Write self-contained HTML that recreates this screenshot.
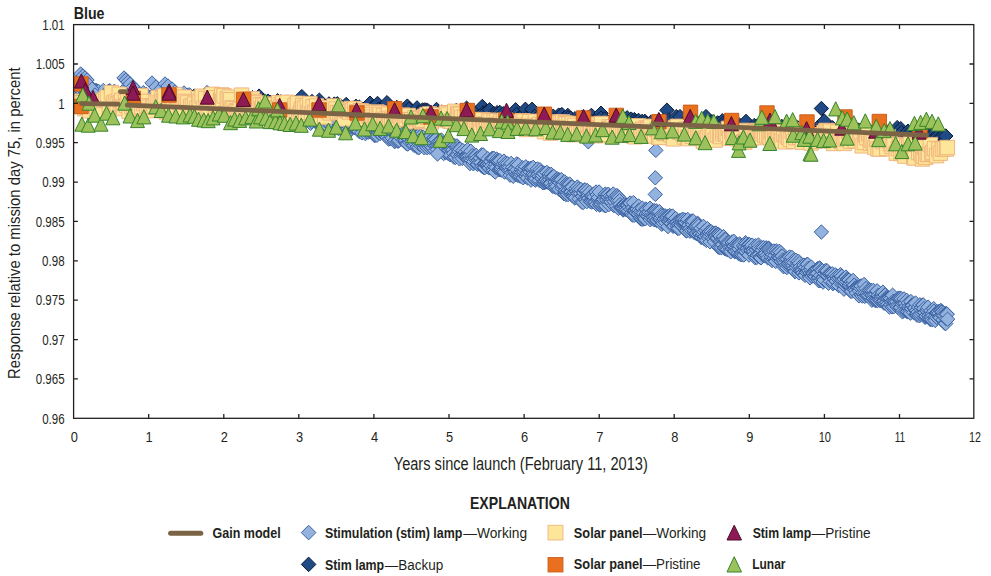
<!DOCTYPE html><html><head><meta charset="utf-8"><style>html,body{margin:0;padding:0;background:#fff;}svg{display:block;}</style></head><body><svg width="991" height="576" viewBox="0 0 991 576"><rect width="991" height="576" fill="#fff"/><defs><clipPath id="pc"><rect x="73.6" y="24.5" width="900.5" height="393.8"/></clipPath></defs><g clip-path="url(#pc)"><g fill="#93b2dd" stroke="#3b62a2" stroke-width="1"><path d="M76 86.3l7.2 7.2-7.2 7.2-7.2-7.2z"/><path d="M76.4 90.9l7.2 7.2-7.2 7.2-7.2-7.2z"/><path d="M76.7 89.3l7.2 7.2-7.2 7.2-7.2-7.2z"/><path d="M77.2 82.7l7.2 7.2-7.2 7.2-7.2-7.2z"/><path d="M77.7 82.4l7.2 7.2-7.2 7.2-7.2-7.2z"/><path d="M78.2 82.9l7.2 7.2-7.2 7.2-7.2-7.2z"/><path d="M78.5 87.9l7.2 7.2-7.2 7.2-7.2-7.2z"/><path d="M79.2 83.7l7.2 7.2-7.2 7.2-7.2-7.2z"/><path d="M79.6 90.8l7.2 7.2-7.2 7.2-7.2-7.2z"/><path d="M80.3 90.1l7.2 7.2-7.2 7.2-7.2-7.2z"/><path d="M80.8 95.7l7.2 7.2-7.2 7.2-7.2-7.2z"/><path d="M81.1 94.1l7.2 7.2-7.2 7.2-7.2-7.2z"/><path d="M81.6 84.1l7.2 7.2-7.2 7.2-7.2-7.2z"/><path d="M81.9 86.4l7.2 7.2-7.2 7.2-7.2-7.2z"/><path d="M82.6 84.7l7.2 7.2-7.2 7.2-7.2-7.2z"/><path d="M83.1 91.1l7.2 7.2-7.2 7.2-7.2-7.2z"/><path d="M83.6 89.9l7.2 7.2-7.2 7.2-7.2-7.2z"/><path d="M83.9 83.1l7.2 7.2-7.2 7.2-7.2-7.2z"/><path d="M84.3 91.8l7.2 7.2-7.2 7.2-7.2-7.2z"/><path d="M84.8 86.7l7.2 7.2-7.2 7.2-7.2-7.2z"/><path d="M85.4 88.7l7.2 7.2-7.2 7.2-7.2-7.2z"/><path d="M85.8 93.5l7.2 7.2-7.2 7.2-7.2-7.2z"/><path d="M86.4 85.8l7.2 7.2-7.2 7.2-7.2-7.2z"/><path d="M87 89.7l7.2 7.2-7.2 7.2-7.2-7.2z"/><path d="M87.7 92.6l7.2 7.2-7.2 7.2-7.2-7.2z"/><path d="M88.1 96.2l7.2 7.2-7.2 7.2-7.2-7.2z"/><path d="M88.5 88.3l7.2 7.2-7.2 7.2-7.2-7.2z"/><path d="M89.1 84.6l7.2 7.2-7.2 7.2-7.2-7.2z"/><path d="M89.6 83.1l7.2 7.2-7.2 7.2-7.2-7.2z"/><path d="M90.2 93.3l7.2 7.2-7.2 7.2-7.2-7.2z"/><path d="M90.8 94.9l7.2 7.2-7.2 7.2-7.2-7.2z"/><path d="M91.2 92.4l7.2 7.2-7.2 7.2-7.2-7.2z"/><path d="M91.8 90.8l7.2 7.2-7.2 7.2-7.2-7.2z"/><path d="M92.3 94.4l7.2 7.2-7.2 7.2-7.2-7.2z"/><path d="M93 89.4l7.2 7.2-7.2 7.2-7.2-7.2z"/><path d="M93.6 83.6l7.2 7.2-7.2 7.2-7.2-7.2z"/><path d="M94.2 91.8l7.2 7.2-7.2 7.2-7.2-7.2z"/><path d="M95 94.3l7.2 7.2-7.2 7.2-7.2-7.2z"/><path d="M95.4 88.3l7.2 7.2-7.2 7.2-7.2-7.2z"/><path d="M96 83.2l7.2 7.2-7.2 7.2-7.2-7.2z"/><path d="M96.5 85.3l7.2 7.2-7.2 7.2-7.2-7.2z"/><path d="M96.9 83.8l7.2 7.2-7.2 7.2-7.2-7.2z"/><path d="M97.5 84.8l7.2 7.2-7.2 7.2-7.2-7.2z"/><path d="M97.9 88.5l7.2 7.2-7.2 7.2-7.2-7.2z"/><path d="M98.6 84.2l7.2 7.2-7.2 7.2-7.2-7.2z"/><path d="M99.1 90.7l7.2 7.2-7.2 7.2-7.2-7.2z"/><path d="M99.8 94.6l7.2 7.2-7.2 7.2-7.2-7.2z"/><path d="M100.5 87l7.2 7.2-7.2 7.2-7.2-7.2z"/><path d="M101 88.2l7.2 7.2-7.2 7.2-7.2-7.2z"/><path d="M101.7 96.6l7.2 7.2-7.2 7.2-7.2-7.2z"/><path d="M102.1 85.7l7.2 7.2-7.2 7.2-7.2-7.2z"/><path d="M102.5 86.5l7.2 7.2-7.2 7.2-7.2-7.2z"/><path d="M103 91.5l7.2 7.2-7.2 7.2-7.2-7.2z"/><path d="M103.4 83.3l7.2 7.2-7.2 7.2-7.2-7.2z"/><path d="M103.9 88.5l7.2 7.2-7.2 7.2-7.2-7.2z"/><path d="M104.5 96.7l7.2 7.2-7.2 7.2-7.2-7.2z"/><path d="M105.1 90.6l7.2 7.2-7.2 7.2-7.2-7.2z"/><path d="M105.6 92.9l7.2 7.2-7.2 7.2-7.2-7.2z"/><path d="M106 96l7.2 7.2-7.2 7.2-7.2-7.2z"/><path d="M106.6 95.7l7.2 7.2-7.2 7.2-7.2-7.2z"/><path d="M107.3 89l7.2 7.2-7.2 7.2-7.2-7.2z"/><path d="M107.8 85l7.2 7.2-7.2 7.2-7.2-7.2z"/><path d="M108.3 84.4l7.2 7.2-7.2 7.2-7.2-7.2z"/><path d="M108.7 86.5l7.2 7.2-7.2 7.2-7.2-7.2z"/><path d="M109 88.3l7.2 7.2-7.2 7.2-7.2-7.2z"/><path d="M109.4 83.6l7.2 7.2-7.2 7.2-7.2-7.2z"/><path d="M109.7 85l7.2 7.2-7.2 7.2-7.2-7.2z"/><path d="M110.2 84l7.2 7.2-7.2 7.2-7.2-7.2z"/><path d="M110.9 92.3l7.2 7.2-7.2 7.2-7.2-7.2z"/><path d="M111.3 87.2l7.2 7.2-7.2 7.2-7.2-7.2z"/><path d="M111.7 88.8l7.2 7.2-7.2 7.2-7.2-7.2z"/><path d="M112.1 95.6l7.2 7.2-7.2 7.2-7.2-7.2z"/><path d="M112.8 90.3l7.2 7.2-7.2 7.2-7.2-7.2z"/><path d="M113.3 85l7.2 7.2-7.2 7.2-7.2-7.2z"/><path d="M113.7 88.6l7.2 7.2-7.2 7.2-7.2-7.2z"/><path d="M114.1 95.5l7.2 7.2-7.2 7.2-7.2-7.2z"/><path d="M114.5 84.2l7.2 7.2-7.2 7.2-7.2-7.2z"/><path d="M115.2 91.3l7.2 7.2-7.2 7.2-7.2-7.2z"/><path d="M115.6 91.5l7.2 7.2-7.2 7.2-7.2-7.2z"/><path d="M115.9 91.3l7.2 7.2-7.2 7.2-7.2-7.2z"/><path d="M116.6 96.1l7.2 7.2-7.2 7.2-7.2-7.2z"/><path d="M117.2 87.7l7.2 7.2-7.2 7.2-7.2-7.2z"/><path d="M117.7 86.4l7.2 7.2-7.2 7.2-7.2-7.2z"/><path d="M118.3 91.5l7.2 7.2-7.2 7.2-7.2-7.2z"/><path d="M119 88.7l7.2 7.2-7.2 7.2-7.2-7.2z"/><path d="M119.4 95.5l7.2 7.2-7.2 7.2-7.2-7.2z"/><path d="M120.1 96.1l7.2 7.2-7.2 7.2-7.2-7.2z"/><path d="M120.8 95.7l7.2 7.2-7.2 7.2-7.2-7.2z"/><path d="M121.4 87.4l7.2 7.2-7.2 7.2-7.2-7.2z"/><path d="M122 89.3l7.2 7.2-7.2 7.2-7.2-7.2z"/><path d="M122.3 84.7l7.2 7.2-7.2 7.2-7.2-7.2z"/><path d="M122.7 88l7.2 7.2-7.2 7.2-7.2-7.2z"/><path d="M123.3 97.7l7.2 7.2-7.2 7.2-7.2-7.2z"/><path d="M123.8 97.5l7.2 7.2-7.2 7.2-7.2-7.2z"/><path d="M124.6 97.8l7.2 7.2-7.2 7.2-7.2-7.2z"/><path d="M125 87.5l7.2 7.2-7.2 7.2-7.2-7.2z"/><path d="M125.4 87.2l7.2 7.2-7.2 7.2-7.2-7.2z"/><path d="M125.8 93.2l7.2 7.2-7.2 7.2-7.2-7.2z"/><path d="M126.5 96.3l7.2 7.2-7.2 7.2-7.2-7.2z"/><path d="M127 93.7l7.2 7.2-7.2 7.2-7.2-7.2z"/><path d="M127.7 85.8l7.2 7.2-7.2 7.2-7.2-7.2z"/><path d="M128.3 97.4l7.2 7.2-7.2 7.2-7.2-7.2z"/><path d="M129 95.2l7.2 7.2-7.2 7.2-7.2-7.2z"/><path d="M129.5 87.2l7.2 7.2-7.2 7.2-7.2-7.2z"/><path d="M130.1 89.4l7.2 7.2-7.2 7.2-7.2-7.2z"/><path d="M130.8 98.4l7.2 7.2-7.2 7.2-7.2-7.2z"/><path d="M131.3 90.4l7.2 7.2-7.2 7.2-7.2-7.2z"/><path d="M132 95l7.2 7.2-7.2 7.2-7.2-7.2z"/><path d="M132.4 86.6l7.2 7.2-7.2 7.2-7.2-7.2z"/><path d="M132.7 97.5l7.2 7.2-7.2 7.2-7.2-7.2z"/><path d="M133.4 86.9l7.2 7.2-7.2 7.2-7.2-7.2z"/><path d="M134.1 98.7l7.2 7.2-7.2 7.2-7.2-7.2z"/><path d="M134.7 89.9l7.2 7.2-7.2 7.2-7.2-7.2z"/><path d="M135.2 86.8l7.2 7.2-7.2 7.2-7.2-7.2z"/><path d="M135.5 98.6l7.2 7.2-7.2 7.2-7.2-7.2z"/><path d="M136.1 92.4l7.2 7.2-7.2 7.2-7.2-7.2z"/><path d="M136.8 91.2l7.2 7.2-7.2 7.2-7.2-7.2z"/><path d="M137.5 96.7l7.2 7.2-7.2 7.2-7.2-7.2z"/><path d="M137.9 88.7l7.2 7.2-7.2 7.2-7.2-7.2z"/><path d="M138.3 88.5l7.2 7.2-7.2 7.2-7.2-7.2z"/><path d="M138.9 88.8l7.2 7.2-7.2 7.2-7.2-7.2z"/><path d="M139.4 87.1l7.2 7.2-7.2 7.2-7.2-7.2z"/><path d="M140.1 90.2l7.2 7.2-7.2 7.2-7.2-7.2z"/><path d="M140.6 93.5l7.2 7.2-7.2 7.2-7.2-7.2z"/><path d="M141.3 91.2l7.2 7.2-7.2 7.2-7.2-7.2z"/><path d="M142 92.4l7.2 7.2-7.2 7.2-7.2-7.2z"/><path d="M142.6 92.7l7.2 7.2-7.2 7.2-7.2-7.2z"/><path d="M142.9 91.6l7.2 7.2-7.2 7.2-7.2-7.2z"/><path d="M143.3 85.5l7.2 7.2-7.2 7.2-7.2-7.2z"/><path d="M143.9 87.9l7.2 7.2-7.2 7.2-7.2-7.2z"/><path d="M144.4 95.7l7.2 7.2-7.2 7.2-7.2-7.2z"/><path d="M145 90.1l7.2 7.2-7.2 7.2-7.2-7.2z"/><path d="M145.5 93.3l7.2 7.2-7.2 7.2-7.2-7.2z"/><path d="M146.2 87.1l7.2 7.2-7.2 7.2-7.2-7.2z"/><path d="M146.7 89.1l7.2 7.2-7.2 7.2-7.2-7.2z"/><path d="M147.2 96.5l7.2 7.2-7.2 7.2-7.2-7.2z"/><path d="M147.7 93.5l7.2 7.2-7.2 7.2-7.2-7.2z"/><path d="M148.3 98.5l7.2 7.2-7.2 7.2-7.2-7.2z"/><path d="M148.8 94.3l7.2 7.2-7.2 7.2-7.2-7.2z"/><path d="M149.3 92.9l7.2 7.2-7.2 7.2-7.2-7.2z"/><path d="M150 92.1l7.2 7.2-7.2 7.2-7.2-7.2z"/><path d="M150.5 92.5l7.2 7.2-7.2 7.2-7.2-7.2z"/><path d="M151.2 95.7l7.2 7.2-7.2 7.2-7.2-7.2z"/><path d="M151.9 99.1l7.2 7.2-7.2 7.2-7.2-7.2z"/><path d="M152.3 93.8l7.2 7.2-7.2 7.2-7.2-7.2z"/><path d="M153.1 97.7l7.2 7.2-7.2 7.2-7.2-7.2z"/><path d="M153.4 87.7l7.2 7.2-7.2 7.2-7.2-7.2z"/><path d="M153.9 87l7.2 7.2-7.2 7.2-7.2-7.2z"/><path d="M154.3 87.1l7.2 7.2-7.2 7.2-7.2-7.2z"/><path d="M154.9 97l7.2 7.2-7.2 7.2-7.2-7.2z"/><path d="M155.6 88.3l7.2 7.2-7.2 7.2-7.2-7.2z"/><path d="M156.3 95.4l7.2 7.2-7.2 7.2-7.2-7.2z"/><path d="M156.6 98.5l7.2 7.2-7.2 7.2-7.2-7.2z"/><path d="M157.4 89.3l7.2 7.2-7.2 7.2-7.2-7.2z"/><path d="M158.1 91.8l7.2 7.2-7.2 7.2-7.2-7.2z"/><path d="M158.6 100.1l7.2 7.2-7.2 7.2-7.2-7.2z"/><path d="M159.3 88.6l7.2 7.2-7.2 7.2-7.2-7.2z"/><path d="M159.8 93.5l7.2 7.2-7.2 7.2-7.2-7.2z"/><path d="M160.2 89.1l7.2 7.2-7.2 7.2-7.2-7.2z"/><path d="M160.7 96.5l7.2 7.2-7.2 7.2-7.2-7.2z"/><path d="M161 94.1l7.2 7.2-7.2 7.2-7.2-7.2z"/><path d="M161.5 86.7l7.2 7.2-7.2 7.2-7.2-7.2z"/><path d="M161.9 95.2l7.2 7.2-7.2 7.2-7.2-7.2z"/><path d="M162.5 87.4l7.2 7.2-7.2 7.2-7.2-7.2z"/><path d="M163.2 97.5l7.2 7.2-7.2 7.2-7.2-7.2z"/><path d="M163.9 88l7.2 7.2-7.2 7.2-7.2-7.2z"/><path d="M164.4 87.1l7.2 7.2-7.2 7.2-7.2-7.2z"/><path d="M165 90.4l7.2 7.2-7.2 7.2-7.2-7.2z"/><path d="M165.4 92.5l7.2 7.2-7.2 7.2-7.2-7.2z"/><path d="M166.1 98.1l7.2 7.2-7.2 7.2-7.2-7.2z"/><path d="M166.5 88.8l7.2 7.2-7.2 7.2-7.2-7.2z"/><path d="M167.2 94.7l7.2 7.2-7.2 7.2-7.2-7.2z"/><path d="M167.8 88l7.2 7.2-7.2 7.2-7.2-7.2z"/><path d="M168.1 96.4l7.2 7.2-7.2 7.2-7.2-7.2z"/><path d="M168.6 87.8l7.2 7.2-7.2 7.2-7.2-7.2z"/><path d="M169.4 95.7l7.2 7.2-7.2 7.2-7.2-7.2z"/><path d="M170 88l7.2 7.2-7.2 7.2-7.2-7.2z"/><path d="M170.7 87.8l7.2 7.2-7.2 7.2-7.2-7.2z"/><path d="M171.4 93.3l7.2 7.2-7.2 7.2-7.2-7.2z"/><path d="M171.8 94.7l7.2 7.2-7.2 7.2-7.2-7.2z"/><path d="M172.6 90.8l7.2 7.2-7.2 7.2-7.2-7.2z"/><path d="M172.9 94.4l7.2 7.2-7.2 7.2-7.2-7.2z"/><path d="M173.3 88.6l7.2 7.2-7.2 7.2-7.2-7.2z"/><path d="M173.7 87.8l7.2 7.2-7.2 7.2-7.2-7.2z"/><path d="M174.1 91.5l7.2 7.2-7.2 7.2-7.2-7.2z"/><path d="M174.5 97.7l7.2 7.2-7.2 7.2-7.2-7.2z"/><path d="M175 94.1l7.2 7.2-7.2 7.2-7.2-7.2z"/><path d="M175.3 92l7.2 7.2-7.2 7.2-7.2-7.2z"/><path d="M175.6 90.7l7.2 7.2-7.2 7.2-7.2-7.2z"/><path d="M176 97.4l7.2 7.2-7.2 7.2-7.2-7.2z"/><path d="M176.5 89.9l7.2 7.2-7.2 7.2-7.2-7.2z"/><path d="M177 100.3l7.2 7.2-7.2 7.2-7.2-7.2z"/><path d="M177.4 98.7l7.2 7.2-7.2 7.2-7.2-7.2z"/><path d="M177.9 94.2l7.2 7.2-7.2 7.2-7.2-7.2z"/><path d="M178.5 92.8l7.2 7.2-7.2 7.2-7.2-7.2z"/><path d="M179.1 97l7.2 7.2-7.2 7.2-7.2-7.2z"/><path d="M179.8 92.2l7.2 7.2-7.2 7.2-7.2-7.2z"/><path d="M180.5 97.3l7.2 7.2-7.2 7.2-7.2-7.2z"/><path d="M181.1 93.1l7.2 7.2-7.2 7.2-7.2-7.2z"/><path d="M181.5 88.2l7.2 7.2-7.2 7.2-7.2-7.2z"/><path d="M181.9 88.5l7.2 7.2-7.2 7.2-7.2-7.2z"/><path d="M182.5 91.1l7.2 7.2-7.2 7.2-7.2-7.2z"/><path d="M182.9 88.7l7.2 7.2-7.2 7.2-7.2-7.2z"/><path d="M183.6 99.8l7.2 7.2-7.2 7.2-7.2-7.2z"/><path d="M184.2 91.6l7.2 7.2-7.2 7.2-7.2-7.2z"/><path d="M184.6 91.7l7.2 7.2-7.2 7.2-7.2-7.2z"/><path d="M185.1 89.9l7.2 7.2-7.2 7.2-7.2-7.2z"/><path d="M185.6 91.4l7.2 7.2-7.2 7.2-7.2-7.2z"/><path d="M186.3 101.4l7.2 7.2-7.2 7.2-7.2-7.2z"/><path d="M186.9 91.2l7.2 7.2-7.2 7.2-7.2-7.2z"/><path d="M187.6 92.1l7.2 7.2-7.2 7.2-7.2-7.2z"/><path d="M188.1 87.8l7.2 7.2-7.2 7.2-7.2-7.2z"/><path d="M188.5 94.5l7.2 7.2-7.2 7.2-7.2-7.2z"/><path d="M189.1 90.7l7.2 7.2-7.2 7.2-7.2-7.2z"/><path d="M189.6 88l7.2 7.2-7.2 7.2-7.2-7.2z"/><path d="M190 89.2l7.2 7.2-7.2 7.2-7.2-7.2z"/><path d="M190.5 88.5l7.2 7.2-7.2 7.2-7.2-7.2z"/><path d="M190.8 92.2l7.2 7.2-7.2 7.2-7.2-7.2z"/><path d="M191.2 96.2l7.2 7.2-7.2 7.2-7.2-7.2z"/><path d="M191.7 98.5l7.2 7.2-7.2 7.2-7.2-7.2z"/><path d="M192.3 98.1l7.2 7.2-7.2 7.2-7.2-7.2z"/><path d="M193 93.5l7.2 7.2-7.2 7.2-7.2-7.2z"/><path d="M193.5 101.9l7.2 7.2-7.2 7.2-7.2-7.2z"/><path d="M193.8 98.3l7.2 7.2-7.2 7.2-7.2-7.2z"/><path d="M194.4 88.8l7.2 7.2-7.2 7.2-7.2-7.2z"/><path d="M195.1 100.7l7.2 7.2-7.2 7.2-7.2-7.2z"/><path d="M195.7 98.5l7.2 7.2-7.2 7.2-7.2-7.2z"/><path d="M196.4 90.2l7.2 7.2-7.2 7.2-7.2-7.2z"/><path d="M196.9 95.4l7.2 7.2-7.2 7.2-7.2-7.2z"/><path d="M197.6 99.6l7.2 7.2-7.2 7.2-7.2-7.2z"/><path d="M198.2 96.5l7.2 7.2-7.2 7.2-7.2-7.2z"/><path d="M198.9 98l7.2 7.2-7.2 7.2-7.2-7.2z"/><path d="M199.6 91.7l7.2 7.2-7.2 7.2-7.2-7.2z"/><path d="M199.9 90.3l7.2 7.2-7.2 7.2-7.2-7.2z"/><path d="M200.3 90l7.2 7.2-7.2 7.2-7.2-7.2z"/><path d="M201 96.3l7.2 7.2-7.2 7.2-7.2-7.2z"/><path d="M201.6 97.3l7.2 7.2-7.2 7.2-7.2-7.2z"/><path d="M202.2 95.4l7.2 7.2-7.2 7.2-7.2-7.2z"/><path d="M202.5 99.8l7.2 7.2-7.2 7.2-7.2-7.2z"/><path d="M203.1 95.7l7.2 7.2-7.2 7.2-7.2-7.2z"/><path d="M203.7 97.9l7.2 7.2-7.2 7.2-7.2-7.2z"/><path d="M204 99l7.2 7.2-7.2 7.2-7.2-7.2z"/><path d="M204.4 89.7l7.2 7.2-7.2 7.2-7.2-7.2z"/><path d="M204.8 98.9l7.2 7.2-7.2 7.2-7.2-7.2z"/><path d="M205.2 99.1l7.2 7.2-7.2 7.2-7.2-7.2z"/><path d="M206 95.7l7.2 7.2-7.2 7.2-7.2-7.2z"/><path d="M206.4 95.5l7.2 7.2-7.2 7.2-7.2-7.2z"/><path d="M207 99.6l7.2 7.2-7.2 7.2-7.2-7.2z"/><path d="M207.6 97.9l7.2 7.2-7.2 7.2-7.2-7.2z"/><path d="M208 91l7.2 7.2-7.2 7.2-7.2-7.2z"/><path d="M208.4 99.3l7.2 7.2-7.2 7.2-7.2-7.2z"/><path d="M208.8 96.9l7.2 7.2-7.2 7.2-7.2-7.2z"/><path d="M209.1 89.8l7.2 7.2-7.2 7.2-7.2-7.2z"/><path d="M209.5 98.4l7.2 7.2-7.2 7.2-7.2-7.2z"/><path d="M210.1 98.5l7.2 7.2-7.2 7.2-7.2-7.2z"/><path d="M210.6 96.3l7.2 7.2-7.2 7.2-7.2-7.2z"/><path d="M211.1 95.6l7.2 7.2-7.2 7.2-7.2-7.2z"/><path d="M211.4 101.6l7.2 7.2-7.2 7.2-7.2-7.2z"/><path d="M211.8 102.8l7.2 7.2-7.2 7.2-7.2-7.2z"/><path d="M212.6 89.4l7.2 7.2-7.2 7.2-7.2-7.2z"/><path d="M213.1 100.6l7.2 7.2-7.2 7.2-7.2-7.2z"/><path d="M213.8 95.5l7.2 7.2-7.2 7.2-7.2-7.2z"/><path d="M214.2 92.2l7.2 7.2-7.2 7.2-7.2-7.2z"/><path d="M214.9 92.2l7.2 7.2-7.2 7.2-7.2-7.2z"/><path d="M215.5 91.3l7.2 7.2-7.2 7.2-7.2-7.2z"/><path d="M216 102.7l7.2 7.2-7.2 7.2-7.2-7.2z"/><path d="M216.4 100.8l7.2 7.2-7.2 7.2-7.2-7.2z"/><path d="M216.9 101.8l7.2 7.2-7.2 7.2-7.2-7.2z"/><path d="M217.5 92.6l7.2 7.2-7.2 7.2-7.2-7.2z"/><path d="M218.2 96.2l7.2 7.2-7.2 7.2-7.2-7.2z"/><path d="M218.6 89.5l7.2 7.2-7.2 7.2-7.2-7.2z"/><path d="M219.1 95.8l7.2 7.2-7.2 7.2-7.2-7.2z"/><path d="M219.5 91.5l7.2 7.2-7.2 7.2-7.2-7.2z"/><path d="M220 94l7.2 7.2-7.2 7.2-7.2-7.2z"/><path d="M220.6 89.6l7.2 7.2-7.2 7.2-7.2-7.2z"/><path d="M221.3 101.3l7.2 7.2-7.2 7.2-7.2-7.2z"/><path d="M221.6 102.6l7.2 7.2-7.2 7.2-7.2-7.2z"/><path d="M222.3 102.3l7.2 7.2-7.2 7.2-7.2-7.2z"/><path d="M222.7 94.9l7.2 7.2-7.2 7.2-7.2-7.2z"/><path d="M223.2 103.7l7.2 7.2-7.2 7.2-7.2-7.2z"/><path d="M223.7 94.8l7.2 7.2-7.2 7.2-7.2-7.2z"/><path d="M224.2 93.6l7.2 7.2-7.2 7.2-7.2-7.2z"/><path d="M224.5 91.2l7.2 7.2-7.2 7.2-7.2-7.2z"/><path d="M225.2 93.8l7.2 7.2-7.2 7.2-7.2-7.2z"/><path d="M225.9 93.5l7.2 7.2-7.2 7.2-7.2-7.2z"/><path d="M226.4 97.2l7.2 7.2-7.2 7.2-7.2-7.2z"/><path d="M226.7 95.3l7.2 7.2-7.2 7.2-7.2-7.2z"/><path d="M227.5 102.6l7.2 7.2-7.2 7.2-7.2-7.2z"/><path d="M228.1 99.2l7.2 7.2-7.2 7.2-7.2-7.2z"/><path d="M228.9 103.6l7.2 7.2-7.2 7.2-7.2-7.2z"/><path d="M229.4 100.6l7.2 7.2-7.2 7.2-7.2-7.2z"/><path d="M229.7 100.9l7.2 7.2-7.2 7.2-7.2-7.2z"/><path d="M230.2 101.3l7.2 7.2-7.2 7.2-7.2-7.2z"/><path d="M230.8 94.8l7.2 7.2-7.2 7.2-7.2-7.2z"/><path d="M231.1 103.8l7.2 7.2-7.2 7.2-7.2-7.2z"/><path d="M231.5 97.5l7.2 7.2-7.2 7.2-7.2-7.2z"/><path d="M232 95.2l7.2 7.2-7.2 7.2-7.2-7.2z"/><path d="M232.6 104.8l7.2 7.2-7.2 7.2-7.2-7.2z"/><path d="M233 100.4l7.2 7.2-7.2 7.2-7.2-7.2z"/><path d="M233.4 99.1l7.2 7.2-7.2 7.2-7.2-7.2z"/><path d="M233.9 93.7l7.2 7.2-7.2 7.2-7.2-7.2z"/><path d="M234.3 94.3l7.2 7.2-7.2 7.2-7.2-7.2z"/><path d="M235 98.5l7.2 7.2-7.2 7.2-7.2-7.2z"/><path d="M235.4 104.3l7.2 7.2-7.2 7.2-7.2-7.2z"/><path d="M236.1 98l7.2 7.2-7.2 7.2-7.2-7.2z"/><path d="M236.5 94.5l7.2 7.2-7.2 7.2-7.2-7.2z"/><path d="M236.8 96.7l7.2 7.2-7.2 7.2-7.2-7.2z"/><path d="M237.2 95.3l7.2 7.2-7.2 7.2-7.2-7.2z"/><path d="M237.6 100l7.2 7.2-7.2 7.2-7.2-7.2z"/><path d="M238.3 102.6l7.2 7.2-7.2 7.2-7.2-7.2z"/><path d="M238.8 98l7.2 7.2-7.2 7.2-7.2-7.2z"/><path d="M239.3 97.6l7.2 7.2-7.2 7.2-7.2-7.2z"/><path d="M239.8 93.3l7.2 7.2-7.2 7.2-7.2-7.2z"/><path d="M240.2 106l7.2 7.2-7.2 7.2-7.2-7.2z"/><path d="M240.6 99.6l7.2 7.2-7.2 7.2-7.2-7.2z"/><path d="M241.1 104.7l7.2 7.2-7.2 7.2-7.2-7.2z"/><path d="M241.5 96.5l7.2 7.2-7.2 7.2-7.2-7.2z"/><path d="M241.9 98.4l7.2 7.2-7.2 7.2-7.2-7.2z"/><path d="M242.4 106.2l7.2 7.2-7.2 7.2-7.2-7.2z"/><path d="M243.1 105.2l7.2 7.2-7.2 7.2-7.2-7.2z"/><path d="M243.4 93.5l7.2 7.2-7.2 7.2-7.2-7.2z"/><path d="M244.1 105.7l7.2 7.2-7.2 7.2-7.2-7.2z"/><path d="M244.6 101.4l7.2 7.2-7.2 7.2-7.2-7.2z"/><path d="M244.9 98.8l7.2 7.2-7.2 7.2-7.2-7.2z"/><path d="M245.6 105l7.2 7.2-7.2 7.2-7.2-7.2z"/><path d="M246.3 107.1l7.2 7.2-7.2 7.2-7.2-7.2z"/><path d="M246.7 95.1l7.2 7.2-7.2 7.2-7.2-7.2z"/><path d="M247.1 101l7.2 7.2-7.2 7.2-7.2-7.2z"/><path d="M247.7 106.9l7.2 7.2-7.2 7.2-7.2-7.2z"/><path d="M248.3 102.9l7.2 7.2-7.2 7.2-7.2-7.2z"/><path d="M248.9 100.4l7.2 7.2-7.2 7.2-7.2-7.2z"/><path d="M249.5 94.6l7.2 7.2-7.2 7.2-7.2-7.2z"/><path d="M250.1 97.5l7.2 7.2-7.2 7.2-7.2-7.2z"/><path d="M250.8 103.4l7.2 7.2-7.2 7.2-7.2-7.2z"/><path d="M251.3 96.2l7.2 7.2-7.2 7.2-7.2-7.2z"/><path d="M251.7 103.4l7.2 7.2-7.2 7.2-7.2-7.2z"/><path d="M252.3 96.1l7.2 7.2-7.2 7.2-7.2-7.2z"/><path d="M252.6 102l7.2 7.2-7.2 7.2-7.2-7.2z"/><path d="M253.2 100.2l7.2 7.2-7.2 7.2-7.2-7.2z"/><path d="M253.6 103.2l7.2 7.2-7.2 7.2-7.2-7.2z"/><path d="M253.9 99.1l7.2 7.2-7.2 7.2-7.2-7.2z"/><path d="M254.4 108.4l7.2 7.2-7.2 7.2-7.2-7.2z"/><path d="M255 107.4l7.2 7.2-7.2 7.2-7.2-7.2z"/><path d="M255.5 98.4l7.2 7.2-7.2 7.2-7.2-7.2z"/><path d="M255.9 108.7l7.2 7.2-7.2 7.2-7.2-7.2z"/><path d="M256.6 99.6l7.2 7.2-7.2 7.2-7.2-7.2z"/><path d="M256.9 102.4l7.2 7.2-7.2 7.2-7.2-7.2z"/><path d="M257.5 101.4l7.2 7.2-7.2 7.2-7.2-7.2z"/><path d="M257.9 104.9l7.2 7.2-7.2 7.2-7.2-7.2z"/><path d="M258.6 98.9l7.2 7.2-7.2 7.2-7.2-7.2z"/><path d="M258.9 100.5l7.2 7.2-7.2 7.2-7.2-7.2z"/><path d="M259.4 105.4l7.2 7.2-7.2 7.2-7.2-7.2z"/><path d="M259.8 107l7.2 7.2-7.2 7.2-7.2-7.2z"/><path d="M260.4 103.1l7.2 7.2-7.2 7.2-7.2-7.2z"/><path d="M260.8 109.6l7.2 7.2-7.2 7.2-7.2-7.2z"/><path d="M261.3 107.6l7.2 7.2-7.2 7.2-7.2-7.2z"/><path d="M261.7 99.3l7.2 7.2-7.2 7.2-7.2-7.2z"/><path d="M262.3 100.5l7.2 7.2-7.2 7.2-7.2-7.2z"/><path d="M263 103.4l7.2 7.2-7.2 7.2-7.2-7.2z"/><path d="M263.4 99.6l7.2 7.2-7.2 7.2-7.2-7.2z"/><path d="M263.9 105.9l7.2 7.2-7.2 7.2-7.2-7.2z"/><path d="M264.6 98.8l7.2 7.2-7.2 7.2-7.2-7.2z"/><path d="M265.1 99.8l7.2 7.2-7.2 7.2-7.2-7.2z"/><path d="M265.8 98.9l7.2 7.2-7.2 7.2-7.2-7.2z"/><path d="M266.2 97.8l7.2 7.2-7.2 7.2-7.2-7.2z"/><path d="M266.6 109.6l7.2 7.2-7.2 7.2-7.2-7.2z"/><path d="M267.3 107.4l7.2 7.2-7.2 7.2-7.2-7.2z"/><path d="M268.1 110.3l7.2 7.2-7.2 7.2-7.2-7.2z"/><path d="M268.5 100l7.2 7.2-7.2 7.2-7.2-7.2z"/><path d="M269.3 107.9l7.2 7.2-7.2 7.2-7.2-7.2z"/><path d="M269.6 106.8l7.2 7.2-7.2 7.2-7.2-7.2z"/><path d="M270 102.8l7.2 7.2-7.2 7.2-7.2-7.2z"/><path d="M270.5 100l7.2 7.2-7.2 7.2-7.2-7.2z"/><path d="M270.8 101.6l7.2 7.2-7.2 7.2-7.2-7.2z"/><path d="M271.3 111.2l7.2 7.2-7.2 7.2-7.2-7.2z"/><path d="M271.6 111.3l7.2 7.2-7.2 7.2-7.2-7.2z"/><path d="M272 102.9l7.2 7.2-7.2 7.2-7.2-7.2z"/><path d="M272.7 109.5l7.2 7.2-7.2 7.2-7.2-7.2z"/><path d="M273.2 98.8l7.2 7.2-7.2 7.2-7.2-7.2z"/><path d="M273.7 103.4l7.2 7.2-7.2 7.2-7.2-7.2z"/><path d="M274.4 101l7.2 7.2-7.2 7.2-7.2-7.2z"/><path d="M274.9 110.9l7.2 7.2-7.2 7.2-7.2-7.2z"/><path d="M275.2 104.1l7.2 7.2-7.2 7.2-7.2-7.2z"/><path d="M275.8 109.2l7.2 7.2-7.2 7.2-7.2-7.2z"/><path d="M276.2 99l7.2 7.2-7.2 7.2-7.2-7.2z"/><path d="M276.5 111.5l7.2 7.2-7.2 7.2-7.2-7.2z"/><path d="M276.9 109.1l7.2 7.2-7.2 7.2-7.2-7.2z"/><path d="M277.6 103.5l7.2 7.2-7.2 7.2-7.2-7.2z"/><path d="M278 112.3l7.2 7.2-7.2 7.2-7.2-7.2z"/><path d="M278.6 102.6l7.2 7.2-7.2 7.2-7.2-7.2z"/><path d="M279.2 103.5l7.2 7.2-7.2 7.2-7.2-7.2z"/><path d="M279.6 99.2l7.2 7.2-7.2 7.2-7.2-7.2z"/><path d="M280.3 112l7.2 7.2-7.2 7.2-7.2-7.2z"/><path d="M280.9 112.5l7.2 7.2-7.2 7.2-7.2-7.2z"/><path d="M281.2 102.6l7.2 7.2-7.2 7.2-7.2-7.2z"/><path d="M281.7 112.8l7.2 7.2-7.2 7.2-7.2-7.2z"/><path d="M282.4 105l7.2 7.2-7.2 7.2-7.2-7.2z"/><path d="M282.8 105.6l7.2 7.2-7.2 7.2-7.2-7.2z"/><path d="M283.4 112.7l7.2 7.2-7.2 7.2-7.2-7.2z"/><path d="M283.7 111l7.2 7.2-7.2 7.2-7.2-7.2z"/><path d="M284.4 111.4l7.2 7.2-7.2 7.2-7.2-7.2z"/><path d="M285 108.4l7.2 7.2-7.2 7.2-7.2-7.2z"/><path d="M285.5 104.5l7.2 7.2-7.2 7.2-7.2-7.2z"/><path d="M285.9 111l7.2 7.2-7.2 7.2-7.2-7.2z"/><path d="M286.3 102.9l7.2 7.2-7.2 7.2-7.2-7.2z"/><path d="M286.9 103.7l7.2 7.2-7.2 7.2-7.2-7.2z"/><path d="M287.2 100.8l7.2 7.2-7.2 7.2-7.2-7.2z"/><path d="M287.8 104.9l7.2 7.2-7.2 7.2-7.2-7.2z"/><path d="M288.5 112.9l7.2 7.2-7.2 7.2-7.2-7.2z"/><path d="M289.3 104.3l7.2 7.2-7.2 7.2-7.2-7.2z"/><path d="M289.6 102l7.2 7.2-7.2 7.2-7.2-7.2z"/><path d="M290.1 110.7l7.2 7.2-7.2 7.2-7.2-7.2z"/><path d="M290.6 104.1l7.2 7.2-7.2 7.2-7.2-7.2z"/><path d="M291.1 109.6l7.2 7.2-7.2 7.2-7.2-7.2z"/><path d="M291.7 111.5l7.2 7.2-7.2 7.2-7.2-7.2z"/><path d="M292.4 110.4l7.2 7.2-7.2 7.2-7.2-7.2z"/><path d="M292.8 112.9l7.2 7.2-7.2 7.2-7.2-7.2z"/><path d="M293.2 109.2l7.2 7.2-7.2 7.2-7.2-7.2z"/><path d="M293.7 111.6l7.2 7.2-7.2 7.2-7.2-7.2z"/><path d="M294.1 104.8l7.2 7.2-7.2 7.2-7.2-7.2z"/><path d="M294.5 103.6l7.2 7.2-7.2 7.2-7.2-7.2z"/><path d="M295.2 109.6l7.2 7.2-7.2 7.2-7.2-7.2z"/><path d="M295.6 107.2l7.2 7.2-7.2 7.2-7.2-7.2z"/><path d="M296.4 108.8l7.2 7.2-7.2 7.2-7.2-7.2z"/><path d="M296.8 113.1l7.2 7.2-7.2 7.2-7.2-7.2z"/><path d="M297.4 115.8l7.2 7.2-7.2 7.2-7.2-7.2z"/><path d="M297.7 108.6l7.2 7.2-7.2 7.2-7.2-7.2z"/><path d="M298.4 113.8l7.2 7.2-7.2 7.2-7.2-7.2z"/><path d="M299.1 102.7l7.2 7.2-7.2 7.2-7.2-7.2z"/><path d="M299.5 103.9l7.2 7.2-7.2 7.2-7.2-7.2z"/><path d="M299.9 115.9l7.2 7.2-7.2 7.2-7.2-7.2z"/><path d="M300.5 115.4l7.2 7.2-7.2 7.2-7.2-7.2z"/><path d="M300.9 114.6l7.2 7.2-7.2 7.2-7.2-7.2z"/><path d="M301.4 106.2l7.2 7.2-7.2 7.2-7.2-7.2z"/><path d="M302.1 115.9l7.2 7.2-7.2 7.2-7.2-7.2z"/><path d="M302.4 111l7.2 7.2-7.2 7.2-7.2-7.2z"/><path d="M303 105.8l7.2 7.2-7.2 7.2-7.2-7.2z"/><path d="M303.5 104.8l7.2 7.2-7.2 7.2-7.2-7.2z"/><path d="M303.9 106.5l7.2 7.2-7.2 7.2-7.2-7.2z"/><path d="M304.4 112.1l7.2 7.2-7.2 7.2-7.2-7.2z"/><path d="M304.8 103.2l7.2 7.2-7.2 7.2-7.2-7.2z"/><path d="M305.3 112.6l7.2 7.2-7.2 7.2-7.2-7.2z"/><path d="M305.7 107.6l7.2 7.2-7.2 7.2-7.2-7.2z"/><path d="M306 114.4l7.2 7.2-7.2 7.2-7.2-7.2z"/><path d="M306.6 104.2l7.2 7.2-7.2 7.2-7.2-7.2z"/><path d="M306.9 108.9l7.2 7.2-7.2 7.2-7.2-7.2z"/><path d="M307.5 112.4l7.2 7.2-7.2 7.2-7.2-7.2z"/><path d="M307.8 105.8l7.2 7.2-7.2 7.2-7.2-7.2z"/><path d="M308.4 109.4l7.2 7.2-7.2 7.2-7.2-7.2z"/><path d="M308.9 108l7.2 7.2-7.2 7.2-7.2-7.2z"/><path d="M309.6 108.2l7.2 7.2-7.2 7.2-7.2-7.2z"/><path d="M310.2 108.9l7.2 7.2-7.2 7.2-7.2-7.2z"/><path d="M310.6 116.1l7.2 7.2-7.2 7.2-7.2-7.2z"/><path d="M311.4 109.2l7.2 7.2-7.2 7.2-7.2-7.2z"/><path d="M311.8 114.3l7.2 7.2-7.2 7.2-7.2-7.2z"/><path d="M312.2 104.3l7.2 7.2-7.2 7.2-7.2-7.2z"/><path d="M312.9 110.3l7.2 7.2-7.2 7.2-7.2-7.2z"/><path d="M313.5 110.1l7.2 7.2-7.2 7.2-7.2-7.2z"/><path d="M314.2 111l7.2 7.2-7.2 7.2-7.2-7.2z"/><path d="M314.6 104.8l7.2 7.2-7.2 7.2-7.2-7.2z"/><path d="M315.2 113.7l7.2 7.2-7.2 7.2-7.2-7.2z"/><path d="M315.9 106l7.2 7.2-7.2 7.2-7.2-7.2z"/><path d="M316.5 110.1l7.2 7.2-7.2 7.2-7.2-7.2z"/><path d="M317 107l7.2 7.2-7.2 7.2-7.2-7.2z"/><path d="M317.4 112.3l7.2 7.2-7.2 7.2-7.2-7.2z"/><path d="M318.1 106.7l7.2 7.2-7.2 7.2-7.2-7.2z"/><path d="M318.6 116.5l7.2 7.2-7.2 7.2-7.2-7.2z"/><path d="M319.4 108.1l7.2 7.2-7.2 7.2-7.2-7.2z"/><path d="M319.7 118.6l7.2 7.2-7.2 7.2-7.2-7.2z"/><path d="M320.5 112.3l7.2 7.2-7.2 7.2-7.2-7.2z"/><path d="M320.8 118.5l7.2 7.2-7.2 7.2-7.2-7.2z"/><path d="M321.3 118.3l7.2 7.2-7.2 7.2-7.2-7.2z"/><path d="M321.9 117.3l7.2 7.2-7.2 7.2-7.2-7.2z"/><path d="M322.2 116.8l7.2 7.2-7.2 7.2-7.2-7.2z"/><path d="M322.6 111.5l7.2 7.2-7.2 7.2-7.2-7.2z"/><path d="M323.3 117.6l7.2 7.2-7.2 7.2-7.2-7.2z"/><path d="M323.7 109.1l7.2 7.2-7.2 7.2-7.2-7.2z"/><path d="M324.2 113.3l7.2 7.2-7.2 7.2-7.2-7.2z"/><path d="M324.6 107.9l7.2 7.2-7.2 7.2-7.2-7.2z"/><path d="M325.1 116.4l7.2 7.2-7.2 7.2-7.2-7.2z"/><path d="M325.8 106.9l7.2 7.2-7.2 7.2-7.2-7.2z"/><path d="M326.3 117l7.2 7.2-7.2 7.2-7.2-7.2z"/><path d="M326.6 118.2l7.2 7.2-7.2 7.2-7.2-7.2z"/><path d="M327 114.9l7.2 7.2-7.2 7.2-7.2-7.2z"/><path d="M327.5 115.4l7.2 7.2-7.2 7.2-7.2-7.2z"/><path d="M328 112.6l7.2 7.2-7.2 7.2-7.2-7.2z"/><path d="M328.5 112.7l7.2 7.2-7.2 7.2-7.2-7.2z"/><path d="M329.1 113.1l7.2 7.2-7.2 7.2-7.2-7.2z"/><path d="M329.6 107.3l7.2 7.2-7.2 7.2-7.2-7.2z"/><path d="M330.2 113.9l7.2 7.2-7.2 7.2-7.2-7.2z"/><path d="M330.6 117.8l7.2 7.2-7.2 7.2-7.2-7.2z"/><path d="M331.3 113.6l7.2 7.2-7.2 7.2-7.2-7.2z"/><path d="M331.6 113.9l7.2 7.2-7.2 7.2-7.2-7.2z"/><path d="M332 109.1l7.2 7.2-7.2 7.2-7.2-7.2z"/><path d="M332.5 108.7l7.2 7.2-7.2 7.2-7.2-7.2z"/><path d="M333 114.6l7.2 7.2-7.2 7.2-7.2-7.2z"/><path d="M333.3 116.4l7.2 7.2-7.2 7.2-7.2-7.2z"/><path d="M333.6 117.9l7.2 7.2-7.2 7.2-7.2-7.2z"/><path d="M334.3 114.8l7.2 7.2-7.2 7.2-7.2-7.2z"/><path d="M334.6 114.8l7.2 7.2-7.2 7.2-7.2-7.2z"/><path d="M335.1 121.1l7.2 7.2-7.2 7.2-7.2-7.2z"/><path d="M335.4 119.9l7.2 7.2-7.2 7.2-7.2-7.2z"/><path d="M336.2 118.3l7.2 7.2-7.2 7.2-7.2-7.2z"/><path d="M336.9 110.8l7.2 7.2-7.2 7.2-7.2-7.2z"/><path d="M337.6 115.2l7.2 7.2-7.2 7.2-7.2-7.2z"/><path d="M338.3 121.2l7.2 7.2-7.2 7.2-7.2-7.2z"/><path d="M338.7 119.5l7.2 7.2-7.2 7.2-7.2-7.2z"/><path d="M339.4 109.5l7.2 7.2-7.2 7.2-7.2-7.2z"/><path d="M339.9 119.3l7.2 7.2-7.2 7.2-7.2-7.2z"/><path d="M340.2 121.3l7.2 7.2-7.2 7.2-7.2-7.2z"/><path d="M340.7 120.2l7.2 7.2-7.2 7.2-7.2-7.2z"/><path d="M341 115.9l7.2 7.2-7.2 7.2-7.2-7.2z"/><path d="M341.7 111.9l7.2 7.2-7.2 7.2-7.2-7.2z"/><path d="M342.2 116.2l7.2 7.2-7.2 7.2-7.2-7.2z"/><path d="M342.6 109.7l7.2 7.2-7.2 7.2-7.2-7.2z"/><path d="M343 111.5l7.2 7.2-7.2 7.2-7.2-7.2z"/><path d="M343.7 118.9l7.2 7.2-7.2 7.2-7.2-7.2z"/><path d="M344.4 111.9l7.2 7.2-7.2 7.2-7.2-7.2z"/><path d="M345.1 111.2l7.2 7.2-7.2 7.2-7.2-7.2z"/><path d="M345.6 118.6l7.2 7.2-7.2 7.2-7.2-7.2z"/><path d="M346.1 122l7.2 7.2-7.2 7.2-7.2-7.2z"/><path d="M346.6 118l7.2 7.2-7.2 7.2-7.2-7.2z"/><path d="M347.3 111.5l7.2 7.2-7.2 7.2-7.2-7.2z"/><path d="M348.1 119l7.2 7.2-7.2 7.2-7.2-7.2z"/><path d="M348.5 121.4l7.2 7.2-7.2 7.2-7.2-7.2z"/><path d="M349 124.2l7.2 7.2-7.2 7.2-7.2-7.2z"/><path d="M349.5 115.4l7.2 7.2-7.2 7.2-7.2-7.2z"/><path d="M350.2 116.7l7.2 7.2-7.2 7.2-7.2-7.2z"/><path d="M350.5 121l7.2 7.2-7.2 7.2-7.2-7.2z"/><path d="M350.9 122.1l7.2 7.2-7.2 7.2-7.2-7.2z"/><path d="M351.3 119.7l7.2 7.2-7.2 7.2-7.2-7.2z"/><path d="M352 119.1l7.2 7.2-7.2 7.2-7.2-7.2z"/><path d="M352.6 115.3l7.2 7.2-7.2 7.2-7.2-7.2z"/><path d="M352.9 111.5l7.2 7.2-7.2 7.2-7.2-7.2z"/><path d="M353.3 119.7l7.2 7.2-7.2 7.2-7.2-7.2z"/><path d="M353.8 118.3l7.2 7.2-7.2 7.2-7.2-7.2z"/><path d="M354.5 113.1l7.2 7.2-7.2 7.2-7.2-7.2z"/><path d="M354.9 120.5l7.2 7.2-7.2 7.2-7.2-7.2z"/><path d="M355.2 111.5l7.2 7.2-7.2 7.2-7.2-7.2z"/><path d="M355.7 113l7.2 7.2-7.2 7.2-7.2-7.2z"/><path d="M356.1 114.7l7.2 7.2-7.2 7.2-7.2-7.2z"/><path d="M356.7 119.9l7.2 7.2-7.2 7.2-7.2-7.2z"/><path d="M357.1 120.5l7.2 7.2-7.2 7.2-7.2-7.2z"/><path d="M357.6 113.7l7.2 7.2-7.2 7.2-7.2-7.2z"/><path d="M358.3 115.4l7.2 7.2-7.2 7.2-7.2-7.2z"/><path d="M358.7 113.4l7.2 7.2-7.2 7.2-7.2-7.2z"/><path d="M359.3 124.4l7.2 7.2-7.2 7.2-7.2-7.2z"/><path d="M359.9 117.9l7.2 7.2-7.2 7.2-7.2-7.2z"/><path d="M360.3 112.5l7.2 7.2-7.2 7.2-7.2-7.2z"/><path d="M360.9 120.3l7.2 7.2-7.2 7.2-7.2-7.2z"/><path d="M361.4 121.6l7.2 7.2-7.2 7.2-7.2-7.2z"/><path d="M361.9 125.7l7.2 7.2-7.2 7.2-7.2-7.2z"/><path d="M362.5 116.2l7.2 7.2-7.2 7.2-7.2-7.2z"/><path d="M363.2 113.5l7.2 7.2-7.2 7.2-7.2-7.2z"/><path d="M363.8 118.6l7.2 7.2-7.2 7.2-7.2-7.2z"/><path d="M364.2 113.9l7.2 7.2-7.2 7.2-7.2-7.2z"/><path d="M364.8 113.3l7.2 7.2-7.2 7.2-7.2-7.2z"/><path d="M365.4 126.4l7.2 7.2-7.2 7.2-7.2-7.2z"/><path d="M365.7 116.1l7.2 7.2-7.2 7.2-7.2-7.2z"/><path d="M366.3 120.5l7.2 7.2-7.2 7.2-7.2-7.2z"/><path d="M366.9 124.9l7.2 7.2-7.2 7.2-7.2-7.2z"/><path d="M367.3 117.9l7.2 7.2-7.2 7.2-7.2-7.2z"/><path d="M367.7 114.3l7.2 7.2-7.2 7.2-7.2-7.2z"/><path d="M368.4 124.8l7.2 7.2-7.2 7.2-7.2-7.2z"/><path d="M369 114l7.2 7.2-7.2 7.2-7.2-7.2z"/><path d="M369.7 124.5l7.2 7.2-7.2 7.2-7.2-7.2z"/><path d="M370.2 124.5l7.2 7.2-7.2 7.2-7.2-7.2z"/><path d="M370.7 117.4l7.2 7.2-7.2 7.2-7.2-7.2z"/><path d="M371.1 117.5l7.2 7.2-7.2 7.2-7.2-7.2z"/><path d="M371.4 119l7.2 7.2-7.2 7.2-7.2-7.2z"/><path d="M372 124.2l7.2 7.2-7.2 7.2-7.2-7.2z"/><path d="M372.7 124.5l7.2 7.2-7.2 7.2-7.2-7.2z"/><path d="M373.1 122.4l7.2 7.2-7.2 7.2-7.2-7.2z"/><path d="M373.6 125.8l7.2 7.2-7.2 7.2-7.2-7.2z"/><path d="M374.2 118.6l7.2 7.2-7.2 7.2-7.2-7.2z"/><path d="M374.7 128.5l7.2 7.2-7.2 7.2-7.2-7.2z"/><path d="M375.1 127.5l7.2 7.2-7.2 7.2-7.2-7.2z"/><path d="M375.4 118.9l7.2 7.2-7.2 7.2-7.2-7.2z"/><path d="M375.9 125.8l7.2 7.2-7.2 7.2-7.2-7.2z"/><path d="M376.6 126l7.2 7.2-7.2 7.2-7.2-7.2z"/><path d="M377 128.1l7.2 7.2-7.2 7.2-7.2-7.2z"/><path d="M377.5 119.2l7.2 7.2-7.2 7.2-7.2-7.2z"/><path d="M378.2 124.9l7.2 7.2-7.2 7.2-7.2-7.2z"/><path d="M378.8 125.6l7.2 7.2-7.2 7.2-7.2-7.2z"/><path d="M379.5 123.1l7.2 7.2-7.2 7.2-7.2-7.2z"/><path d="M380.2 126.4l7.2 7.2-7.2 7.2-7.2-7.2z"/><path d="M380.9 123.1l7.2 7.2-7.2 7.2-7.2-7.2z"/><path d="M381.5 125.1l7.2 7.2-7.2 7.2-7.2-7.2z"/><path d="M382 120.3l7.2 7.2-7.2 7.2-7.2-7.2z"/><path d="M382.5 118.7l7.2 7.2-7.2 7.2-7.2-7.2z"/><path d="M383.3 119.8l7.2 7.2-7.2 7.2-7.2-7.2z"/><path d="M383.6 119.4l7.2 7.2-7.2 7.2-7.2-7.2z"/><path d="M384.3 122.9l7.2 7.2-7.2 7.2-7.2-7.2z"/><path d="M384.6 118.7l7.2 7.2-7.2 7.2-7.2-7.2z"/><path d="M385 127.8l7.2 7.2-7.2 7.2-7.2-7.2z"/><path d="M385.6 128l7.2 7.2-7.2 7.2-7.2-7.2z"/><path d="M386.2 119.6l7.2 7.2-7.2 7.2-7.2-7.2z"/><path d="M386.7 123.9l7.2 7.2-7.2 7.2-7.2-7.2z"/><path d="M387.4 130.3l7.2 7.2-7.2 7.2-7.2-7.2z"/><path d="M388.1 120.2l7.2 7.2-7.2 7.2-7.2-7.2z"/><path d="M388.8 132l7.2 7.2-7.2 7.2-7.2-7.2z"/><path d="M389.5 121.2l7.2 7.2-7.2 7.2-7.2-7.2z"/><path d="M389.9 121.4l7.2 7.2-7.2 7.2-7.2-7.2z"/><path d="M390.2 131.5l7.2 7.2-7.2 7.2-7.2-7.2z"/><path d="M390.9 128.8l7.2 7.2-7.2 7.2-7.2-7.2z"/><path d="M391.6 129l7.2 7.2-7.2 7.2-7.2-7.2z"/><path d="M392 121.9l7.2 7.2-7.2 7.2-7.2-7.2z"/><path d="M392.3 130.9l7.2 7.2-7.2 7.2-7.2-7.2z"/><path d="M392.7 125.1l7.2 7.2-7.2 7.2-7.2-7.2z"/><path d="M393.2 121.2l7.2 7.2-7.2 7.2-7.2-7.2z"/><path d="M393.6 124.9l7.2 7.2-7.2 7.2-7.2-7.2z"/><path d="M394.3 126.2l7.2 7.2-7.2 7.2-7.2-7.2z"/><path d="M394.7 134.5l7.2 7.2-7.2 7.2-7.2-7.2z"/><path d="M395.2 133.1l7.2 7.2-7.2 7.2-7.2-7.2z"/><path d="M395.8 122.1l7.2 7.2-7.2 7.2-7.2-7.2z"/><path d="M396.3 127.8l7.2 7.2-7.2 7.2-7.2-7.2z"/><path d="M397 126.8l7.2 7.2-7.2 7.2-7.2-7.2z"/><path d="M397.6 129.6l7.2 7.2-7.2 7.2-7.2-7.2z"/><path d="M398 134.1l7.2 7.2-7.2 7.2-7.2-7.2z"/><path d="M398.3 133.6l7.2 7.2-7.2 7.2-7.2-7.2z"/><path d="M398.7 122.6l7.2 7.2-7.2 7.2-7.2-7.2z"/><path d="M399.1 133.1l7.2 7.2-7.2 7.2-7.2-7.2z"/><path d="M399.8 123l7.2 7.2-7.2 7.2-7.2-7.2z"/><path d="M400.3 129.8l7.2 7.2-7.2 7.2-7.2-7.2z"/><path d="M401 125.7l7.2 7.2-7.2 7.2-7.2-7.2z"/><path d="M401.5 128.1l7.2 7.2-7.2 7.2-7.2-7.2z"/><path d="M402.2 127l7.2 7.2-7.2 7.2-7.2-7.2z"/><path d="M402.9 127.5l7.2 7.2-7.2 7.2-7.2-7.2z"/><path d="M403.3 133.2l7.2 7.2-7.2 7.2-7.2-7.2z"/><path d="M403.8 125.3l7.2 7.2-7.2 7.2-7.2-7.2z"/><path d="M404.4 125.1l7.2 7.2-7.2 7.2-7.2-7.2z"/><path d="M405.1 133.6l7.2 7.2-7.2 7.2-7.2-7.2z"/><path d="M405.7 132.8l7.2 7.2-7.2 7.2-7.2-7.2z"/><path d="M406.2 129.8l7.2 7.2-7.2 7.2-7.2-7.2z"/><path d="M406.7 136.6l7.2 7.2-7.2 7.2-7.2-7.2z"/><path d="M407 136.6l7.2 7.2-7.2 7.2-7.2-7.2z"/><path d="M407.3 127.4l7.2 7.2-7.2 7.2-7.2-7.2z"/><path d="M407.7 136.9l7.2 7.2-7.2 7.2-7.2-7.2z"/><path d="M408.3 129.9l7.2 7.2-7.2 7.2-7.2-7.2z"/><path d="M409 128.1l7.2 7.2-7.2 7.2-7.2-7.2z"/><path d="M409.5 132.3l7.2 7.2-7.2 7.2-7.2-7.2z"/><path d="M410.1 135.4l7.2 7.2-7.2 7.2-7.2-7.2z"/><path d="M410.7 130.1l7.2 7.2-7.2 7.2-7.2-7.2z"/><path d="M411.1 127.5l7.2 7.2-7.2 7.2-7.2-7.2z"/><path d="M411.8 134.6l7.2 7.2-7.2 7.2-7.2-7.2z"/><path d="M412.5 128l7.2 7.2-7.2 7.2-7.2-7.2z"/><path d="M413 136.3l7.2 7.2-7.2 7.2-7.2-7.2z"/><path d="M413.5 127.6l7.2 7.2-7.2 7.2-7.2-7.2z"/><path d="M414 138.1l7.2 7.2-7.2 7.2-7.2-7.2z"/><path d="M414.4 128.7l7.2 7.2-7.2 7.2-7.2-7.2z"/><path d="M414.9 135.8l7.2 7.2-7.2 7.2-7.2-7.2z"/><path d="M415.5 128.5l7.2 7.2-7.2 7.2-7.2-7.2z"/><path d="M415.9 129.8l7.2 7.2-7.2 7.2-7.2-7.2z"/><path d="M416.4 133.6l7.2 7.2-7.2 7.2-7.2-7.2z"/><path d="M416.7 131.1l7.2 7.2-7.2 7.2-7.2-7.2z"/><path d="M417.1 140l7.2 7.2-7.2 7.2-7.2-7.2z"/><path d="M417.8 128.2l7.2 7.2-7.2 7.2-7.2-7.2z"/><path d="M418.5 128.4l7.2 7.2-7.2 7.2-7.2-7.2z"/><path d="M419 140.5l7.2 7.2-7.2 7.2-7.2-7.2z"/><path d="M419.6 137.2l7.2 7.2-7.2 7.2-7.2-7.2z"/><path d="M420.1 130l7.2 7.2-7.2 7.2-7.2-7.2z"/><path d="M420.7 128.9l7.2 7.2-7.2 7.2-7.2-7.2z"/><path d="M421.1 132.8l7.2 7.2-7.2 7.2-7.2-7.2z"/><path d="M421.4 133.1l7.2 7.2-7.2 7.2-7.2-7.2z"/><path d="M422.1 137.2l7.2 7.2-7.2 7.2-7.2-7.2z"/><path d="M422.6 136.5l7.2 7.2-7.2 7.2-7.2-7.2z"/><path d="M423.1 129.9l7.2 7.2-7.2 7.2-7.2-7.2z"/><path d="M423.7 133.6l7.2 7.2-7.2 7.2-7.2-7.2z"/><path d="M424.3 140.6l7.2 7.2-7.2 7.2-7.2-7.2z"/><path d="M424.8 136.2l7.2 7.2-7.2 7.2-7.2-7.2z"/><path d="M425.4 134.2l7.2 7.2-7.2 7.2-7.2-7.2z"/><path d="M425.8 138.4l7.2 7.2-7.2 7.2-7.2-7.2z"/><path d="M426.5 139.3l7.2 7.2-7.2 7.2-7.2-7.2z"/><path d="M427.1 140.5l7.2 7.2-7.2 7.2-7.2-7.2z"/><path d="M427.8 137.7l7.2 7.2-7.2 7.2-7.2-7.2z"/><path d="M428.3 133.4l7.2 7.2-7.2 7.2-7.2-7.2z"/><path d="M428.8 130.6l7.2 7.2-7.2 7.2-7.2-7.2z"/><path d="M429.3 140l7.2 7.2-7.2 7.2-7.2-7.2z"/><path d="M429.9 138l7.2 7.2-7.2 7.2-7.2-7.2z"/><path d="M430.4 135.3l7.2 7.2-7.2 7.2-7.2-7.2z"/><path d="M430.9 138.1l7.2 7.2-7.2 7.2-7.2-7.2z"/><path d="M431.4 139l7.2 7.2-7.2 7.2-7.2-7.2z"/><path d="M432.1 132.4l7.2 7.2-7.2 7.2-7.2-7.2z"/><path d="M432.7 140.6l7.2 7.2-7.2 7.2-7.2-7.2z"/><path d="M433.1 136.8l7.2 7.2-7.2 7.2-7.2-7.2z"/><path d="M433.9 130.8l7.2 7.2-7.2 7.2-7.2-7.2z"/><path d="M434.4 132.6l7.2 7.2-7.2 7.2-7.2-7.2z"/><path d="M435.1 143.4l7.2 7.2-7.2 7.2-7.2-7.2z"/><path d="M435.6 132.1l7.2 7.2-7.2 7.2-7.2-7.2z"/><path d="M436.2 138.2l7.2 7.2-7.2 7.2-7.2-7.2z"/><path d="M436.8 137.9l7.2 7.2-7.2 7.2-7.2-7.2z"/><path d="M437.4 142.4l7.2 7.2-7.2 7.2-7.2-7.2z"/><path d="M437.9 136.9l7.2 7.2-7.2 7.2-7.2-7.2z"/><path d="M438.6 134.5l7.2 7.2-7.2 7.2-7.2-7.2z"/><path d="M439.2 137.2l7.2 7.2-7.2 7.2-7.2-7.2z"/><path d="M439.9 133.7l7.2 7.2-7.2 7.2-7.2-7.2z"/><path d="M440.6 137.2l7.2 7.2-7.2 7.2-7.2-7.2z"/><path d="M441 136.2l7.2 7.2-7.2 7.2-7.2-7.2z"/><path d="M441.4 132.8l7.2 7.2-7.2 7.2-7.2-7.2z"/><path d="M441.9 138.6l7.2 7.2-7.2 7.2-7.2-7.2z"/><path d="M442.5 137.9l7.2 7.2-7.2 7.2-7.2-7.2z"/><path d="M443 136.3l7.2 7.2-7.2 7.2-7.2-7.2z"/><path d="M443.6 146.3l7.2 7.2-7.2 7.2-7.2-7.2z"/><path d="M444.1 136.7l7.2 7.2-7.2 7.2-7.2-7.2z"/><path d="M444.8 139.3l7.2 7.2-7.2 7.2-7.2-7.2z"/><path d="M445.2 135.8l7.2 7.2-7.2 7.2-7.2-7.2z"/><path d="M445.8 145.3l7.2 7.2-7.2 7.2-7.2-7.2z"/><path d="M446.4 140.9l7.2 7.2-7.2 7.2-7.2-7.2z"/><path d="M447 137.8l7.2 7.2-7.2 7.2-7.2-7.2z"/><path d="M447.7 139.8l7.2 7.2-7.2 7.2-7.2-7.2z"/><path d="M448.3 146.4l7.2 7.2-7.2 7.2-7.2-7.2z"/><path d="M449 141.9l7.2 7.2-7.2 7.2-7.2-7.2z"/><path d="M449.4 143.1l7.2 7.2-7.2 7.2-7.2-7.2z"/><path d="M449.8 147.1l7.2 7.2-7.2 7.2-7.2-7.2z"/><path d="M450.2 147.5l7.2 7.2-7.2 7.2-7.2-7.2z"/><path d="M450.6 141.2l7.2 7.2-7.2 7.2-7.2-7.2z"/><path d="M451 142.1l7.2 7.2-7.2 7.2-7.2-7.2z"/><path d="M451.4 136.4l7.2 7.2-7.2 7.2-7.2-7.2z"/><path d="M452.1 140.5l7.2 7.2-7.2 7.2-7.2-7.2z"/><path d="M452.5 140.9l7.2 7.2-7.2 7.2-7.2-7.2z"/><path d="M453 142.8l7.2 7.2-7.2 7.2-7.2-7.2z"/><path d="M453.6 146.2l7.2 7.2-7.2 7.2-7.2-7.2z"/><path d="M454 150l7.2 7.2-7.2 7.2-7.2-7.2z"/><path d="M454.7 138.4l7.2 7.2-7.2 7.2-7.2-7.2z"/><path d="M455.4 150.2l7.2 7.2-7.2 7.2-7.2-7.2z"/><path d="M456 140l7.2 7.2-7.2 7.2-7.2-7.2z"/><path d="M456.7 147l7.2 7.2-7.2 7.2-7.2-7.2z"/><path d="M457 138.7l7.2 7.2-7.2 7.2-7.2-7.2z"/><path d="M457.7 147.7l7.2 7.2-7.2 7.2-7.2-7.2z"/><path d="M458.2 140.3l7.2 7.2-7.2 7.2-7.2-7.2z"/><path d="M458.5 142.2l7.2 7.2-7.2 7.2-7.2-7.2z"/><path d="M459.2 144l7.2 7.2-7.2 7.2-7.2-7.2z"/><path d="M459.5 151.7l7.2 7.2-7.2 7.2-7.2-7.2z"/><path d="M460.2 142l7.2 7.2-7.2 7.2-7.2-7.2z"/><path d="M460.9 148.2l7.2 7.2-7.2 7.2-7.2-7.2z"/><path d="M461.6 149.3l7.2 7.2-7.2 7.2-7.2-7.2z"/><path d="M462.3 151.2l7.2 7.2-7.2 7.2-7.2-7.2z"/><path d="M462.9 143.4l7.2 7.2-7.2 7.2-7.2-7.2z"/><path d="M463.5 148.2l7.2 7.2-7.2 7.2-7.2-7.2z"/><path d="M464.2 147.2l7.2 7.2-7.2 7.2-7.2-7.2z"/><path d="M464.9 149l7.2 7.2-7.2 7.2-7.2-7.2z"/><path d="M465.3 144.8l7.2 7.2-7.2 7.2-7.2-7.2z"/><path d="M465.7 148.5l7.2 7.2-7.2 7.2-7.2-7.2z"/><path d="M466 148.2l7.2 7.2-7.2 7.2-7.2-7.2z"/><path d="M466.3 148.7l7.2 7.2-7.2 7.2-7.2-7.2z"/><path d="M466.9 149.5l7.2 7.2-7.2 7.2-7.2-7.2z"/><path d="M467.6 142.5l7.2 7.2-7.2 7.2-7.2-7.2z"/><path d="M468.2 149.1l7.2 7.2-7.2 7.2-7.2-7.2z"/><path d="M468.8 152l7.2 7.2-7.2 7.2-7.2-7.2z"/><path d="M469.5 148.3l7.2 7.2-7.2 7.2-7.2-7.2z"/><path d="M470 156.4l7.2 7.2-7.2 7.2-7.2-7.2z"/><path d="M470.3 152.1l7.2 7.2-7.2 7.2-7.2-7.2z"/><path d="M470.9 144l7.2 7.2-7.2 7.2-7.2-7.2z"/><path d="M471.5 153.1l7.2 7.2-7.2 7.2-7.2-7.2z"/><path d="M472.2 148.5l7.2 7.2-7.2 7.2-7.2-7.2z"/><path d="M472.9 151.2l7.2 7.2-7.2 7.2-7.2-7.2z"/><path d="M473.4 156.6l7.2 7.2-7.2 7.2-7.2-7.2z"/><path d="M473.7 154.3l7.2 7.2-7.2 7.2-7.2-7.2z"/><path d="M474.3 149.3l7.2 7.2-7.2 7.2-7.2-7.2z"/><path d="M475 149.9l7.2 7.2-7.2 7.2-7.2-7.2z"/><path d="M475.5 152.2l7.2 7.2-7.2 7.2-7.2-7.2z"/><path d="M476.2 148.2l7.2 7.2-7.2 7.2-7.2-7.2z"/><path d="M476.7 151.2l7.2 7.2-7.2 7.2-7.2-7.2z"/><path d="M477.2 156.9l7.2 7.2-7.2 7.2-7.2-7.2z"/><path d="M477.7 157l7.2 7.2-7.2 7.2-7.2-7.2z"/><path d="M478.1 152.8l7.2 7.2-7.2 7.2-7.2-7.2z"/><path d="M478.6 153l7.2 7.2-7.2 7.2-7.2-7.2z"/><path d="M479.3 155.2l7.2 7.2-7.2 7.2-7.2-7.2z"/><path d="M480 151l7.2 7.2-7.2 7.2-7.2-7.2z"/><path d="M480.4 150.7l7.2 7.2-7.2 7.2-7.2-7.2z"/><path d="M481 155.5l7.2 7.2-7.2 7.2-7.2-7.2z"/><path d="M481.6 147.6l7.2 7.2-7.2 7.2-7.2-7.2z"/><path d="M482.2 159.3l7.2 7.2-7.2 7.2-7.2-7.2z"/><path d="M482.8 148.1l7.2 7.2-7.2 7.2-7.2-7.2z"/><path d="M483.2 147.7l7.2 7.2-7.2 7.2-7.2-7.2z"/><path d="M483.6 160.2l7.2 7.2-7.2 7.2-7.2-7.2z"/><path d="M484.2 156.8l7.2 7.2-7.2 7.2-7.2-7.2z"/><path d="M484.8 160.5l7.2 7.2-7.2 7.2-7.2-7.2z"/><path d="M485.4 156.7l7.2 7.2-7.2 7.2-7.2-7.2z"/><path d="M486 157.9l7.2 7.2-7.2 7.2-7.2-7.2z"/><path d="M486.6 157.9l7.2 7.2-7.2 7.2-7.2-7.2z"/><path d="M487 157.8l7.2 7.2-7.2 7.2-7.2-7.2z"/><path d="M487.5 159.3l7.2 7.2-7.2 7.2-7.2-7.2z"/><path d="M487.8 151.5l7.2 7.2-7.2 7.2-7.2-7.2z"/><path d="M488.1 159.7l7.2 7.2-7.2 7.2-7.2-7.2z"/><path d="M488.8 158.3l7.2 7.2-7.2 7.2-7.2-7.2z"/><path d="M489.3 160.7l7.2 7.2-7.2 7.2-7.2-7.2z"/><path d="M490 157.4l7.2 7.2-7.2 7.2-7.2-7.2z"/><path d="M490.4 154l7.2 7.2-7.2 7.2-7.2-7.2z"/><path d="M490.9 154.4l7.2 7.2-7.2 7.2-7.2-7.2z"/><path d="M491.4 158.9l7.2 7.2-7.2 7.2-7.2-7.2z"/><path d="M492.1 151.2l7.2 7.2-7.2 7.2-7.2-7.2z"/><path d="M492.6 151.1l7.2 7.2-7.2 7.2-7.2-7.2z"/><path d="M493 161.7l7.2 7.2-7.2 7.2-7.2-7.2z"/><path d="M493.5 163.4l7.2 7.2-7.2 7.2-7.2-7.2z"/><path d="M494 151.2l7.2 7.2-7.2 7.2-7.2-7.2z"/><path d="M494.5 159.3l7.2 7.2-7.2 7.2-7.2-7.2z"/><path d="M495.2 164.8l7.2 7.2-7.2 7.2-7.2-7.2z"/><path d="M495.8 157.2l7.2 7.2-7.2 7.2-7.2-7.2z"/><path d="M496.1 160.5l7.2 7.2-7.2 7.2-7.2-7.2z"/><path d="M496.5 153.9l7.2 7.2-7.2 7.2-7.2-7.2z"/><path d="M496.8 152l7.2 7.2-7.2 7.2-7.2-7.2z"/><path d="M497.4 153.8l7.2 7.2-7.2 7.2-7.2-7.2z"/><path d="M498.1 153.5l7.2 7.2-7.2 7.2-7.2-7.2z"/><path d="M498.8 154.2l7.2 7.2-7.2 7.2-7.2-7.2z"/><path d="M499.1 162.3l7.2 7.2-7.2 7.2-7.2-7.2z"/><path d="M499.6 162.6l7.2 7.2-7.2 7.2-7.2-7.2z"/><path d="M499.9 153.4l7.2 7.2-7.2 7.2-7.2-7.2z"/><path d="M500.6 162.6l7.2 7.2-7.2 7.2-7.2-7.2z"/><path d="M501.3 162.9l7.2 7.2-7.2 7.2-7.2-7.2z"/><path d="M501.6 161.6l7.2 7.2-7.2 7.2-7.2-7.2z"/><path d="M502.2 159.5l7.2 7.2-7.2 7.2-7.2-7.2z"/><path d="M502.9 156.9l7.2 7.2-7.2 7.2-7.2-7.2z"/><path d="M503.7 163.3l7.2 7.2-7.2 7.2-7.2-7.2z"/><path d="M504 153.9l7.2 7.2-7.2 7.2-7.2-7.2z"/><path d="M504.6 164.9l7.2 7.2-7.2 7.2-7.2-7.2z"/><path d="M504.9 158.1l7.2 7.2-7.2 7.2-7.2-7.2z"/><path d="M505.5 156.3l7.2 7.2-7.2 7.2-7.2-7.2z"/><path d="M506.2 160.8l7.2 7.2-7.2 7.2-7.2-7.2z"/><path d="M506.6 159.3l7.2 7.2-7.2 7.2-7.2-7.2z"/><path d="M507.1 160.4l7.2 7.2-7.2 7.2-7.2-7.2z"/><path d="M507.7 156.5l7.2 7.2-7.2 7.2-7.2-7.2z"/><path d="M508.4 159.6l7.2 7.2-7.2 7.2-7.2-7.2z"/><path d="M509 163.4l7.2 7.2-7.2 7.2-7.2-7.2z"/><path d="M509.5 160.2l7.2 7.2-7.2 7.2-7.2-7.2z"/><path d="M510.1 168l7.2 7.2-7.2 7.2-7.2-7.2z"/><path d="M510.8 163l7.2 7.2-7.2 7.2-7.2-7.2z"/><path d="M511.2 156.2l7.2 7.2-7.2 7.2-7.2-7.2z"/><path d="M511.9 165.1l7.2 7.2-7.2 7.2-7.2-7.2z"/><path d="M512.6 160.2l7.2 7.2-7.2 7.2-7.2-7.2z"/><path d="M513.2 169.1l7.2 7.2-7.2 7.2-7.2-7.2z"/><path d="M513.9 164.2l7.2 7.2-7.2 7.2-7.2-7.2z"/><path d="M514.3 161.9l7.2 7.2-7.2 7.2-7.2-7.2z"/><path d="M515 161.4l7.2 7.2-7.2 7.2-7.2-7.2z"/><path d="M515.6 164.6l7.2 7.2-7.2 7.2-7.2-7.2z"/><path d="M516.3 167.6l7.2 7.2-7.2 7.2-7.2-7.2z"/><path d="M516.7 156.7l7.2 7.2-7.2 7.2-7.2-7.2z"/><path d="M517.1 162.5l7.2 7.2-7.2 7.2-7.2-7.2z"/><path d="M517.7 168l7.2 7.2-7.2 7.2-7.2-7.2z"/><path d="M518.4 157.6l7.2 7.2-7.2 7.2-7.2-7.2z"/><path d="M519.1 168.2l7.2 7.2-7.2 7.2-7.2-7.2z"/><path d="M519.8 165.1l7.2 7.2-7.2 7.2-7.2-7.2z"/><path d="M520.2 169l7.2 7.2-7.2 7.2-7.2-7.2z"/><path d="M520.9 166.8l7.2 7.2-7.2 7.2-7.2-7.2z"/><path d="M521.6 162.4l7.2 7.2-7.2 7.2-7.2-7.2z"/><path d="M521.9 165.2l7.2 7.2-7.2 7.2-7.2-7.2z"/><path d="M522.6 160.6l7.2 7.2-7.2 7.2-7.2-7.2z"/><path d="M523.2 170.6l7.2 7.2-7.2 7.2-7.2-7.2z"/><path d="M523.6 166.3l7.2 7.2-7.2 7.2-7.2-7.2z"/><path d="M524.2 164.5l7.2 7.2-7.2 7.2-7.2-7.2z"/><path d="M524.6 161.7l7.2 7.2-7.2 7.2-7.2-7.2z"/><path d="M525.2 169.1l7.2 7.2-7.2 7.2-7.2-7.2z"/><path d="M525.8 159.6l7.2 7.2-7.2 7.2-7.2-7.2z"/><path d="M526.4 169l7.2 7.2-7.2 7.2-7.2-7.2z"/><path d="M526.8 166.5l7.2 7.2-7.2 7.2-7.2-7.2z"/><path d="M527.5 170.8l7.2 7.2-7.2 7.2-7.2-7.2z"/><path d="M528.1 165.3l7.2 7.2-7.2 7.2-7.2-7.2z"/><path d="M528.6 161.5l7.2 7.2-7.2 7.2-7.2-7.2z"/><path d="M529 161.5l7.2 7.2-7.2 7.2-7.2-7.2z"/><path d="M529.6 164l7.2 7.2-7.2 7.2-7.2-7.2z"/><path d="M530.2 164.7l7.2 7.2-7.2 7.2-7.2-7.2z"/><path d="M530.7 161.3l7.2 7.2-7.2 7.2-7.2-7.2z"/><path d="M531 172.9l7.2 7.2-7.2 7.2-7.2-7.2z"/><path d="M531.5 160.9l7.2 7.2-7.2 7.2-7.2-7.2z"/><path d="M532.1 170.3l7.2 7.2-7.2 7.2-7.2-7.2z"/><path d="M532.5 167.8l7.2 7.2-7.2 7.2-7.2-7.2z"/><path d="M532.9 166.8l7.2 7.2-7.2 7.2-7.2-7.2z"/><path d="M533.2 160.2l7.2 7.2-7.2 7.2-7.2-7.2z"/><path d="M534 171.7l7.2 7.2-7.2 7.2-7.2-7.2z"/><path d="M534.5 167.7l7.2 7.2-7.2 7.2-7.2-7.2z"/><path d="M534.9 170.7l7.2 7.2-7.2 7.2-7.2-7.2z"/><path d="M535.4 173l7.2 7.2-7.2 7.2-7.2-7.2z"/><path d="M536 171.4l7.2 7.2-7.2 7.2-7.2-7.2z"/><path d="M536.8 163.9l7.2 7.2-7.2 7.2-7.2-7.2z"/><path d="M537.1 163.2l7.2 7.2-7.2 7.2-7.2-7.2z"/><path d="M537.5 161.7l7.2 7.2-7.2 7.2-7.2-7.2z"/><path d="M537.8 168.2l7.2 7.2-7.2 7.2-7.2-7.2z"/><path d="M538.5 167l7.2 7.2-7.2 7.2-7.2-7.2z"/><path d="M539.2 173.2l7.2 7.2-7.2 7.2-7.2-7.2z"/><path d="M539.5 169.1l7.2 7.2-7.2 7.2-7.2-7.2z"/><path d="M540 162.6l7.2 7.2-7.2 7.2-7.2-7.2z"/><path d="M540.8 164.9l7.2 7.2-7.2 7.2-7.2-7.2z"/><path d="M541.3 170.4l7.2 7.2-7.2 7.2-7.2-7.2z"/><path d="M542 171.1l7.2 7.2-7.2 7.2-7.2-7.2z"/><path d="M542.5 168.4l7.2 7.2-7.2 7.2-7.2-7.2z"/><path d="M542.9 175.6l7.2 7.2-7.2 7.2-7.2-7.2z"/><path d="M543.6 165.8l7.2 7.2-7.2 7.2-7.2-7.2z"/><path d="M544 166.5l7.2 7.2-7.2 7.2-7.2-7.2z"/><path d="M544.4 175.5l7.2 7.2-7.2 7.2-7.2-7.2z"/><path d="M545.1 174.9l7.2 7.2-7.2 7.2-7.2-7.2z"/><path d="M545.4 174.4l7.2 7.2-7.2 7.2-7.2-7.2z"/><path d="M546.1 172.8l7.2 7.2-7.2 7.2-7.2-7.2z"/><path d="M546.8 165.2l7.2 7.2-7.2 7.2-7.2-7.2z"/><path d="M547.2 174.9l7.2 7.2-7.2 7.2-7.2-7.2z"/><path d="M547.9 174.2l7.2 7.2-7.2 7.2-7.2-7.2z"/><path d="M548.3 173.2l7.2 7.2-7.2 7.2-7.2-7.2z"/><path d="M549 166.9l7.2 7.2-7.2 7.2-7.2-7.2z"/><path d="M549.4 169.2l7.2 7.2-7.2 7.2-7.2-7.2z"/><path d="M549.8 172.4l7.2 7.2-7.2 7.2-7.2-7.2z"/><path d="M550.1 169.3l7.2 7.2-7.2 7.2-7.2-7.2z"/><path d="M550.5 175.5l7.2 7.2-7.2 7.2-7.2-7.2z"/><path d="M550.8 176.2l7.2 7.2-7.2 7.2-7.2-7.2z"/><path d="M551.2 167.1l7.2 7.2-7.2 7.2-7.2-7.2z"/><path d="M551.9 170l7.2 7.2-7.2 7.2-7.2-7.2z"/><path d="M552.6 179.1l7.2 7.2-7.2 7.2-7.2-7.2z"/><path d="M553.3 169.6l7.2 7.2-7.2 7.2-7.2-7.2z"/><path d="M553.8 169.2l7.2 7.2-7.2 7.2-7.2-7.2z"/><path d="M554.6 179.7l7.2 7.2-7.2 7.2-7.2-7.2z"/><path d="M555.1 174.7l7.2 7.2-7.2 7.2-7.2-7.2z"/><path d="M555.6 180l7.2 7.2-7.2 7.2-7.2-7.2z"/><path d="M556.1 177.6l7.2 7.2-7.2 7.2-7.2-7.2z"/><path d="M556.5 172.3l7.2 7.2-7.2 7.2-7.2-7.2z"/><path d="M556.8 179.1l7.2 7.2-7.2 7.2-7.2-7.2z"/><path d="M557.3 171.6l7.2 7.2-7.2 7.2-7.2-7.2z"/><path d="M558 173.6l7.2 7.2-7.2 7.2-7.2-7.2z"/><path d="M558.5 172.4l7.2 7.2-7.2 7.2-7.2-7.2z"/><path d="M558.9 181.9l7.2 7.2-7.2 7.2-7.2-7.2z"/><path d="M559.4 173l7.2 7.2-7.2 7.2-7.2-7.2z"/><path d="M559.9 175.3l7.2 7.2-7.2 7.2-7.2-7.2z"/><path d="M560.6 172.9l7.2 7.2-7.2 7.2-7.2-7.2z"/><path d="M561.4 172.5l7.2 7.2-7.2 7.2-7.2-7.2z"/><path d="M562.1 181.1l7.2 7.2-7.2 7.2-7.2-7.2z"/><path d="M562.5 178.7l7.2 7.2-7.2 7.2-7.2-7.2z"/><path d="M562.9 176l7.2 7.2-7.2 7.2-7.2-7.2z"/><path d="M563.3 177.6l7.2 7.2-7.2 7.2-7.2-7.2z"/><path d="M564 186.6l7.2 7.2-7.2 7.2-7.2-7.2z"/><path d="M564.7 174.7l7.2 7.2-7.2 7.2-7.2-7.2z"/><path d="M565.2 185.8l7.2 7.2-7.2 7.2-7.2-7.2z"/><path d="M565.5 183.6l7.2 7.2-7.2 7.2-7.2-7.2z"/><path d="M565.9 187.3l7.2 7.2-7.2 7.2-7.2-7.2z"/><path d="M566.2 185.1l7.2 7.2-7.2 7.2-7.2-7.2z"/><path d="M566.7 176.3l7.2 7.2-7.2 7.2-7.2-7.2z"/><path d="M567 185.8l7.2 7.2-7.2 7.2-7.2-7.2z"/><path d="M567.5 177.3l7.2 7.2-7.2 7.2-7.2-7.2z"/><path d="M568 187.4l7.2 7.2-7.2 7.2-7.2-7.2z"/><path d="M568.4 183l7.2 7.2-7.2 7.2-7.2-7.2z"/><path d="M568.8 177.8l7.2 7.2-7.2 7.2-7.2-7.2z"/><path d="M569.4 185.4l7.2 7.2-7.2 7.2-7.2-7.2z"/><path d="M569.8 177l7.2 7.2-7.2 7.2-7.2-7.2z"/><path d="M570.2 184.4l7.2 7.2-7.2 7.2-7.2-7.2z"/><path d="M570.7 180.1l7.2 7.2-7.2 7.2-7.2-7.2z"/><path d="M571.1 184.9l7.2 7.2-7.2 7.2-7.2-7.2z"/><path d="M571.7 187.9l7.2 7.2-7.2 7.2-7.2-7.2z"/><path d="M572.3 179.9l7.2 7.2-7.2 7.2-7.2-7.2z"/><path d="M572.6 187.3l7.2 7.2-7.2 7.2-7.2-7.2z"/><path d="M573.1 187.4l7.2 7.2-7.2 7.2-7.2-7.2z"/><path d="M573.4 188.7l7.2 7.2-7.2 7.2-7.2-7.2z"/><path d="M573.8 189.4l7.2 7.2-7.2 7.2-7.2-7.2z"/><path d="M574.5 185l7.2 7.2-7.2 7.2-7.2-7.2z"/><path d="M574.8 190.8l7.2 7.2-7.2 7.2-7.2-7.2z"/><path d="M575.4 190.5l7.2 7.2-7.2 7.2-7.2-7.2z"/><path d="M575.8 181.4l7.2 7.2-7.2 7.2-7.2-7.2z"/><path d="M576.5 184.2l7.2 7.2-7.2 7.2-7.2-7.2z"/><path d="M576.8 184.5l7.2 7.2-7.2 7.2-7.2-7.2z"/><path d="M577.4 179.8l7.2 7.2-7.2 7.2-7.2-7.2z"/><path d="M577.9 186l7.2 7.2-7.2 7.2-7.2-7.2z"/><path d="M578.5 181.9l7.2 7.2-7.2 7.2-7.2-7.2z"/><path d="M579.1 191.6l7.2 7.2-7.2 7.2-7.2-7.2z"/><path d="M579.8 185.3l7.2 7.2-7.2 7.2-7.2-7.2z"/><path d="M580.4 186.4l7.2 7.2-7.2 7.2-7.2-7.2z"/><path d="M581 182.3l7.2 7.2-7.2 7.2-7.2-7.2z"/><path d="M581.7 194.8l7.2 7.2-7.2 7.2-7.2-7.2z"/><path d="M582.2 189l7.2 7.2-7.2 7.2-7.2-7.2z"/><path d="M582.8 189.4l7.2 7.2-7.2 7.2-7.2-7.2z"/><path d="M583.1 195.3l7.2 7.2-7.2 7.2-7.2-7.2z"/><path d="M583.5 184.7l7.2 7.2-7.2 7.2-7.2-7.2z"/><path d="M583.8 185.7l7.2 7.2-7.2 7.2-7.2-7.2z"/><path d="M584.5 182.8l7.2 7.2-7.2 7.2-7.2-7.2z"/><path d="M584.8 191.9l7.2 7.2-7.2 7.2-7.2-7.2z"/><path d="M585.2 182.7l7.2 7.2-7.2 7.2-7.2-7.2z"/><path d="M585.8 190.4l7.2 7.2-7.2 7.2-7.2-7.2z"/><path d="M586.3 192.2l7.2 7.2-7.2 7.2-7.2-7.2z"/><path d="M586.7 194.5l7.2 7.2-7.2 7.2-7.2-7.2z"/><path d="M587.3 183.4l7.2 7.2-7.2 7.2-7.2-7.2z"/><path d="M587.7 189.5l7.2 7.2-7.2 7.2-7.2-7.2z"/><path d="M588.2 186.7l7.2 7.2-7.2 7.2-7.2-7.2z"/><path d="M588.5 188.5l7.2 7.2-7.2 7.2-7.2-7.2z"/><path d="M588.9 191.1l7.2 7.2-7.2 7.2-7.2-7.2z"/><path d="M589.6 185.1l7.2 7.2-7.2 7.2-7.2-7.2z"/><path d="M590.2 193.4l7.2 7.2-7.2 7.2-7.2-7.2z"/><path d="M590.5 194.5l7.2 7.2-7.2 7.2-7.2-7.2z"/><path d="M591.2 188.6l7.2 7.2-7.2 7.2-7.2-7.2z"/><path d="M591.7 194.9l7.2 7.2-7.2 7.2-7.2-7.2z"/><path d="M592.3 188.9l7.2 7.2-7.2 7.2-7.2-7.2z"/><path d="M593 194.2l7.2 7.2-7.2 7.2-7.2-7.2z"/><path d="M593.5 187l7.2 7.2-7.2 7.2-7.2-7.2z"/><path d="M593.9 189.7l7.2 7.2-7.2 7.2-7.2-7.2z"/><path d="M594.6 194.8l7.2 7.2-7.2 7.2-7.2-7.2z"/><path d="M595.4 195l7.2 7.2-7.2 7.2-7.2-7.2z"/><path d="M596 184.8l7.2 7.2-7.2 7.2-7.2-7.2z"/><path d="M596.6 197.2l7.2 7.2-7.2 7.2-7.2-7.2z"/><path d="M597.3 187.6l7.2 7.2-7.2 7.2-7.2-7.2z"/><path d="M597.8 192.9l7.2 7.2-7.2 7.2-7.2-7.2z"/><path d="M598.2 191.6l7.2 7.2-7.2 7.2-7.2-7.2z"/><path d="M598.6 190.3l7.2 7.2-7.2 7.2-7.2-7.2z"/><path d="M599.1 184.8l7.2 7.2-7.2 7.2-7.2-7.2z"/><path d="M599.5 197.8l7.2 7.2-7.2 7.2-7.2-7.2z"/><path d="M600.1 197.4l7.2 7.2-7.2 7.2-7.2-7.2z"/><path d="M600.7 195.8l7.2 7.2-7.2 7.2-7.2-7.2z"/><path d="M601.4 196.9l7.2 7.2-7.2 7.2-7.2-7.2z"/><path d="M601.7 193.6l7.2 7.2-7.2 7.2-7.2-7.2z"/><path d="M602.1 194.2l7.2 7.2-7.2 7.2-7.2-7.2z"/><path d="M602.6 192.4l7.2 7.2-7.2 7.2-7.2-7.2z"/><path d="M603.3 193.6l7.2 7.2-7.2 7.2-7.2-7.2z"/><path d="M603.7 192.3l7.2 7.2-7.2 7.2-7.2-7.2z"/><path d="M604.2 198.2l7.2 7.2-7.2 7.2-7.2-7.2z"/><path d="M604.6 189.5l7.2 7.2-7.2 7.2-7.2-7.2z"/><path d="M605.2 187l7.2 7.2-7.2 7.2-7.2-7.2z"/><path d="M605.8 198.5l7.2 7.2-7.2 7.2-7.2-7.2z"/><path d="M606.3 189.2l7.2 7.2-7.2 7.2-7.2-7.2z"/><path d="M606.8 192.9l7.2 7.2-7.2 7.2-7.2-7.2z"/><path d="M607.2 187.4l7.2 7.2-7.2 7.2-7.2-7.2z"/><path d="M607.5 189.7l7.2 7.2-7.2 7.2-7.2-7.2z"/><path d="M608 189.7l7.2 7.2-7.2 7.2-7.2-7.2z"/><path d="M608.4 187.1l7.2 7.2-7.2 7.2-7.2-7.2z"/><path d="M609 197.4l7.2 7.2-7.2 7.2-7.2-7.2z"/><path d="M609.5 193.8l7.2 7.2-7.2 7.2-7.2-7.2z"/><path d="M610.1 188.9l7.2 7.2-7.2 7.2-7.2-7.2z"/><path d="M610.8 192.5l7.2 7.2-7.2 7.2-7.2-7.2z"/><path d="M611.3 194.6l7.2 7.2-7.2 7.2-7.2-7.2z"/><path d="M611.8 190.6l7.2 7.2-7.2 7.2-7.2-7.2z"/><path d="M612.2 189.5l7.2 7.2-7.2 7.2-7.2-7.2z"/><path d="M612.8 191.7l7.2 7.2-7.2 7.2-7.2-7.2z"/><path d="M613.3 186.8l7.2 7.2-7.2 7.2-7.2-7.2z"/><path d="M613.8 198.4l7.2 7.2-7.2 7.2-7.2-7.2z"/><path d="M614.2 194.3l7.2 7.2-7.2 7.2-7.2-7.2z"/><path d="M614.7 190.7l7.2 7.2-7.2 7.2-7.2-7.2z"/><path d="M615.5 190.9l7.2 7.2-7.2 7.2-7.2-7.2z"/><path d="M616.1 189.2l7.2 7.2-7.2 7.2-7.2-7.2z"/><path d="M616.4 199.1l7.2 7.2-7.2 7.2-7.2-7.2z"/><path d="M616.9 188.3l7.2 7.2-7.2 7.2-7.2-7.2z"/><path d="M617.4 193.6l7.2 7.2-7.2 7.2-7.2-7.2z"/><path d="M618 189.5l7.2 7.2-7.2 7.2-7.2-7.2z"/><path d="M618.4 201.2l7.2 7.2-7.2 7.2-7.2-7.2z"/><path d="M619.1 190.6l7.2 7.2-7.2 7.2-7.2-7.2z"/><path d="M619.5 193.5l7.2 7.2-7.2 7.2-7.2-7.2z"/><path d="M620.1 197.3l7.2 7.2-7.2 7.2-7.2-7.2z"/><path d="M620.8 200.5l7.2 7.2-7.2 7.2-7.2-7.2z"/><path d="M621.3 199.6l7.2 7.2-7.2 7.2-7.2-7.2z"/><path d="M622 200.2l7.2 7.2-7.2 7.2-7.2-7.2z"/><path d="M622.5 200.8l7.2 7.2-7.2 7.2-7.2-7.2z"/><path d="M623.1 202.8l7.2 7.2-7.2 7.2-7.2-7.2z"/><path d="M623.5 202.4l7.2 7.2-7.2 7.2-7.2-7.2z"/><path d="M623.8 201.1l7.2 7.2-7.2 7.2-7.2-7.2z"/><path d="M624.3 197.7l7.2 7.2-7.2 7.2-7.2-7.2z"/><path d="M625.1 199.1l7.2 7.2-7.2 7.2-7.2-7.2z"/><path d="M625.5 202.2l7.2 7.2-7.2 7.2-7.2-7.2z"/><path d="M626.2 200.1l7.2 7.2-7.2 7.2-7.2-7.2z"/><path d="M626.7 198.3l7.2 7.2-7.2 7.2-7.2-7.2z"/><path d="M627.2 202.2l7.2 7.2-7.2 7.2-7.2-7.2z"/><path d="M627.6 197.9l7.2 7.2-7.2 7.2-7.2-7.2z"/><path d="M628.2 198l7.2 7.2-7.2 7.2-7.2-7.2z"/><path d="M628.6 203.7l7.2 7.2-7.2 7.2-7.2-7.2z"/><path d="M629.3 200.1l7.2 7.2-7.2 7.2-7.2-7.2z"/><path d="M629.8 196.1l7.2 7.2-7.2 7.2-7.2-7.2z"/><path d="M630.3 195.8l7.2 7.2-7.2 7.2-7.2-7.2z"/><path d="M630.8 202l7.2 7.2-7.2 7.2-7.2-7.2z"/><path d="M631.2 206.7l7.2 7.2-7.2 7.2-7.2-7.2z"/><path d="M631.6 205.9l7.2 7.2-7.2 7.2-7.2-7.2z"/><path d="M632.3 207.8l7.2 7.2-7.2 7.2-7.2-7.2z"/><path d="M632.7 200.7l7.2 7.2-7.2 7.2-7.2-7.2z"/><path d="M633.4 195.4l7.2 7.2-7.2 7.2-7.2-7.2z"/><path d="M633.7 203.1l7.2 7.2-7.2 7.2-7.2-7.2z"/><path d="M634.2 208.2l7.2 7.2-7.2 7.2-7.2-7.2z"/><path d="M634.9 203.3l7.2 7.2-7.2 7.2-7.2-7.2z"/><path d="M635.6 203.4l7.2 7.2-7.2 7.2-7.2-7.2z"/><path d="M636.2 205.9l7.2 7.2-7.2 7.2-7.2-7.2z"/><path d="M636.6 201.7l7.2 7.2-7.2 7.2-7.2-7.2z"/><path d="M637.2 201.8l7.2 7.2-7.2 7.2-7.2-7.2z"/><path d="M637.9 206.5l7.2 7.2-7.2 7.2-7.2-7.2z"/><path d="M638.5 198.8l7.2 7.2-7.2 7.2-7.2-7.2z"/><path d="M638.9 203l7.2 7.2-7.2 7.2-7.2-7.2z"/><path d="M639.5 205.6l7.2 7.2-7.2 7.2-7.2-7.2z"/><path d="M640.2 211.1l7.2 7.2-7.2 7.2-7.2-7.2z"/><path d="M640.7 204.1l7.2 7.2-7.2 7.2-7.2-7.2z"/><path d="M641.3 211.9l7.2 7.2-7.2 7.2-7.2-7.2z"/><path d="M641.7 205.7l7.2 7.2-7.2 7.2-7.2-7.2z"/><path d="M642.4 201l7.2 7.2-7.2 7.2-7.2-7.2z"/><path d="M642.8 212.1l7.2 7.2-7.2 7.2-7.2-7.2z"/><path d="M643.5 206l7.2 7.2-7.2 7.2-7.2-7.2z"/><path d="M643.9 211.3l7.2 7.2-7.2 7.2-7.2-7.2z"/><path d="M644.5 210.5l7.2 7.2-7.2 7.2-7.2-7.2z"/><path d="M645.2 211.6l7.2 7.2-7.2 7.2-7.2-7.2z"/><path d="M645.7 201.8l7.2 7.2-7.2 7.2-7.2-7.2z"/><path d="M646.1 206.8l7.2 7.2-7.2 7.2-7.2-7.2z"/><path d="M646.7 202.5l7.2 7.2-7.2 7.2-7.2-7.2z"/><path d="M647.1 208.7l7.2 7.2-7.2 7.2-7.2-7.2z"/><path d="M647.6 205.1l7.2 7.2-7.2 7.2-7.2-7.2z"/><path d="M648.4 209.2l7.2 7.2-7.2 7.2-7.2-7.2z"/><path d="M648.7 206.2l7.2 7.2-7.2 7.2-7.2-7.2z"/><path d="M649.3 205l7.2 7.2-7.2 7.2-7.2-7.2z"/><path d="M650 201l7.2 7.2-7.2 7.2-7.2-7.2z"/><path d="M650.4 212.6l7.2 7.2-7.2 7.2-7.2-7.2z"/><path d="M651 210.4l7.2 7.2-7.2 7.2-7.2-7.2z"/><path d="M651.3 208.2l7.2 7.2-7.2 7.2-7.2-7.2z"/><path d="M651.9 205.2l7.2 7.2-7.2 7.2-7.2-7.2z"/><path d="M652.5 208.9l7.2 7.2-7.2 7.2-7.2-7.2z"/><path d="M653.2 209.7l7.2 7.2-7.2 7.2-7.2-7.2z"/><path d="M653.7 203.7l7.2 7.2-7.2 7.2-7.2-7.2z"/><path d="M654.1 212.5l7.2 7.2-7.2 7.2-7.2-7.2z"/><path d="M654.4 203.6l7.2 7.2-7.2 7.2-7.2-7.2z"/><path d="M654.8 209.5l7.2 7.2-7.2 7.2-7.2-7.2z"/><path d="M655.5 210.9l7.2 7.2-7.2 7.2-7.2-7.2z"/><path d="M656.2 203.6l7.2 7.2-7.2 7.2-7.2-7.2z"/><path d="M656.5 213.3l7.2 7.2-7.2 7.2-7.2-7.2z"/><path d="M656.9 212.7l7.2 7.2-7.2 7.2-7.2-7.2z"/><path d="M657.4 205.4l7.2 7.2-7.2 7.2-7.2-7.2z"/><path d="M657.8 204.6l7.2 7.2-7.2 7.2-7.2-7.2z"/><path d="M658.5 211.4l7.2 7.2-7.2 7.2-7.2-7.2z"/><path d="M658.9 209.7l7.2 7.2-7.2 7.2-7.2-7.2z"/><path d="M659.4 204.5l7.2 7.2-7.2 7.2-7.2-7.2z"/><path d="M660.1 211.8l7.2 7.2-7.2 7.2-7.2-7.2z"/><path d="M660.9 210.1l7.2 7.2-7.2 7.2-7.2-7.2z"/><path d="M661.4 207.7l7.2 7.2-7.2 7.2-7.2-7.2z"/><path d="M661.7 217.1l7.2 7.2-7.2 7.2-7.2-7.2z"/><path d="M662.4 208.9l7.2 7.2-7.2 7.2-7.2-7.2z"/><path d="M663.1 215.9l7.2 7.2-7.2 7.2-7.2-7.2z"/><path d="M663.6 213.1l7.2 7.2-7.2 7.2-7.2-7.2z"/><path d="M664.3 211.9l7.2 7.2-7.2 7.2-7.2-7.2z"/><path d="M665 208.6l7.2 7.2-7.2 7.2-7.2-7.2z"/><path d="M665.5 215.3l7.2 7.2-7.2 7.2-7.2-7.2z"/><path d="M665.9 209.8l7.2 7.2-7.2 7.2-7.2-7.2z"/><path d="M666.6 212.4l7.2 7.2-7.2 7.2-7.2-7.2z"/><path d="M667.3 209.3l7.2 7.2-7.2 7.2-7.2-7.2z"/><path d="M667.6 211l7.2 7.2-7.2 7.2-7.2-7.2z"/><path d="M668 219.4l7.2 7.2-7.2 7.2-7.2-7.2z"/><path d="M668.5 214l7.2 7.2-7.2 7.2-7.2-7.2z"/><path d="M668.8 213.7l7.2 7.2-7.2 7.2-7.2-7.2z"/><path d="M669.3 212.1l7.2 7.2-7.2 7.2-7.2-7.2z"/><path d="M669.6 208.3l7.2 7.2-7.2 7.2-7.2-7.2z"/><path d="M670.3 211.6l7.2 7.2-7.2 7.2-7.2-7.2z"/><path d="M670.7 209.6l7.2 7.2-7.2 7.2-7.2-7.2z"/><path d="M671.1 210.3l7.2 7.2-7.2 7.2-7.2-7.2z"/><path d="M671.4 216.2l7.2 7.2-7.2 7.2-7.2-7.2z"/><path d="M671.9 209.4l7.2 7.2-7.2 7.2-7.2-7.2z"/><path d="M672.5 208.8l7.2 7.2-7.2 7.2-7.2-7.2z"/><path d="M672.9 219l7.2 7.2-7.2 7.2-7.2-7.2z"/><path d="M673.3 213.8l7.2 7.2-7.2 7.2-7.2-7.2z"/><path d="M674 218.9l7.2 7.2-7.2 7.2-7.2-7.2z"/><path d="M674.3 212.8l7.2 7.2-7.2 7.2-7.2-7.2z"/><path d="M675 213.3l7.2 7.2-7.2 7.2-7.2-7.2z"/><path d="M675.7 211.3l7.2 7.2-7.2 7.2-7.2-7.2z"/><path d="M676.4 215.5l7.2 7.2-7.2 7.2-7.2-7.2z"/><path d="M676.8 214.9l7.2 7.2-7.2 7.2-7.2-7.2z"/><path d="M677.2 218.5l7.2 7.2-7.2 7.2-7.2-7.2z"/><path d="M677.6 221.2l7.2 7.2-7.2 7.2-7.2-7.2z"/><path d="M678.2 214.1l7.2 7.2-7.2 7.2-7.2-7.2z"/><path d="M678.6 217.5l7.2 7.2-7.2 7.2-7.2-7.2z"/><path d="M679 221.2l7.2 7.2-7.2 7.2-7.2-7.2z"/><path d="M679.3 216.4l7.2 7.2-7.2 7.2-7.2-7.2z"/><path d="M679.9 213.3l7.2 7.2-7.2 7.2-7.2-7.2z"/><path d="M680.5 215l7.2 7.2-7.2 7.2-7.2-7.2z"/><path d="M681.1 217.7l7.2 7.2-7.2 7.2-7.2-7.2z"/><path d="M681.5 215.4l7.2 7.2-7.2 7.2-7.2-7.2z"/><path d="M681.9 212.6l7.2 7.2-7.2 7.2-7.2-7.2z"/><path d="M682.6 214.8l7.2 7.2-7.2 7.2-7.2-7.2z"/><path d="M683.2 212.1l7.2 7.2-7.2 7.2-7.2-7.2z"/><path d="M683.7 215.7l7.2 7.2-7.2 7.2-7.2-7.2z"/><path d="M684.2 214.9l7.2 7.2-7.2 7.2-7.2-7.2z"/><path d="M684.6 215.2l7.2 7.2-7.2 7.2-7.2-7.2z"/><path d="M685 212.8l7.2 7.2-7.2 7.2-7.2-7.2z"/><path d="M685.6 215.1l7.2 7.2-7.2 7.2-7.2-7.2z"/><path d="M686.1 223.8l7.2 7.2-7.2 7.2-7.2-7.2z"/><path d="M686.7 223.6l7.2 7.2-7.2 7.2-7.2-7.2z"/><path d="M687.4 213.6l7.2 7.2-7.2 7.2-7.2-7.2z"/><path d="M687.8 212.3l7.2 7.2-7.2 7.2-7.2-7.2z"/><path d="M688.4 221.1l7.2 7.2-7.2 7.2-7.2-7.2z"/><path d="M688.9 217.9l7.2 7.2-7.2 7.2-7.2-7.2z"/><path d="M689.5 221.9l7.2 7.2-7.2 7.2-7.2-7.2z"/><path d="M689.9 224l7.2 7.2-7.2 7.2-7.2-7.2z"/><path d="M690.4 221.2l7.2 7.2-7.2 7.2-7.2-7.2z"/><path d="M690.8 214.3l7.2 7.2-7.2 7.2-7.2-7.2z"/><path d="M691.5 223l7.2 7.2-7.2 7.2-7.2-7.2z"/><path d="M692.1 213.7l7.2 7.2-7.2 7.2-7.2-7.2z"/><path d="M692.4 215.5l7.2 7.2-7.2 7.2-7.2-7.2z"/><path d="M692.8 217.5l7.2 7.2-7.2 7.2-7.2-7.2z"/><path d="M693.3 214l7.2 7.2-7.2 7.2-7.2-7.2z"/><path d="M693.7 222.3l7.2 7.2-7.2 7.2-7.2-7.2z"/><path d="M694.1 225.2l7.2 7.2-7.2 7.2-7.2-7.2z"/><path d="M694.6 223.6l7.2 7.2-7.2 7.2-7.2-7.2z"/><path d="M695.1 219.9l7.2 7.2-7.2 7.2-7.2-7.2z"/><path d="M695.7 219.1l7.2 7.2-7.2 7.2-7.2-7.2z"/><path d="M696 225.9l7.2 7.2-7.2 7.2-7.2-7.2z"/><path d="M696.6 218.7l7.2 7.2-7.2 7.2-7.2-7.2z"/><path d="M696.9 226.6l7.2 7.2-7.2 7.2-7.2-7.2z"/><path d="M697.5 216l7.2 7.2-7.2 7.2-7.2-7.2z"/><path d="M697.9 217.1l7.2 7.2-7.2 7.2-7.2-7.2z"/><path d="M698.6 218.7l7.2 7.2-7.2 7.2-7.2-7.2z"/><path d="M699.3 226.5l7.2 7.2-7.2 7.2-7.2-7.2z"/><path d="M699.6 225.9l7.2 7.2-7.2 7.2-7.2-7.2z"/><path d="M700.1 226.9l7.2 7.2-7.2 7.2-7.2-7.2z"/><path d="M700.8 220.9l7.2 7.2-7.2 7.2-7.2-7.2z"/><path d="M701.1 230.1l7.2 7.2-7.2 7.2-7.2-7.2z"/><path d="M701.6 230.1l7.2 7.2-7.2 7.2-7.2-7.2z"/><path d="M702.2 227.9l7.2 7.2-7.2 7.2-7.2-7.2z"/><path d="M702.9 226.7l7.2 7.2-7.2 7.2-7.2-7.2z"/><path d="M703.4 219.2l7.2 7.2-7.2 7.2-7.2-7.2z"/><path d="M704 224.6l7.2 7.2-7.2 7.2-7.2-7.2z"/><path d="M704.5 231.7l7.2 7.2-7.2 7.2-7.2-7.2z"/><path d="M704.9 229.6l7.2 7.2-7.2 7.2-7.2-7.2z"/><path d="M705.2 229l7.2 7.2-7.2 7.2-7.2-7.2z"/><path d="M705.9 223.3l7.2 7.2-7.2 7.2-7.2-7.2z"/><path d="M706.4 233.2l7.2 7.2-7.2 7.2-7.2-7.2z"/><path d="M707 227.8l7.2 7.2-7.2 7.2-7.2-7.2z"/><path d="M707.4 221.4l7.2 7.2-7.2 7.2-7.2-7.2z"/><path d="M707.9 226.4l7.2 7.2-7.2 7.2-7.2-7.2z"/><path d="M708.3 225.3l7.2 7.2-7.2 7.2-7.2-7.2z"/><path d="M708.6 230.8l7.2 7.2-7.2 7.2-7.2-7.2z"/><path d="M709.2 224.8l7.2 7.2-7.2 7.2-7.2-7.2z"/><path d="M709.6 228.8l7.2 7.2-7.2 7.2-7.2-7.2z"/><path d="M710.1 234.7l7.2 7.2-7.2 7.2-7.2-7.2z"/><path d="M710.6 226.3l7.2 7.2-7.2 7.2-7.2-7.2z"/><path d="M711.3 224.6l7.2 7.2-7.2 7.2-7.2-7.2z"/><path d="M711.9 227.5l7.2 7.2-7.2 7.2-7.2-7.2z"/><path d="M712.5 230.7l7.2 7.2-7.2 7.2-7.2-7.2z"/><path d="M713.2 225.9l7.2 7.2-7.2 7.2-7.2-7.2z"/><path d="M713.8 232.1l7.2 7.2-7.2 7.2-7.2-7.2z"/><path d="M714.3 234.6l7.2 7.2-7.2 7.2-7.2-7.2z"/><path d="M714.9 226.1l7.2 7.2-7.2 7.2-7.2-7.2z"/><path d="M715.4 229.7l7.2 7.2-7.2 7.2-7.2-7.2z"/><path d="M715.8 225.8l7.2 7.2-7.2 7.2-7.2-7.2z"/><path d="M716.2 227.9l7.2 7.2-7.2 7.2-7.2-7.2z"/><path d="M716.8 231.6l7.2 7.2-7.2 7.2-7.2-7.2z"/><path d="M717.2 230.1l7.2 7.2-7.2 7.2-7.2-7.2z"/><path d="M717.7 230.9l7.2 7.2-7.2 7.2-7.2-7.2z"/><path d="M718 227.2l7.2 7.2-7.2 7.2-7.2-7.2z"/><path d="M718.4 239.9l7.2 7.2-7.2 7.2-7.2-7.2z"/><path d="M719 227.8l7.2 7.2-7.2 7.2-7.2-7.2z"/><path d="M719.6 240.4l7.2 7.2-7.2 7.2-7.2-7.2z"/><path d="M720.2 228.8l7.2 7.2-7.2 7.2-7.2-7.2z"/><path d="M720.7 233.5l7.2 7.2-7.2 7.2-7.2-7.2z"/><path d="M721.1 235.2l7.2 7.2-7.2 7.2-7.2-7.2z"/><path d="M721.4 240.5l7.2 7.2-7.2 7.2-7.2-7.2z"/><path d="M722 236.8l7.2 7.2-7.2 7.2-7.2-7.2z"/><path d="M722.7 237.5l7.2 7.2-7.2 7.2-7.2-7.2z"/><path d="M723.1 232.2l7.2 7.2-7.2 7.2-7.2-7.2z"/><path d="M723.5 229.4l7.2 7.2-7.2 7.2-7.2-7.2z"/><path d="M724.1 240.8l7.2 7.2-7.2 7.2-7.2-7.2z"/><path d="M724.5 232.2l7.2 7.2-7.2 7.2-7.2-7.2z"/><path d="M725.1 241.5l7.2 7.2-7.2 7.2-7.2-7.2z"/><path d="M725.8 232.6l7.2 7.2-7.2 7.2-7.2-7.2z"/><path d="M726.5 242l7.2 7.2-7.2 7.2-7.2-7.2z"/><path d="M727.1 235.5l7.2 7.2-7.2 7.2-7.2-7.2z"/><path d="M727.5 242.4l7.2 7.2-7.2 7.2-7.2-7.2z"/><path d="M728 236.5l7.2 7.2-7.2 7.2-7.2-7.2z"/><path d="M728.5 236.8l7.2 7.2-7.2 7.2-7.2-7.2z"/><path d="M729.2 235.3l7.2 7.2-7.2 7.2-7.2-7.2z"/><path d="M729.5 239.8l7.2 7.2-7.2 7.2-7.2-7.2z"/><path d="M730.1 243.4l7.2 7.2-7.2 7.2-7.2-7.2z"/><path d="M730.7 244.6l7.2 7.2-7.2 7.2-7.2-7.2z"/><path d="M731.4 239.2l7.2 7.2-7.2 7.2-7.2-7.2z"/><path d="M732 234.7l7.2 7.2-7.2 7.2-7.2-7.2z"/><path d="M732.4 240.5l7.2 7.2-7.2 7.2-7.2-7.2z"/><path d="M732.7 242.1l7.2 7.2-7.2 7.2-7.2-7.2z"/><path d="M733.1 238.8l7.2 7.2-7.2 7.2-7.2-7.2z"/><path d="M733.8 234.1l7.2 7.2-7.2 7.2-7.2-7.2z"/><path d="M734.2 239l7.2 7.2-7.2 7.2-7.2-7.2z"/><path d="M734.5 242.9l7.2 7.2-7.2 7.2-7.2-7.2z"/><path d="M734.8 244.5l7.2 7.2-7.2 7.2-7.2-7.2z"/><path d="M735.5 243.9l7.2 7.2-7.2 7.2-7.2-7.2z"/><path d="M736 237.2l7.2 7.2-7.2 7.2-7.2-7.2z"/><path d="M736.6 240.4l7.2 7.2-7.2 7.2-7.2-7.2z"/><path d="M737.1 238.1l7.2 7.2-7.2 7.2-7.2-7.2z"/><path d="M737.6 242.7l7.2 7.2-7.2 7.2-7.2-7.2z"/><path d="M738.3 246.1l7.2 7.2-7.2 7.2-7.2-7.2z"/><path d="M738.6 237.9l7.2 7.2-7.2 7.2-7.2-7.2z"/><path d="M739.1 241.6l7.2 7.2-7.2 7.2-7.2-7.2z"/><path d="M739.6 236.7l7.2 7.2-7.2 7.2-7.2-7.2z"/><path d="M739.9 238.5l7.2 7.2-7.2 7.2-7.2-7.2z"/><path d="M740.4 247.4l7.2 7.2-7.2 7.2-7.2-7.2z"/><path d="M741.2 246.1l7.2 7.2-7.2 7.2-7.2-7.2z"/><path d="M741.9 247.5l7.2 7.2-7.2 7.2-7.2-7.2z"/><path d="M742.5 245.6l7.2 7.2-7.2 7.2-7.2-7.2z"/><path d="M742.8 243.8l7.2 7.2-7.2 7.2-7.2-7.2z"/><path d="M743.4 238.8l7.2 7.2-7.2 7.2-7.2-7.2z"/><path d="M743.9 247.8l7.2 7.2-7.2 7.2-7.2-7.2z"/><path d="M744.4 243.7l7.2 7.2-7.2 7.2-7.2-7.2z"/><path d="M744.9 239.7l7.2 7.2-7.2 7.2-7.2-7.2z"/><path d="M745.6 235.5l7.2 7.2-7.2 7.2-7.2-7.2z"/><path d="M746 244.5l7.2 7.2-7.2 7.2-7.2-7.2z"/><path d="M746.5 236.5l7.2 7.2-7.2 7.2-7.2-7.2z"/><path d="M747.1 240.5l7.2 7.2-7.2 7.2-7.2-7.2z"/><path d="M747.6 241.2l7.2 7.2-7.2 7.2-7.2-7.2z"/><path d="M748.2 243.3l7.2 7.2-7.2 7.2-7.2-7.2z"/><path d="M748.6 237.3l7.2 7.2-7.2 7.2-7.2-7.2z"/><path d="M749 247.9l7.2 7.2-7.2 7.2-7.2-7.2z"/><path d="M749.6 237.4l7.2 7.2-7.2 7.2-7.2-7.2z"/><path d="M750.3 239.5l7.2 7.2-7.2 7.2-7.2-7.2z"/><path d="M750.6 243.3l7.2 7.2-7.2 7.2-7.2-7.2z"/><path d="M751 242.8l7.2 7.2-7.2 7.2-7.2-7.2z"/><path d="M751.6 239.4l7.2 7.2-7.2 7.2-7.2-7.2z"/><path d="M752.1 237.9l7.2 7.2-7.2 7.2-7.2-7.2z"/><path d="M752.7 244.5l7.2 7.2-7.2 7.2-7.2-7.2z"/><path d="M753 242.1l7.2 7.2-7.2 7.2-7.2-7.2z"/><path d="M753.3 242.6l7.2 7.2-7.2 7.2-7.2-7.2z"/><path d="M754 244.3l7.2 7.2-7.2 7.2-7.2-7.2z"/><path d="M754.6 247.2l7.2 7.2-7.2 7.2-7.2-7.2z"/><path d="M755 250.4l7.2 7.2-7.2 7.2-7.2-7.2z"/><path d="M755.6 238.5l7.2 7.2-7.2 7.2-7.2-7.2z"/><path d="M756.3 242.5l7.2 7.2-7.2 7.2-7.2-7.2z"/><path d="M756.7 250.3l7.2 7.2-7.2 7.2-7.2-7.2z"/><path d="M757.2 247.9l7.2 7.2-7.2 7.2-7.2-7.2z"/><path d="M757.6 248l7.2 7.2-7.2 7.2-7.2-7.2z"/><path d="M757.9 240.7l7.2 7.2-7.2 7.2-7.2-7.2z"/><path d="M758.4 237.8l7.2 7.2-7.2 7.2-7.2-7.2z"/><path d="M758.9 240.6l7.2 7.2-7.2 7.2-7.2-7.2z"/><path d="M759.4 247.4l7.2 7.2-7.2 7.2-7.2-7.2z"/><path d="M759.9 250l7.2 7.2-7.2 7.2-7.2-7.2z"/><path d="M760.4 249.8l7.2 7.2-7.2 7.2-7.2-7.2z"/><path d="M761 250.6l7.2 7.2-7.2 7.2-7.2-7.2z"/><path d="M761.7 240.5l7.2 7.2-7.2 7.2-7.2-7.2z"/><path d="M762.3 243l7.2 7.2-7.2 7.2-7.2-7.2z"/><path d="M763 247.7l7.2 7.2-7.2 7.2-7.2-7.2z"/><path d="M763.6 240.3l7.2 7.2-7.2 7.2-7.2-7.2z"/><path d="M764.1 248.7l7.2 7.2-7.2 7.2-7.2-7.2z"/><path d="M764.8 248.6l7.2 7.2-7.2 7.2-7.2-7.2z"/><path d="M765.2 247.1l7.2 7.2-7.2 7.2-7.2-7.2z"/><path d="M765.5 246.4l7.2 7.2-7.2 7.2-7.2-7.2z"/><path d="M766.2 240.6l7.2 7.2-7.2 7.2-7.2-7.2z"/><path d="M766.9 248.4l7.2 7.2-7.2 7.2-7.2-7.2z"/><path d="M767.3 241.9l7.2 7.2-7.2 7.2-7.2-7.2z"/><path d="M767.8 250.8l7.2 7.2-7.2 7.2-7.2-7.2z"/><path d="M768.4 241l7.2 7.2-7.2 7.2-7.2-7.2z"/><path d="M768.7 241.1l7.2 7.2-7.2 7.2-7.2-7.2z"/><path d="M769.3 242.2l7.2 7.2-7.2 7.2-7.2-7.2z"/><path d="M769.9 243.7l7.2 7.2-7.2 7.2-7.2-7.2z"/><path d="M770.5 245.1l7.2 7.2-7.2 7.2-7.2-7.2z"/><path d="M770.8 251.9l7.2 7.2-7.2 7.2-7.2-7.2z"/><path d="M771.4 249.6l7.2 7.2-7.2 7.2-7.2-7.2z"/><path d="M772.1 253.4l7.2 7.2-7.2 7.2-7.2-7.2z"/><path d="M772.4 245.3l7.2 7.2-7.2 7.2-7.2-7.2z"/><path d="M772.7 247.7l7.2 7.2-7.2 7.2-7.2-7.2z"/><path d="M773.4 252.1l7.2 7.2-7.2 7.2-7.2-7.2z"/><path d="M773.7 243.8l7.2 7.2-7.2 7.2-7.2-7.2z"/><path d="M774.4 250.9l7.2 7.2-7.2 7.2-7.2-7.2z"/><path d="M774.9 248.3l7.2 7.2-7.2 7.2-7.2-7.2z"/><path d="M775.3 253.5l7.2 7.2-7.2 7.2-7.2-7.2z"/><path d="M775.7 254.2l7.2 7.2-7.2 7.2-7.2-7.2z"/><path d="M776.3 243.6l7.2 7.2-7.2 7.2-7.2-7.2z"/><path d="M776.8 245.7l7.2 7.2-7.2 7.2-7.2-7.2z"/><path d="M777.5 251.1l7.2 7.2-7.2 7.2-7.2-7.2z"/><path d="M777.8 245.6l7.2 7.2-7.2 7.2-7.2-7.2z"/><path d="M778.2 249.9l7.2 7.2-7.2 7.2-7.2-7.2z"/><path d="M778.8 249l7.2 7.2-7.2 7.2-7.2-7.2z"/><path d="M779.3 244.1l7.2 7.2-7.2 7.2-7.2-7.2z"/><path d="M779.8 248.8l7.2 7.2-7.2 7.2-7.2-7.2z"/><path d="M780.1 250.7l7.2 7.2-7.2 7.2-7.2-7.2z"/><path d="M780.9 245.4l7.2 7.2-7.2 7.2-7.2-7.2z"/><path d="M781.2 254.1l7.2 7.2-7.2 7.2-7.2-7.2z"/><path d="M781.7 248.9l7.2 7.2-7.2 7.2-7.2-7.2z"/><path d="M782.2 249l7.2 7.2-7.2 7.2-7.2-7.2z"/><path d="M782.7 252.8l7.2 7.2-7.2 7.2-7.2-7.2z"/><path d="M783.5 259.5l7.2 7.2-7.2 7.2-7.2-7.2z"/><path d="M783.8 253.8l7.2 7.2-7.2 7.2-7.2-7.2z"/><path d="M784.4 258.3l7.2 7.2-7.2 7.2-7.2-7.2z"/><path d="M785.1 255.4l7.2 7.2-7.2 7.2-7.2-7.2z"/><path d="M785.7 252l7.2 7.2-7.2 7.2-7.2-7.2z"/><path d="M786.1 258.1l7.2 7.2-7.2 7.2-7.2-7.2z"/><path d="M786.8 260.4l7.2 7.2-7.2 7.2-7.2-7.2z"/><path d="M787.4 252l7.2 7.2-7.2 7.2-7.2-7.2z"/><path d="M788 258.3l7.2 7.2-7.2 7.2-7.2-7.2z"/><path d="M788.6 257.1l7.2 7.2-7.2 7.2-7.2-7.2z"/><path d="M789 256.2l7.2 7.2-7.2 7.2-7.2-7.2z"/><path d="M789.5 249.8l7.2 7.2-7.2 7.2-7.2-7.2z"/><path d="M790 253.5l7.2 7.2-7.2 7.2-7.2-7.2z"/><path d="M790.7 256.1l7.2 7.2-7.2 7.2-7.2-7.2z"/><path d="M791.2 253l7.2 7.2-7.2 7.2-7.2-7.2z"/><path d="M791.6 254.7l7.2 7.2-7.2 7.2-7.2-7.2z"/><path d="M791.9 250.2l7.2 7.2-7.2 7.2-7.2-7.2z"/><path d="M792.6 256.6l7.2 7.2-7.2 7.2-7.2-7.2z"/><path d="M793.1 258.4l7.2 7.2-7.2 7.2-7.2-7.2z"/><path d="M793.6 253.2l7.2 7.2-7.2 7.2-7.2-7.2z"/><path d="M793.9 255.2l7.2 7.2-7.2 7.2-7.2-7.2z"/><path d="M794.3 261.1l7.2 7.2-7.2 7.2-7.2-7.2z"/><path d="M794.9 264.3l7.2 7.2-7.2 7.2-7.2-7.2z"/><path d="M795.3 264.3l7.2 7.2-7.2 7.2-7.2-7.2z"/><path d="M795.9 253.1l7.2 7.2-7.2 7.2-7.2-7.2z"/><path d="M796.3 260.1l7.2 7.2-7.2 7.2-7.2-7.2z"/><path d="M797 257.4l7.2 7.2-7.2 7.2-7.2-7.2z"/><path d="M797.7 258.7l7.2 7.2-7.2 7.2-7.2-7.2z"/><path d="M798.4 254.1l7.2 7.2-7.2 7.2-7.2-7.2z"/><path d="M798.9 265.7l7.2 7.2-7.2 7.2-7.2-7.2z"/><path d="M799.3 257.2l7.2 7.2-7.2 7.2-7.2-7.2z"/><path d="M799.6 256l7.2 7.2-7.2 7.2-7.2-7.2z"/><path d="M800 263.6l7.2 7.2-7.2 7.2-7.2-7.2z"/><path d="M800.4 259.6l7.2 7.2-7.2 7.2-7.2-7.2z"/><path d="M800.8 262.5l7.2 7.2-7.2 7.2-7.2-7.2z"/><path d="M801.5 263.3l7.2 7.2-7.2 7.2-7.2-7.2z"/><path d="M801.9 264.6l7.2 7.2-7.2 7.2-7.2-7.2z"/><path d="M802.6 263l7.2 7.2-7.2 7.2-7.2-7.2z"/><path d="M803 266l7.2 7.2-7.2 7.2-7.2-7.2z"/><path d="M803.7 259.8l7.2 7.2-7.2 7.2-7.2-7.2z"/><path d="M804 257.9l7.2 7.2-7.2 7.2-7.2-7.2z"/><path d="M804.6 267.4l7.2 7.2-7.2 7.2-7.2-7.2z"/><path d="M805.1 268.2l7.2 7.2-7.2 7.2-7.2-7.2z"/><path d="M805.5 260.2l7.2 7.2-7.2 7.2-7.2-7.2z"/><path d="M806.2 264.8l7.2 7.2-7.2 7.2-7.2-7.2z"/><path d="M806.7 265.4l7.2 7.2-7.2 7.2-7.2-7.2z"/><path d="M807.1 257.1l7.2 7.2-7.2 7.2-7.2-7.2z"/><path d="M807.6 257.1l7.2 7.2-7.2 7.2-7.2-7.2z"/><path d="M808.2 261.2l7.2 7.2-7.2 7.2-7.2-7.2z"/><path d="M808.7 265l7.2 7.2-7.2 7.2-7.2-7.2z"/><path d="M809.1 263.3l7.2 7.2-7.2 7.2-7.2-7.2z"/><path d="M809.4 269.6l7.2 7.2-7.2 7.2-7.2-7.2z"/><path d="M810 270.7l7.2 7.2-7.2 7.2-7.2-7.2z"/><path d="M810.3 265.7l7.2 7.2-7.2 7.2-7.2-7.2z"/><path d="M810.9 262l7.2 7.2-7.2 7.2-7.2-7.2z"/><path d="M811.3 259.8l7.2 7.2-7.2 7.2-7.2-7.2z"/><path d="M811.6 268.2l7.2 7.2-7.2 7.2-7.2-7.2z"/><path d="M812 269l7.2 7.2-7.2 7.2-7.2-7.2z"/><path d="M812.5 265.4l7.2 7.2-7.2 7.2-7.2-7.2z"/><path d="M813 265.8l7.2 7.2-7.2 7.2-7.2-7.2z"/><path d="M813.6 266.6l7.2 7.2-7.2 7.2-7.2-7.2z"/><path d="M814.1 268.7l7.2 7.2-7.2 7.2-7.2-7.2z"/><path d="M814.5 268.4l7.2 7.2-7.2 7.2-7.2-7.2z"/><path d="M815.1 269.5l7.2 7.2-7.2 7.2-7.2-7.2z"/><path d="M815.6 269.6l7.2 7.2-7.2 7.2-7.2-7.2z"/><path d="M816.3 265.5l7.2 7.2-7.2 7.2-7.2-7.2z"/><path d="M816.7 266.6l7.2 7.2-7.2 7.2-7.2-7.2z"/><path d="M817.5 261.5l7.2 7.2-7.2 7.2-7.2-7.2z"/><path d="M817.8 266.2l7.2 7.2-7.2 7.2-7.2-7.2z"/><path d="M818.4 270.5l7.2 7.2-7.2 7.2-7.2-7.2z"/><path d="M818.8 273.6l7.2 7.2-7.2 7.2-7.2-7.2z"/><path d="M819.2 270.5l7.2 7.2-7.2 7.2-7.2-7.2z"/><path d="M819.6 260.7l7.2 7.2-7.2 7.2-7.2-7.2z"/><path d="M819.9 261.3l7.2 7.2-7.2 7.2-7.2-7.2z"/><path d="M820.5 268.2l7.2 7.2-7.2 7.2-7.2-7.2z"/><path d="M820.8 273.6l7.2 7.2-7.2 7.2-7.2-7.2z"/><path d="M821.3 263l7.2 7.2-7.2 7.2-7.2-7.2z"/><path d="M821.7 271.1l7.2 7.2-7.2 7.2-7.2-7.2z"/><path d="M822.4 263.5l7.2 7.2-7.2 7.2-7.2-7.2z"/><path d="M822.7 272l7.2 7.2-7.2 7.2-7.2-7.2z"/><path d="M823.1 274.9l7.2 7.2-7.2 7.2-7.2-7.2z"/><path d="M823.6 270.3l7.2 7.2-7.2 7.2-7.2-7.2z"/><path d="M824.1 272.7l7.2 7.2-7.2 7.2-7.2-7.2z"/><path d="M824.6 266.4l7.2 7.2-7.2 7.2-7.2-7.2z"/><path d="M825.3 263.7l7.2 7.2-7.2 7.2-7.2-7.2z"/><path d="M825.9 263.3l7.2 7.2-7.2 7.2-7.2-7.2z"/><path d="M826.5 268.1l7.2 7.2-7.2 7.2-7.2-7.2z"/><path d="M827.2 263.7l7.2 7.2-7.2 7.2-7.2-7.2z"/><path d="M827.8 268.6l7.2 7.2-7.2 7.2-7.2-7.2z"/><path d="M828.5 276.1l7.2 7.2-7.2 7.2-7.2-7.2z"/><path d="M829.1 266.5l7.2 7.2-7.2 7.2-7.2-7.2z"/><path d="M829.5 267.2l7.2 7.2-7.2 7.2-7.2-7.2z"/><path d="M830 266.9l7.2 7.2-7.2 7.2-7.2-7.2z"/><path d="M830.4 274.2l7.2 7.2-7.2 7.2-7.2-7.2z"/><path d="M831 268.1l7.2 7.2-7.2 7.2-7.2-7.2z"/><path d="M831.7 267.3l7.2 7.2-7.2 7.2-7.2-7.2z"/><path d="M832.3 266.6l7.2 7.2-7.2 7.2-7.2-7.2z"/><path d="M833 276.5l7.2 7.2-7.2 7.2-7.2-7.2z"/><path d="M833.4 275.1l7.2 7.2-7.2 7.2-7.2-7.2z"/><path d="M834 268.9l7.2 7.2-7.2 7.2-7.2-7.2z"/><path d="M834.5 271.8l7.2 7.2-7.2 7.2-7.2-7.2z"/><path d="M835.2 267.6l7.2 7.2-7.2 7.2-7.2-7.2z"/><path d="M835.8 273.8l7.2 7.2-7.2 7.2-7.2-7.2z"/><path d="M836.3 273.7l7.2 7.2-7.2 7.2-7.2-7.2z"/><path d="M837 268.9l7.2 7.2-7.2 7.2-7.2-7.2z"/><path d="M837.7 271.2l7.2 7.2-7.2 7.2-7.2-7.2z"/><path d="M838.4 278.2l7.2 7.2-7.2 7.2-7.2-7.2z"/><path d="M838.7 278.3l7.2 7.2-7.2 7.2-7.2-7.2z"/><path d="M839.5 270.9l7.2 7.2-7.2 7.2-7.2-7.2z"/><path d="M839.8 268.5l7.2 7.2-7.2 7.2-7.2-7.2z"/><path d="M840.5 267.4l7.2 7.2-7.2 7.2-7.2-7.2z"/><path d="M841.2 269.6l7.2 7.2-7.2 7.2-7.2-7.2z"/><path d="M841.9 269.1l7.2 7.2-7.2 7.2-7.2-7.2z"/><path d="M842.2 277.2l7.2 7.2-7.2 7.2-7.2-7.2z"/><path d="M842.6 272.7l7.2 7.2-7.2 7.2-7.2-7.2z"/><path d="M843.3 278.2l7.2 7.2-7.2 7.2-7.2-7.2z"/><path d="M844 282l7.2 7.2-7.2 7.2-7.2-7.2z"/><path d="M844.3 272l7.2 7.2-7.2 7.2-7.2-7.2z"/><path d="M845 278.5l7.2 7.2-7.2 7.2-7.2-7.2z"/><path d="M845.3 276.1l7.2 7.2-7.2 7.2-7.2-7.2z"/><path d="M845.7 275.3l7.2 7.2-7.2 7.2-7.2-7.2z"/><path d="M846 269.9l7.2 7.2-7.2 7.2-7.2-7.2z"/><path d="M846.8 274.2l7.2 7.2-7.2 7.2-7.2-7.2z"/><path d="M847.5 271.8l7.2 7.2-7.2 7.2-7.2-7.2z"/><path d="M848 272.3l7.2 7.2-7.2 7.2-7.2-7.2z"/><path d="M848.5 273.1l7.2 7.2-7.2 7.2-7.2-7.2z"/><path d="M849.1 272.9l7.2 7.2-7.2 7.2-7.2-7.2z"/><path d="M849.7 278l7.2 7.2-7.2 7.2-7.2-7.2z"/><path d="M850.1 276.1l7.2 7.2-7.2 7.2-7.2-7.2z"/><path d="M850.6 284l7.2 7.2-7.2 7.2-7.2-7.2z"/><path d="M851.1 274.7l7.2 7.2-7.2 7.2-7.2-7.2z"/><path d="M851.8 284.1l7.2 7.2-7.2 7.2-7.2-7.2z"/><path d="M852.4 276l7.2 7.2-7.2 7.2-7.2-7.2z"/><path d="M852.8 276.1l7.2 7.2-7.2 7.2-7.2-7.2z"/><path d="M853.1 273.2l7.2 7.2-7.2 7.2-7.2-7.2z"/><path d="M853.7 278.4l7.2 7.2-7.2 7.2-7.2-7.2z"/><path d="M854.2 278l7.2 7.2-7.2 7.2-7.2-7.2z"/><path d="M854.5 282.6l7.2 7.2-7.2 7.2-7.2-7.2z"/><path d="M855.1 280.9l7.2 7.2-7.2 7.2-7.2-7.2z"/><path d="M855.7 283.1l7.2 7.2-7.2 7.2-7.2-7.2z"/><path d="M856.4 285.9l7.2 7.2-7.2 7.2-7.2-7.2z"/><path d="M857 279.7l7.2 7.2-7.2 7.2-7.2-7.2z"/><path d="M857.5 280.2l7.2 7.2-7.2 7.2-7.2-7.2z"/><path d="M858.2 280.1l7.2 7.2-7.2 7.2-7.2-7.2z"/><path d="M858.7 280.6l7.2 7.2-7.2 7.2-7.2-7.2z"/><path d="M859 288.7l7.2 7.2-7.2 7.2-7.2-7.2z"/><path d="M859.4 283.6l7.2 7.2-7.2 7.2-7.2-7.2z"/><path d="M860.1 279.1l7.2 7.2-7.2 7.2-7.2-7.2z"/><path d="M860.6 281l7.2 7.2-7.2 7.2-7.2-7.2z"/><path d="M861.1 278.7l7.2 7.2-7.2 7.2-7.2-7.2z"/><path d="M861.4 287.6l7.2 7.2-7.2 7.2-7.2-7.2z"/><path d="M862.1 288.8l7.2 7.2-7.2 7.2-7.2-7.2z"/><path d="M862.4 286l7.2 7.2-7.2 7.2-7.2-7.2z"/><path d="M862.8 285.6l7.2 7.2-7.2 7.2-7.2-7.2z"/><path d="M863.4 281.3l7.2 7.2-7.2 7.2-7.2-7.2z"/><path d="M864.1 277.3l7.2 7.2-7.2 7.2-7.2-7.2z"/><path d="M864.7 289.2l7.2 7.2-7.2 7.2-7.2-7.2z"/><path d="M865.3 285.9l7.2 7.2-7.2 7.2-7.2-7.2z"/><path d="M866 281.3l7.2 7.2-7.2 7.2-7.2-7.2z"/><path d="M866.6 288.5l7.2 7.2-7.2 7.2-7.2-7.2z"/><path d="M867.1 288.3l7.2 7.2-7.2 7.2-7.2-7.2z"/><path d="M867.6 286l7.2 7.2-7.2 7.2-7.2-7.2z"/><path d="M868.1 288.3l7.2 7.2-7.2 7.2-7.2-7.2z"/><path d="M868.6 287.8l7.2 7.2-7.2 7.2-7.2-7.2z"/><path d="M869.1 282.4l7.2 7.2-7.2 7.2-7.2-7.2z"/><path d="M869.7 283.2l7.2 7.2-7.2 7.2-7.2-7.2z"/><path d="M870.4 286.3l7.2 7.2-7.2 7.2-7.2-7.2z"/><path d="M871 287.2l7.2 7.2-7.2 7.2-7.2-7.2z"/><path d="M871.5 283.3l7.2 7.2-7.2 7.2-7.2-7.2z"/><path d="M871.9 293l7.2 7.2-7.2 7.2-7.2-7.2z"/><path d="M872.4 287.7l7.2 7.2-7.2 7.2-7.2-7.2z"/><path d="M873 291.8l7.2 7.2-7.2 7.2-7.2-7.2z"/><path d="M873.4 283.2l7.2 7.2-7.2 7.2-7.2-7.2z"/><path d="M874.1 287.4l7.2 7.2-7.2 7.2-7.2-7.2z"/><path d="M874.6 292.6l7.2 7.2-7.2 7.2-7.2-7.2z"/><path d="M875.3 293.4l7.2 7.2-7.2 7.2-7.2-7.2z"/><path d="M875.7 286.9l7.2 7.2-7.2 7.2-7.2-7.2z"/><path d="M876.3 293.1l7.2 7.2-7.2 7.2-7.2-7.2z"/><path d="M876.7 284.2l7.2 7.2-7.2 7.2-7.2-7.2z"/><path d="M877.1 283.6l7.2 7.2-7.2 7.2-7.2-7.2z"/><path d="M877.6 293.3l7.2 7.2-7.2 7.2-7.2-7.2z"/><path d="M878.1 288.7l7.2 7.2-7.2 7.2-7.2-7.2z"/><path d="M878.4 288.1l7.2 7.2-7.2 7.2-7.2-7.2z"/><path d="M879.2 292.4l7.2 7.2-7.2 7.2-7.2-7.2z"/><path d="M879.7 289.6l7.2 7.2-7.2 7.2-7.2-7.2z"/><path d="M880.4 293.7l7.2 7.2-7.2 7.2-7.2-7.2z"/><path d="M880.7 292.7l7.2 7.2-7.2 7.2-7.2-7.2z"/><path d="M881.2 290.7l7.2 7.2-7.2 7.2-7.2-7.2z"/><path d="M881.6 288.8l7.2 7.2-7.2 7.2-7.2-7.2z"/><path d="M882 289.1l7.2 7.2-7.2 7.2-7.2-7.2z"/><path d="M882.4 286.8l7.2 7.2-7.2 7.2-7.2-7.2z"/><path d="M882.9 285l7.2 7.2-7.2 7.2-7.2-7.2z"/><path d="M883.3 294.2l7.2 7.2-7.2 7.2-7.2-7.2z"/><path d="M883.7 289l7.2 7.2-7.2 7.2-7.2-7.2z"/><path d="M884.1 296l7.2 7.2-7.2 7.2-7.2-7.2z"/><path d="M884.5 293.5l7.2 7.2-7.2 7.2-7.2-7.2z"/><path d="M885.2 287.8l7.2 7.2-7.2 7.2-7.2-7.2z"/><path d="M885.6 296l7.2 7.2-7.2 7.2-7.2-7.2z"/><path d="M886.2 290.5l7.2 7.2-7.2 7.2-7.2-7.2z"/><path d="M886.5 291.6l7.2 7.2-7.2 7.2-7.2-7.2z"/><path d="M887 295.4l7.2 7.2-7.2 7.2-7.2-7.2z"/><path d="M887.4 291.4l7.2 7.2-7.2 7.2-7.2-7.2z"/><path d="M888 297.1l7.2 7.2-7.2 7.2-7.2-7.2z"/><path d="M888.5 291.5l7.2 7.2-7.2 7.2-7.2-7.2z"/><path d="M889.1 299l7.2 7.2-7.2 7.2-7.2-7.2z"/><path d="M889.4 299.8l7.2 7.2-7.2 7.2-7.2-7.2z"/><path d="M890.1 291.8l7.2 7.2-7.2 7.2-7.2-7.2z"/><path d="M890.7 291.5l7.2 7.2-7.2 7.2-7.2-7.2z"/><path d="M891 297.4l7.2 7.2-7.2 7.2-7.2-7.2z"/><path d="M891.5 294.4l7.2 7.2-7.2 7.2-7.2-7.2z"/><path d="M892 299.7l7.2 7.2-7.2 7.2-7.2-7.2z"/><path d="M892.6 288l7.2 7.2-7.2 7.2-7.2-7.2z"/><path d="M893.2 294.2l7.2 7.2-7.2 7.2-7.2-7.2z"/><path d="M893.7 299.5l7.2 7.2-7.2 7.2-7.2-7.2z"/><path d="M894.2 294.7l7.2 7.2-7.2 7.2-7.2-7.2z"/><path d="M894.9 294.5l7.2 7.2-7.2 7.2-7.2-7.2z"/><path d="M895.4 295.6l7.2 7.2-7.2 7.2-7.2-7.2z"/><path d="M896.1 298l7.2 7.2-7.2 7.2-7.2-7.2z"/><path d="M896.7 294.6l7.2 7.2-7.2 7.2-7.2-7.2z"/><path d="M897 298.5l7.2 7.2-7.2 7.2-7.2-7.2z"/><path d="M897.6 299.9l7.2 7.2-7.2 7.2-7.2-7.2z"/><path d="M898.2 291.3l7.2 7.2-7.2 7.2-7.2-7.2z"/><path d="M898.6 290.9l7.2 7.2-7.2 7.2-7.2-7.2z"/><path d="M899.3 291.4l7.2 7.2-7.2 7.2-7.2-7.2z"/><path d="M899.6 300.4l7.2 7.2-7.2 7.2-7.2-7.2z"/><path d="M900.2 291.1l7.2 7.2-7.2 7.2-7.2-7.2z"/><path d="M900.8 300.2l7.2 7.2-7.2 7.2-7.2-7.2z"/><path d="M901.3 291.5l7.2 7.2-7.2 7.2-7.2-7.2z"/><path d="M901.9 296.7l7.2 7.2-7.2 7.2-7.2-7.2z"/><path d="M902.5 304.7l7.2 7.2-7.2 7.2-7.2-7.2z"/><path d="M903.2 303.2l7.2 7.2-7.2 7.2-7.2-7.2z"/><path d="M903.5 296l7.2 7.2-7.2 7.2-7.2-7.2z"/><path d="M904 291.7l7.2 7.2-7.2 7.2-7.2-7.2z"/><path d="M904.8 295.6l7.2 7.2-7.2 7.2-7.2-7.2z"/><path d="M905.2 296.2l7.2 7.2-7.2 7.2-7.2-7.2z"/><path d="M905.6 303.7l7.2 7.2-7.2 7.2-7.2-7.2z"/><path d="M906.2 299.2l7.2 7.2-7.2 7.2-7.2-7.2z"/><path d="M906.7 293.1l7.2 7.2-7.2 7.2-7.2-7.2z"/><path d="M907.1 304.3l7.2 7.2-7.2 7.2-7.2-7.2z"/><path d="M907.8 304.3l7.2 7.2-7.2 7.2-7.2-7.2z"/><path d="M908.2 295.6l7.2 7.2-7.2 7.2-7.2-7.2z"/><path d="M908.5 300.2l7.2 7.2-7.2 7.2-7.2-7.2z"/><path d="M909 299.4l7.2 7.2-7.2 7.2-7.2-7.2z"/><path d="M909.5 301.1l7.2 7.2-7.2 7.2-7.2-7.2z"/><path d="M910 304.2l7.2 7.2-7.2 7.2-7.2-7.2z"/><path d="M910.3 306l7.2 7.2-7.2 7.2-7.2-7.2z"/><path d="M910.9 294.3l7.2 7.2-7.2 7.2-7.2-7.2z"/><path d="M911.3 301l7.2 7.2-7.2 7.2-7.2-7.2z"/><path d="M911.8 301.6l7.2 7.2-7.2 7.2-7.2-7.2z"/><path d="M912.3 297.7l7.2 7.2-7.2 7.2-7.2-7.2z"/><path d="M912.9 298.2l7.2 7.2-7.2 7.2-7.2-7.2z"/><path d="M913.5 305.3l7.2 7.2-7.2 7.2-7.2-7.2z"/><path d="M914.1 300.7l7.2 7.2-7.2 7.2-7.2-7.2z"/><path d="M914.8 300.8l7.2 7.2-7.2 7.2-7.2-7.2z"/><path d="M915.5 295.8l7.2 7.2-7.2 7.2-7.2-7.2z"/><path d="M916 303.8l7.2 7.2-7.2 7.2-7.2-7.2z"/><path d="M916.3 307l7.2 7.2-7.2 7.2-7.2-7.2z"/><path d="M916.7 303.4l7.2 7.2-7.2 7.2-7.2-7.2z"/><path d="M917.1 308l7.2 7.2-7.2 7.2-7.2-7.2z"/><path d="M917.6 306.5l7.2 7.2-7.2 7.2-7.2-7.2z"/><path d="M918.1 304.9l7.2 7.2-7.2 7.2-7.2-7.2z"/><path d="M918.7 299.9l7.2 7.2-7.2 7.2-7.2-7.2z"/><path d="M919.1 307.4l7.2 7.2-7.2 7.2-7.2-7.2z"/><path d="M919.5 308.6l7.2 7.2-7.2 7.2-7.2-7.2z"/><path d="M919.9 297.6l7.2 7.2-7.2 7.2-7.2-7.2z"/><path d="M920.2 307l7.2 7.2-7.2 7.2-7.2-7.2z"/><path d="M921 302.2l7.2 7.2-7.2 7.2-7.2-7.2z"/><path d="M921.6 300.3l7.2 7.2-7.2 7.2-7.2-7.2z"/><path d="M922.3 306.3l7.2 7.2-7.2 7.2-7.2-7.2z"/><path d="M922.6 297.8l7.2 7.2-7.2 7.2-7.2-7.2z"/><path d="M923.3 297.8l7.2 7.2-7.2 7.2-7.2-7.2z"/><path d="M923.9 301.4l7.2 7.2-7.2 7.2-7.2-7.2z"/><path d="M924.3 305.5l7.2 7.2-7.2 7.2-7.2-7.2z"/><path d="M924.8 305.3l7.2 7.2-7.2 7.2-7.2-7.2z"/><path d="M925.1 310.2l7.2 7.2-7.2 7.2-7.2-7.2z"/><path d="M925.6 309.4l7.2 7.2-7.2 7.2-7.2-7.2z"/><path d="M926 308.9l7.2 7.2-7.2 7.2-7.2-7.2z"/><path d="M926.7 303.6l7.2 7.2-7.2 7.2-7.2-7.2z"/><path d="M927 303.5l7.2 7.2-7.2 7.2-7.2-7.2z"/><path d="M927.6 301.6l7.2 7.2-7.2 7.2-7.2-7.2z"/><path d="M928.1 300l7.2 7.2-7.2 7.2-7.2-7.2z"/><path d="M928.7 308.7l7.2 7.2-7.2 7.2-7.2-7.2z"/><path d="M929.2 308.2l7.2 7.2-7.2 7.2-7.2-7.2z"/><path d="M929.5 310.4l7.2 7.2-7.2 7.2-7.2-7.2z"/><path d="M929.9 311.8l7.2 7.2-7.2 7.2-7.2-7.2z"/><path d="M930.6 312.2l7.2 7.2-7.2 7.2-7.2-7.2z"/><path d="M931.1 303.5l7.2 7.2-7.2 7.2-7.2-7.2z"/><path d="M931.6 309.9l7.2 7.2-7.2 7.2-7.2-7.2z"/><path d="M932.1 312.5l7.2 7.2-7.2 7.2-7.2-7.2z"/><path d="M932.5 306.6l7.2 7.2-7.2 7.2-7.2-7.2z"/><path d="M933.2 308.3l7.2 7.2-7.2 7.2-7.2-7.2z"/><path d="M933.7 301.5l7.2 7.2-7.2 7.2-7.2-7.2z"/><path d="M934.1 304.1l7.2 7.2-7.2 7.2-7.2-7.2z"/><path d="M934.8 312.1l7.2 7.2-7.2 7.2-7.2-7.2z"/><path d="M935.2 313.3l7.2 7.2-7.2 7.2-7.2-7.2z"/><path d="M935.5 309l7.2 7.2-7.2 7.2-7.2-7.2z"/><path d="M936.2 305.8l7.2 7.2-7.2 7.2-7.2-7.2z"/><path d="M936.9 310.3l7.2 7.2-7.2 7.2-7.2-7.2z"/><path d="M937.3 306l7.2 7.2-7.2 7.2-7.2-7.2z"/><path d="M937.8 305l7.2 7.2-7.2 7.2-7.2-7.2z"/><path d="M938.4 304.3l7.2 7.2-7.2 7.2-7.2-7.2z"/><path d="M939.1 306.1l7.2 7.2-7.2 7.2-7.2-7.2z"/><path d="M939.4 309.8l7.2 7.2-7.2 7.2-7.2-7.2z"/><path d="M939.7 309.8l7.2 7.2-7.2 7.2-7.2-7.2z"/><path d="M940.4 310.7l7.2 7.2-7.2 7.2-7.2-7.2z"/><path d="M940.9 303.2l7.2 7.2-7.2 7.2-7.2-7.2z"/><path d="M941.4 304.3l7.2 7.2-7.2 7.2-7.2-7.2z"/><path d="M942 304.9l7.2 7.2-7.2 7.2-7.2-7.2z"/><path d="M942.6 308.1l7.2 7.2-7.2 7.2-7.2-7.2z"/><path d="M943 312.5l7.2 7.2-7.2 7.2-7.2-7.2z"/><path d="M943.4 306l7.2 7.2-7.2 7.2-7.2-7.2z"/><path d="M944.1 308.4l7.2 7.2-7.2 7.2-7.2-7.2z"/><path d="M944.8 316l7.2 7.2-7.2 7.2-7.2-7.2z"/><path d="M945.3 306.4l7.2 7.2-7.2 7.2-7.2-7.2z"/><path d="M945.7 316.4l7.2 7.2-7.2 7.2-7.2-7.2z"/><path d="M946 311.3l7.2 7.2-7.2 7.2-7.2-7.2z"/><path d="M946.6 306.4l7.2 7.2-7.2 7.2-7.2-7.2z"/><path d="M947.1 307.2l7.2 7.2-7.2 7.2-7.2-7.2z"/><path d="M947.6 312l7.2 7.2-7.2 7.2-7.2-7.2z"/><path d="M80.7 66.8l7.2 7.2-7.2 7.2-7.2-7.2z"/><path d="M83 68.8l7.2 7.2-7.2 7.2-7.2-7.2z"/><path d="M85 70.8l7.2 7.2-7.2 7.2-7.2-7.2z"/><path d="M87 72.8l7.2 7.2-7.2 7.2-7.2-7.2z"/><path d="M89 77.8l7.2 7.2-7.2 7.2-7.2-7.2z"/><path d="M92 81.8l7.2 7.2-7.2 7.2-7.2-7.2z"/><path d="M95 87.8l7.2 7.2-7.2 7.2-7.2-7.2z"/><path d="M106 89.8l7.2 7.2-7.2 7.2-7.2-7.2z"/><path d="M108 91.3l7.2 7.2-7.2 7.2-7.2-7.2z"/><path d="M124 70.8l7.2 7.2-7.2 7.2-7.2-7.2z"/><path d="M126 72.8l7.2 7.2-7.2 7.2-7.2-7.2z"/><path d="M128 74.8l7.2 7.2-7.2 7.2-7.2-7.2z"/><path d="M130 76.8l7.2 7.2-7.2 7.2-7.2-7.2z"/><path d="M133 79.8l7.2 7.2-7.2 7.2-7.2-7.2z"/><path d="M136 82.8l7.2 7.2-7.2 7.2-7.2-7.2z"/><path d="M139 86.8l7.2 7.2-7.2 7.2-7.2-7.2z"/><path d="M152 75.8l7.2 7.2-7.2 7.2-7.2-7.2z"/><path d="M156 79.8l7.2 7.2-7.2 7.2-7.2-7.2z"/><path d="M160 82.8l7.2 7.2-7.2 7.2-7.2-7.2z"/><path d="M165 76.8l7.2 7.2-7.2 7.2-7.2-7.2z"/><path d="M168 78.8l7.2 7.2-7.2 7.2-7.2-7.2z"/><path d="M172 81.8l7.2 7.2-7.2 7.2-7.2-7.2z"/><path d="M175 84.8l7.2 7.2-7.2 7.2-7.2-7.2z"/><path d="M178 87.8l7.2 7.2-7.2 7.2-7.2-7.2z"/><path d="M184 85.8l7.2 7.2-7.2 7.2-7.2-7.2z"/><path d="M207 85.3l7.2 7.2-7.2 7.2-7.2-7.2z"/><path d="M588.3 134.6l7.2 7.2-7.2 7.2-7.2-7.2z"/><path d="M655.8 143.2l7.2 7.2-7.2 7.2-7.2-7.2z"/><path d="M655.3 170.6l7.2 7.2-7.2 7.2-7.2-7.2z"/><path d="M655.3 187.2l7.2 7.2-7.2 7.2-7.2-7.2z"/><path d="M821.4 224.8l7.2 7.2-7.2 7.2-7.2-7.2z"/><path d="M437.5 146.8l7.2 7.2-7.2 7.2-7.2-7.2z"/></g><g fill="#1f4a86" stroke="#0c1a33" stroke-width="1"><path d="M190 92.8l7.2 7.2-7.2 7.2-7.2-7.2z"/><path d="M192.4 94.7l7.2 7.2-7.2 7.2-7.2-7.2z"/><path d="M193.7 89.4l7.2 7.2-7.2 7.2-7.2-7.2z"/><path d="M194.7 92.3l7.2 7.2-7.2 7.2-7.2-7.2z"/><path d="M197.7 98l7.2 7.2-7.2 7.2-7.2-7.2z"/><path d="M201.4 99.2l7.2 7.2-7.2 7.2-7.2-7.2z"/><path d="M204.4 92.7l7.2 7.2-7.2 7.2-7.2-7.2z"/><path d="M208 96.3l7.2 7.2-7.2 7.2-7.2-7.2z"/><path d="M210.5 94.1l7.2 7.2-7.2 7.2-7.2-7.2z"/><path d="M214 93.6l7.2 7.2-7.2 7.2-7.2-7.2z"/><path d="M216 94.2l7.2 7.2-7.2 7.2-7.2-7.2z"/><path d="M218.8 94.8l7.2 7.2-7.2 7.2-7.2-7.2z"/><path d="M222.6 92.7l7.2 7.2-7.2 7.2-7.2-7.2z"/><path d="M224.8 94.4l7.2 7.2-7.2 7.2-7.2-7.2z"/><path d="M228 93.5l7.2 7.2-7.2 7.2-7.2-7.2z"/><path d="M231.5 92.8l7.2 7.2-7.2 7.2-7.2-7.2z"/><path d="M234 93.6l7.2 7.2-7.2 7.2-7.2-7.2z"/><path d="M237.2 93.5l7.2 7.2-7.2 7.2-7.2-7.2z"/><path d="M240.4 92.8l7.2 7.2-7.2 7.2-7.2-7.2z"/><path d="M243 88l7.2 7.2-7.2 7.2-7.2-7.2z"/><path d="M243.8 93.9l7.2 7.2-7.2 7.2-7.2-7.2z"/><path d="M247.5 95.4l7.2 7.2-7.2 7.2-7.2-7.2z"/><path d="M250.4 93.3l7.2 7.2-7.2 7.2-7.2-7.2z"/><path d="M252.5 90.5l7.2 7.2-7.2 7.2-7.2-7.2z"/><path d="M254.3 93.2l7.2 7.2-7.2 7.2-7.2-7.2z"/><path d="M257.1 94.1l7.2 7.2-7.2 7.2-7.2-7.2z"/><path d="M259.1 88.9l7.2 7.2-7.2 7.2-7.2-7.2z"/><path d="M259.6 93.8l7.2 7.2-7.2 7.2-7.2-7.2z"/><path d="M263 93.9l7.2 7.2-7.2 7.2-7.2-7.2z"/><path d="M265.7 94.7l7.2 7.2-7.2 7.2-7.2-7.2z"/><path d="M268 93.9l7.2 7.2-7.2 7.2-7.2-7.2z"/><path d="M270.7 95.3l7.2 7.2-7.2 7.2-7.2-7.2z"/><path d="M274.6 98.7l7.2 7.2-7.2 7.2-7.2-7.2z"/><path d="M277.6 93.5l7.2 7.2-7.2 7.2-7.2-7.2z"/><path d="M280.6 94.6l7.2 7.2-7.2 7.2-7.2-7.2z"/><path d="M284.1 100l7.2 7.2-7.2 7.2-7.2-7.2z"/><path d="M287.3 94.9l7.2 7.2-7.2 7.2-7.2-7.2z"/><path d="M291 97.6l7.2 7.2-7.2 7.2-7.2-7.2z"/><path d="M294.6 97.7l7.2 7.2-7.2 7.2-7.2-7.2z"/><path d="M297.3 96.4l7.2 7.2-7.2 7.2-7.2-7.2z"/><path d="M299.6 98.2l7.2 7.2-7.2 7.2-7.2-7.2z"/><path d="M301.8 89.4l7.2 7.2-7.2 7.2-7.2-7.2z"/><path d="M303.1 95l7.2 7.2-7.2 7.2-7.2-7.2z"/><path d="M305.4 97.5l7.2 7.2-7.2 7.2-7.2-7.2z"/><path d="M309.2 100.7l7.2 7.2-7.2 7.2-7.2-7.2z"/><path d="M312 94.3l7.2 7.2-7.2 7.2-7.2-7.2z"/><path d="M312.7 97.4l7.2 7.2-7.2 7.2-7.2-7.2z"/><path d="M315.9 99.6l7.2 7.2-7.2 7.2-7.2-7.2z"/><path d="M318.7 97.5l7.2 7.2-7.2 7.2-7.2-7.2z"/><path d="M319.3 93l7.2 7.2-7.2 7.2-7.2-7.2z"/><path d="M322.5 100.1l7.2 7.2-7.2 7.2-7.2-7.2z"/><path d="M325.1 99.1l7.2 7.2-7.2 7.2-7.2-7.2z"/><path d="M329 96.7l7.2 7.2-7.2 7.2-7.2-7.2z"/><path d="M331.2 101.2l7.2 7.2-7.2 7.2-7.2-7.2z"/><path d="M333.7 97.2l7.2 7.2-7.2 7.2-7.2-7.2z"/><path d="M334.5 97l7.2 7.2-7.2 7.2-7.2-7.2z"/><path d="M337.4 96.6l7.2 7.2-7.2 7.2-7.2-7.2z"/><path d="M340.3 98.6l7.2 7.2-7.2 7.2-7.2-7.2z"/><path d="M341 99.4l7.2 7.2-7.2 7.2-7.2-7.2z"/><path d="M342.8 103.3l7.2 7.2-7.2 7.2-7.2-7.2z"/><path d="M345 101l7.2 7.2-7.2 7.2-7.2-7.2z"/><path d="M346.2 97.3l7.2 7.2-7.2 7.2-7.2-7.2z"/><path d="M349.6 101.4l7.2 7.2-7.2 7.2-7.2-7.2z"/><path d="M353.2 100.8l7.2 7.2-7.2 7.2-7.2-7.2z"/><path d="M356 99.1l7.2 7.2-7.2 7.2-7.2-7.2z"/><path d="M356.5 103l7.2 7.2-7.2 7.2-7.2-7.2z"/><path d="M359.3 100l7.2 7.2-7.2 7.2-7.2-7.2z"/><path d="M361.5 101.4l7.2 7.2-7.2 7.2-7.2-7.2z"/><path d="M364.2 103l7.2 7.2-7.2 7.2-7.2-7.2z"/><path d="M367.4 101.3l7.2 7.2-7.2 7.2-7.2-7.2z"/><path d="M369.4 103.2l7.2 7.2-7.2 7.2-7.2-7.2z"/><path d="M370 96l7.2 7.2-7.2 7.2-7.2-7.2z"/><path d="M372.4 100.3l7.2 7.2-7.2 7.2-7.2-7.2z"/><path d="M376 99.3l7.2 7.2-7.2 7.2-7.2-7.2z"/><path d="M377.5 96.3l7.2 7.2-7.2 7.2-7.2-7.2z"/><path d="M378.8 101.9l7.2 7.2-7.2 7.2-7.2-7.2z"/><path d="M381.5 101.5l7.2 7.2-7.2 7.2-7.2-7.2z"/><path d="M383.9 103.2l7.2 7.2-7.2 7.2-7.2-7.2z"/><path d="M387 95.5l7.2 7.2-7.2 7.2-7.2-7.2z"/><path d="M387.2 104.5l7.2 7.2-7.2 7.2-7.2-7.2z"/><path d="M389.8 102.1l7.2 7.2-7.2 7.2-7.2-7.2z"/><path d="M393.2 101.6l7.2 7.2-7.2 7.2-7.2-7.2z"/><path d="M396 103.4l7.2 7.2-7.2 7.2-7.2-7.2z"/><path d="M396.8 100.3l7.2 7.2-7.2 7.2-7.2-7.2z"/><path d="M398.3 105.3l7.2 7.2-7.2 7.2-7.2-7.2z"/><path d="M401.6 106.3l7.2 7.2-7.2 7.2-7.2-7.2z"/><path d="M404 102.4l7.2 7.2-7.2 7.2-7.2-7.2z"/><path d="M406.6 103.8l7.2 7.2-7.2 7.2-7.2-7.2z"/><path d="M407.3 98.9l7.2 7.2-7.2 7.2-7.2-7.2z"/><path d="M409 101.9l7.2 7.2-7.2 7.2-7.2-7.2z"/><path d="M412.8 106.2l7.2 7.2-7.2 7.2-7.2-7.2z"/><path d="M415.6 105.5l7.2 7.2-7.2 7.2-7.2-7.2z"/><path d="M417 100.7l7.2 7.2-7.2 7.2-7.2-7.2z"/><path d="M418.6 105l7.2 7.2-7.2 7.2-7.2-7.2z"/><path d="M422.6 102.7l7.2 7.2-7.2 7.2-7.2-7.2z"/><path d="M424.9 102.7l7.2 7.2-7.2 7.2-7.2-7.2z"/><path d="M426.6 102.9l7.2 7.2-7.2 7.2-7.2-7.2z"/><path d="M428 103.5l7.2 7.2-7.2 7.2-7.2-7.2z"/><path d="M430 105.3l7.2 7.2-7.2 7.2-7.2-7.2z"/><path d="M432.9 108.6l7.2 7.2-7.2 7.2-7.2-7.2z"/><path d="M436.3 103.2l7.2 7.2-7.2 7.2-7.2-7.2z"/><path d="M436.5 102.3l7.2 7.2-7.2 7.2-7.2-7.2z"/><path d="M438.7 105.1l7.2 7.2-7.2 7.2-7.2-7.2z"/><path d="M441.8 104.8l7.2 7.2-7.2 7.2-7.2-7.2z"/><path d="M444.6 105.3l7.2 7.2-7.2 7.2-7.2-7.2z"/><path d="M448.4 106.2l7.2 7.2-7.2 7.2-7.2-7.2z"/><path d="M450.6 105.6l7.2 7.2-7.2 7.2-7.2-7.2z"/><path d="M453.8 110l7.2 7.2-7.2 7.2-7.2-7.2z"/><path d="M456.3 103.2l7.2 7.2-7.2 7.2-7.2-7.2z"/><path d="M456.6 105.7l7.2 7.2-7.2 7.2-7.2-7.2z"/><path d="M459.9 105.2l7.2 7.2-7.2 7.2-7.2-7.2z"/><path d="M462.9 105.5l7.2 7.2-7.2 7.2-7.2-7.2z"/><path d="M466.3 106.4l7.2 7.2-7.2 7.2-7.2-7.2z"/><path d="M466.6 101l7.2 7.2-7.2 7.2-7.2-7.2z"/><path d="M469 105.5l7.2 7.2-7.2 7.2-7.2-7.2z"/><path d="M473 109.1l7.2 7.2-7.2 7.2-7.2-7.2z"/><path d="M476.3 105.8l7.2 7.2-7.2 7.2-7.2-7.2z"/><path d="M479.4 108.7l7.2 7.2-7.2 7.2-7.2-7.2z"/><path d="M482.3 99.3l7.2 7.2-7.2 7.2-7.2-7.2z"/><path d="M483.2 105.7l7.2 7.2-7.2 7.2-7.2-7.2z"/><path d="M486.7 104.3l7.2 7.2-7.2 7.2-7.2-7.2z"/><path d="M489.3 105.2l7.2 7.2-7.2 7.2-7.2-7.2z"/><path d="M489.6 102.6l7.2 7.2-7.2 7.2-7.2-7.2z"/><path d="M491.6 110.5l7.2 7.2-7.2 7.2-7.2-7.2z"/><path d="M493.9 106.4l7.2 7.2-7.2 7.2-7.2-7.2z"/><path d="M497.1 105.5l7.2 7.2-7.2 7.2-7.2-7.2z"/><path d="M499.3 108l7.2 7.2-7.2 7.2-7.2-7.2z"/><path d="M499.8 105.2l7.2 7.2-7.2 7.2-7.2-7.2z"/><path d="M503.3 106.5l7.2 7.2-7.2 7.2-7.2-7.2z"/><path d="M506.9 107.1l7.2 7.2-7.2 7.2-7.2-7.2z"/><path d="M509.5 108.4l7.2 7.2-7.2 7.2-7.2-7.2z"/><path d="M513.4 106.5l7.2 7.2-7.2 7.2-7.2-7.2z"/><path d="M515.6 102.6l7.2 7.2-7.2 7.2-7.2-7.2z"/><path d="M516.7 107.3l7.2 7.2-7.2 7.2-7.2-7.2z"/><path d="M519.5 110.2l7.2 7.2-7.2 7.2-7.2-7.2z"/><path d="M523.4 107.4l7.2 7.2-7.2 7.2-7.2-7.2z"/><path d="M525.4 102.1l7.2 7.2-7.2 7.2-7.2-7.2z"/><path d="M525.9 110.8l7.2 7.2-7.2 7.2-7.2-7.2z"/><path d="M528.3 111.5l7.2 7.2-7.2 7.2-7.2-7.2z"/><path d="M531.9 109.3l7.2 7.2-7.2 7.2-7.2-7.2z"/><path d="M532.1 102.1l7.2 7.2-7.2 7.2-7.2-7.2z"/><path d="M534.6 109.2l7.2 7.2-7.2 7.2-7.2-7.2z"/><path d="M538.3 109.9l7.2 7.2-7.2 7.2-7.2-7.2z"/><path d="M540.6 107.4l7.2 7.2-7.2 7.2-7.2-7.2z"/><path d="M543.3 109.2l7.2 7.2-7.2 7.2-7.2-7.2z"/><path d="M545.4 108.4l7.2 7.2-7.2 7.2-7.2-7.2z"/><path d="M549.3 110.6l7.2 7.2-7.2 7.2-7.2-7.2z"/><path d="M553.2 109l7.2 7.2-7.2 7.2-7.2-7.2z"/><path d="M557.1 110.6l7.2 7.2-7.2 7.2-7.2-7.2z"/><path d="M558.7 107.9l7.2 7.2-7.2 7.2-7.2-7.2z"/><path d="M559.5 109.8l7.2 7.2-7.2 7.2-7.2-7.2z"/><path d="M561.7 111.4l7.2 7.2-7.2 7.2-7.2-7.2z"/><path d="M561.8 107.3l7.2 7.2-7.2 7.2-7.2-7.2z"/><path d="M564.2 111l7.2 7.2-7.2 7.2-7.2-7.2z"/><path d="M567.8 108.2l7.2 7.2-7.2 7.2-7.2-7.2z"/><path d="M568.2 110.7l7.2 7.2-7.2 7.2-7.2-7.2z"/><path d="M570.7 110.9l7.2 7.2-7.2 7.2-7.2-7.2z"/><path d="M573.6 115.5l7.2 7.2-7.2 7.2-7.2-7.2z"/><path d="M575 111.5l7.2 7.2-7.2 7.2-7.2-7.2z"/><path d="M577.3 112.8l7.2 7.2-7.2 7.2-7.2-7.2z"/><path d="M579.9 113.5l7.2 7.2-7.2 7.2-7.2-7.2z"/><path d="M582.2 109.9l7.2 7.2-7.2 7.2-7.2-7.2z"/><path d="M585.3 113.3l7.2 7.2-7.2 7.2-7.2-7.2z"/><path d="M588.7 110.2l7.2 7.2-7.2 7.2-7.2-7.2z"/><path d="M591.4 112.7l7.2 7.2-7.2 7.2-7.2-7.2z"/><path d="M591.4 108.2l7.2 7.2-7.2 7.2-7.2-7.2z"/><path d="M595.2 112.9l7.2 7.2-7.2 7.2-7.2-7.2z"/><path d="M598.5 111.2l7.2 7.2-7.2 7.2-7.2-7.2z"/><path d="M601 106l7.2 7.2-7.2 7.2-7.2-7.2z"/><path d="M601 110.9l7.2 7.2-7.2 7.2-7.2-7.2z"/><path d="M604.7 111.8l7.2 7.2-7.2 7.2-7.2-7.2z"/><path d="M607.8 115.3l7.2 7.2-7.2 7.2-7.2-7.2z"/><path d="M610.3 116.7l7.2 7.2-7.2 7.2-7.2-7.2z"/><path d="M612.8 114.5l7.2 7.2-7.2 7.2-7.2-7.2z"/><path d="M616.3 112.7l7.2 7.2-7.2 7.2-7.2-7.2z"/><path d="M619.7 115.8l7.2 7.2-7.2 7.2-7.2-7.2z"/><path d="M621.9 114.1l7.2 7.2-7.2 7.2-7.2-7.2z"/><path d="M624.5 116.1l7.2 7.2-7.2 7.2-7.2-7.2z"/><path d="M627.1 110.6l7.2 7.2-7.2 7.2-7.2-7.2z"/><path d="M627.8 117.5l7.2 7.2-7.2 7.2-7.2-7.2z"/><path d="M631.2 111.9l7.2 7.2-7.2 7.2-7.2-7.2z"/><path d="M634.4 112.4l7.2 7.2-7.2 7.2-7.2-7.2z"/><path d="M635 114.5l7.2 7.2-7.2 7.2-7.2-7.2z"/><path d="M638.5 113.2l7.2 7.2-7.2 7.2-7.2-7.2z"/><path d="M642.1 114.2l7.2 7.2-7.2 7.2-7.2-7.2z"/><path d="M644.8 114.1l7.2 7.2-7.2 7.2-7.2-7.2z"/><path d="M646 116l7.2 7.2-7.2 7.2-7.2-7.2z"/><path d="M647.9 117.3l7.2 7.2-7.2 7.2-7.2-7.2z"/><path d="M650.9 115l7.2 7.2-7.2 7.2-7.2-7.2z"/><path d="M653.2 117.5l7.2 7.2-7.2 7.2-7.2-7.2z"/><path d="M655.9 114.8l7.2 7.2-7.2 7.2-7.2-7.2z"/><path d="M658.9 113.2l7.2 7.2-7.2 7.2-7.2-7.2z"/><path d="M662.6 114l7.2 7.2-7.2 7.2-7.2-7.2z"/><path d="M665.4 115.5l7.2 7.2-7.2 7.2-7.2-7.2z"/><path d="M666.9 103l7.2 7.2-7.2 7.2-7.2-7.2z"/><path d="M668.6 113l7.2 7.2-7.2 7.2-7.2-7.2z"/><path d="M672.1 118l7.2 7.2-7.2 7.2-7.2-7.2z"/><path d="M675.8 114.9l7.2 7.2-7.2 7.2-7.2-7.2z"/><path d="M676.3 109.4l7.2 7.2-7.2 7.2-7.2-7.2z"/><path d="M679.3 116l7.2 7.2-7.2 7.2-7.2-7.2z"/><path d="M680 109.4l7.2 7.2-7.2 7.2-7.2-7.2z"/><path d="M682.3 117.6l7.2 7.2-7.2 7.2-7.2-7.2z"/><path d="M685.8 116.3l7.2 7.2-7.2 7.2-7.2-7.2z"/><path d="M689.4 116.2l7.2 7.2-7.2 7.2-7.2-7.2z"/><path d="M691.7 117.6l7.2 7.2-7.2 7.2-7.2-7.2z"/><path d="M695.1 113.9l7.2 7.2-7.2 7.2-7.2-7.2z"/><path d="M697.7 116.7l7.2 7.2-7.2 7.2-7.2-7.2z"/><path d="M699.8 117.3l7.2 7.2-7.2 7.2-7.2-7.2z"/><path d="M702.3 116.4l7.2 7.2-7.2 7.2-7.2-7.2z"/><path d="M704.8 113.4l7.2 7.2-7.2 7.2-7.2-7.2z"/><path d="M706 109.4l7.2 7.2-7.2 7.2-7.2-7.2z"/><path d="M708.1 114.8l7.2 7.2-7.2 7.2-7.2-7.2z"/><path d="M712.1 114.7l7.2 7.2-7.2 7.2-7.2-7.2z"/><path d="M715.5 116.8l7.2 7.2-7.2 7.2-7.2-7.2z"/><path d="M717.6 115.7l7.2 7.2-7.2 7.2-7.2-7.2z"/><path d="M719.6 116.7l7.2 7.2-7.2 7.2-7.2-7.2z"/><path d="M722.3 113.6l7.2 7.2-7.2 7.2-7.2-7.2z"/><path d="M722.9 116.3l7.2 7.2-7.2 7.2-7.2-7.2z"/><path d="M725 116.7l7.2 7.2-7.2 7.2-7.2-7.2z"/><path d="M727.9 120.2l7.2 7.2-7.2 7.2-7.2-7.2z"/><path d="M730 117.1l7.2 7.2-7.2 7.2-7.2-7.2z"/><path d="M733.6 117.2l7.2 7.2-7.2 7.2-7.2-7.2z"/><path d="M736.9 117.2l7.2 7.2-7.2 7.2-7.2-7.2z"/><path d="M739.6 118l7.2 7.2-7.2 7.2-7.2-7.2z"/><path d="M742 119.7l7.2 7.2-7.2 7.2-7.2-7.2z"/><path d="M745.6 118.1l7.2 7.2-7.2 7.2-7.2-7.2z"/><path d="M746 114.2l7.2 7.2-7.2 7.2-7.2-7.2z"/><path d="M749.2 122.4l7.2 7.2-7.2 7.2-7.2-7.2z"/><path d="M752.3 122.3l7.2 7.2-7.2 7.2-7.2-7.2z"/><path d="M754.3 118.3l7.2 7.2-7.2 7.2-7.2-7.2z"/><path d="M757.3 118.5l7.2 7.2-7.2 7.2-7.2-7.2z"/><path d="M760.6 118.3l7.2 7.2-7.2 7.2-7.2-7.2z"/><path d="M764.1 120.6l7.2 7.2-7.2 7.2-7.2-7.2z"/><path d="M767.1 119.6l7.2 7.2-7.2 7.2-7.2-7.2z"/><path d="M770.3 119.1l7.2 7.2-7.2 7.2-7.2-7.2z"/><path d="M774.2 124.3l7.2 7.2-7.2 7.2-7.2-7.2z"/><path d="M777.9 121l7.2 7.2-7.2 7.2-7.2-7.2z"/><path d="M781.8 119.2l7.2 7.2-7.2 7.2-7.2-7.2z"/><path d="M784 120.2l7.2 7.2-7.2 7.2-7.2-7.2z"/><path d="M786.9 119l7.2 7.2-7.2 7.2-7.2-7.2z"/><path d="M790.2 119.7l7.2 7.2-7.2 7.2-7.2-7.2z"/><path d="M792.9 122.2l7.2 7.2-7.2 7.2-7.2-7.2z"/><path d="M795.3 121.1l7.2 7.2-7.2 7.2-7.2-7.2z"/><path d="M797.7 120.5l7.2 7.2-7.2 7.2-7.2-7.2z"/><path d="M801.2 122.5l7.2 7.2-7.2 7.2-7.2-7.2z"/><path d="M803.6 119.7l7.2 7.2-7.2 7.2-7.2-7.2z"/><path d="M807 120.3l7.2 7.2-7.2 7.2-7.2-7.2z"/><path d="M810.1 121.8l7.2 7.2-7.2 7.2-7.2-7.2z"/><path d="M813.5 124.6l7.2 7.2-7.2 7.2-7.2-7.2z"/><path d="M817.4 120.7l7.2 7.2-7.2 7.2-7.2-7.2z"/><path d="M821.2 120.8l7.2 7.2-7.2 7.2-7.2-7.2z"/><path d="M823.4 124.8l7.2 7.2-7.2 7.2-7.2-7.2z"/><path d="M825.8 126.1l7.2 7.2-7.2 7.2-7.2-7.2z"/><path d="M829.2 120.8l7.2 7.2-7.2 7.2-7.2-7.2z"/><path d="M832.5 120.6l7.2 7.2-7.2 7.2-7.2-7.2z"/><path d="M834.8 123.3l7.2 7.2-7.2 7.2-7.2-7.2z"/><path d="M838.1 123.1l7.2 7.2-7.2 7.2-7.2-7.2z"/><path d="M840.2 120.8l7.2 7.2-7.2 7.2-7.2-7.2z"/><path d="M842.5 124.7l7.2 7.2-7.2 7.2-7.2-7.2z"/><path d="M846.1 125.9l7.2 7.2-7.2 7.2-7.2-7.2z"/><path d="M849 122.1l7.2 7.2-7.2 7.2-7.2-7.2z"/><path d="M851.3 121.9l7.2 7.2-7.2 7.2-7.2-7.2z"/><path d="M854.9 130.2l7.2 7.2-7.2 7.2-7.2-7.2z"/><path d="M858.7 123l7.2 7.2-7.2 7.2-7.2-7.2z"/><path d="M862.3 127l7.2 7.2-7.2 7.2-7.2-7.2z"/><path d="M864.6 122.4l7.2 7.2-7.2 7.2-7.2-7.2z"/><path d="M866.8 124.9l7.2 7.2-7.2 7.2-7.2-7.2z"/><path d="M869.2 123.1l7.2 7.2-7.2 7.2-7.2-7.2z"/><path d="M871.7 128.3l7.2 7.2-7.2 7.2-7.2-7.2z"/><path d="M875.1 122.8l7.2 7.2-7.2 7.2-7.2-7.2z"/><path d="M879 125.2l7.2 7.2-7.2 7.2-7.2-7.2z"/><path d="M882.5 122.6l7.2 7.2-7.2 7.2-7.2-7.2z"/><path d="M885.2 124.5l7.2 7.2-7.2 7.2-7.2-7.2z"/><path d="M887.5 127.7l7.2 7.2-7.2 7.2-7.2-7.2z"/><path d="M889.5 123.3l7.2 7.2-7.2 7.2-7.2-7.2z"/><path d="M892.3 126.4l7.2 7.2-7.2 7.2-7.2-7.2z"/><path d="M894.3 125.1l7.2 7.2-7.2 7.2-7.2-7.2z"/><path d="M897.2 120.4l7.2 7.2-7.2 7.2-7.2-7.2z"/><path d="M897.2 127.3l7.2 7.2-7.2 7.2-7.2-7.2z"/><path d="M899.3 125.6l7.2 7.2-7.2 7.2-7.2-7.2z"/><path d="M900.8 121.5l7.2 7.2-7.2 7.2-7.2-7.2z"/><path d="M901.5 125.4l7.2 7.2-7.2 7.2-7.2-7.2z"/><path d="M904.1 127.9l7.2 7.2-7.2 7.2-7.2-7.2z"/><path d="M907.1 128.4l7.2 7.2-7.2 7.2-7.2-7.2z"/><path d="M908 124l7.2 7.2-7.2 7.2-7.2-7.2z"/><path d="M910.4 125.1l7.2 7.2-7.2 7.2-7.2-7.2z"/><path d="M914.2 127.3l7.2 7.2-7.2 7.2-7.2-7.2z"/><path d="M916.9 128.8l7.2 7.2-7.2 7.2-7.2-7.2z"/><path d="M919.2 128.4l7.2 7.2-7.2 7.2-7.2-7.2z"/><path d="M921.6 130.2l7.2 7.2-7.2 7.2-7.2-7.2z"/><path d="M924.9 128l7.2 7.2-7.2 7.2-7.2-7.2z"/><path d="M928.3 128.6l7.2 7.2-7.2 7.2-7.2-7.2z"/><path d="M931.7 128.5l7.2 7.2-7.2 7.2-7.2-7.2z"/><path d="M933.8 131.4l7.2 7.2-7.2 7.2-7.2-7.2z"/><path d="M937.2 129.6l7.2 7.2-7.2 7.2-7.2-7.2z"/><path d="M940.6 129.8l7.2 7.2-7.2 7.2-7.2-7.2z"/><path d="M942.5 129.3l7.2 7.2-7.2 7.2-7.2-7.2z"/><path d="M944 134.5l7.2 7.2-7.2 7.2-7.2-7.2z"/><path d="M945.8 128.8l7.2 7.2-7.2 7.2-7.2-7.2z"/><path d="M821.4 101.3l7.2 7.2-7.2 7.2-7.2-7.2z"/><path d="M824.2 113.8l7.2 7.2-7.2 7.2-7.2-7.2z"/></g><g fill="#fde59a" stroke="#eeb07c" stroke-width="0.9"><path d="M70.8 94.1h14.4v14.4h-14.4z"/><path d="M72.9 99.3h14.4v14.4h-14.4z"/><path d="M74 95.5h14.4v14.4h-14.4z"/><path d="M76.2 95.6h14.4v14.4h-14.4z"/><path d="M77.6 101.6h14.4v14.4h-14.4z"/><path d="M79.6 100.1h14.4v14.4h-14.4z"/><path d="M81.5 94.2h14.4v14.4h-14.4z"/><path d="M82.6 103.6h14.4v14.4h-14.4z"/><path d="M84.6 94.6h14.4v14.4h-14.4z"/><path d="M85.6 96.7h14.4v14.4h-14.4z"/><path d="M87.8 96.7h14.4v14.4h-14.4z"/><path d="M89.6 103.4h14.4v14.4h-14.4z"/><path d="M91.3 103.3h14.4v14.4h-14.4z"/><path d="M92.6 95.3h14.4v14.4h-14.4z"/><path d="M93.7 101.4h14.4v14.4h-14.4z"/><path d="M94.8 103.8h14.4v14.4h-14.4z"/><path d="M96.6 93.3h14.4v14.4h-14.4z"/><path d="M98.6 91.8h14.4v14.4h-14.4z"/><path d="M100.2 90h14.4v14.4h-14.4z"/><path d="M102.2 102.3h14.4v14.4h-14.4z"/><path d="M104.3 85.4h14.4v14.4h-14.4z"/><path d="M106.3 95.8h14.4v14.4h-14.4z"/><path d="M108.3 94.8h14.4v14.4h-14.4z"/><path d="M110 96.7h14.4v14.4h-14.4z"/><path d="M112 87h14.4v14.4h-14.4z"/><path d="M113 95.8h14.4v14.4h-14.4z"/><path d="M114.4 93.1h14.4v14.4h-14.4z"/><path d="M115.4 99.7h14.4v14.4h-14.4z"/><path d="M116.4 101.3h14.4v14.4h-14.4z"/><path d="M118.4 94.5h14.4v14.4h-14.4z"/><path d="M119.5 98.1h14.4v14.4h-14.4z"/><path d="M120.8 94h14.4v14.4h-14.4z"/><path d="M121.9 104.1h14.4v14.4h-14.4z"/><path d="M123.6 92.8h14.4v14.4h-14.4z"/><path d="M124.7 99.7h14.4v14.4h-14.4z"/><path d="M126.7 101.9h14.4v14.4h-14.4z"/><path d="M127.8 93.3h14.4v14.4h-14.4z"/><path d="M129.2 100.4h14.4v14.4h-14.4z"/><path d="M130.4 97.7h14.4v14.4h-14.4z"/><path d="M132.6 100.6h14.4v14.4h-14.4z"/><path d="M133.6 88.3h14.4v14.4h-14.4z"/><path d="M134.7 99.3h14.4v14.4h-14.4z"/><path d="M136.4 96.3h14.4v14.4h-14.4z"/><path d="M138 94.3h14.4v14.4h-14.4z"/><path d="M139.7 98.6h14.4v14.4h-14.4z"/><path d="M141.8 100.1h14.4v14.4h-14.4z"/><path d="M143.8 103.4h14.4v14.4h-14.4z"/><path d="M145.8 99.9h14.4v14.4h-14.4z"/><path d="M146.8 99.2h14.4v14.4h-14.4z"/><path d="M148.8 94.8h14.4v14.4h-14.4z"/><path d="M150.9 90.2h14.4v14.4h-14.4z"/><path d="M153 95h14.4v14.4h-14.4z"/><path d="M154.8 91.6h14.4v14.4h-14.4z"/><path d="M156.2 93.3h14.4v14.4h-14.4z"/><path d="M157.6 88.7h14.4v14.4h-14.4z"/><path d="M159.1 104.8h14.4v14.4h-14.4z"/><path d="M160.9 104h14.4v14.4h-14.4z"/><path d="M162.8 102.3h14.4v14.4h-14.4z"/><path d="M165 100.8h14.4v14.4h-14.4z"/><path d="M166.3 91.6h14.4v14.4h-14.4z"/><path d="M167.8 87.4h14.4v14.4h-14.4z"/><path d="M169.1 103.3h14.4v14.4h-14.4z"/><path d="M171.2 93h14.4v14.4h-14.4z"/><path d="M173.2 101.3h14.4v14.4h-14.4z"/><path d="M175.2 101.7h14.4v14.4h-14.4z"/><path d="M176.9 89.9h14.4v14.4h-14.4z"/><path d="M178.8 94.2h14.4v14.4h-14.4z"/><path d="M180.6 95.7h14.4v14.4h-14.4z"/><path d="M182.2 105.1h14.4v14.4h-14.4z"/><path d="M183.4 99h14.4v14.4h-14.4z"/><path d="M185.2 99h14.4v14.4h-14.4z"/><path d="M187.3 96.9h14.4v14.4h-14.4z"/><path d="M189.4 101h14.4v14.4h-14.4z"/><path d="M191.6 91.1h14.4v14.4h-14.4z"/><path d="M192.9 94.1h14.4v14.4h-14.4z"/><path d="M194.9 89h14.4v14.4h-14.4z"/><path d="M196.3 101.1h14.4v14.4h-14.4z"/><path d="M198.4 91.2h14.4v14.4h-14.4z"/><path d="M200 100.4h14.4v14.4h-14.4z"/><path d="M201.8 101.5h14.4v14.4h-14.4z"/><path d="M203.7 91.5h14.4v14.4h-14.4z"/><path d="M205 87.1h14.4v14.4h-14.4z"/><path d="M206.8 90.7h14.4v14.4h-14.4z"/><path d="M208.2 105.9h14.4v14.4h-14.4z"/><path d="M209.9 98.4h14.4v14.4h-14.4z"/><path d="M211.7 98.6h14.4v14.4h-14.4z"/><path d="M213.5 92.6h14.4v14.4h-14.4z"/><path d="M214.6 87.7h14.4v14.4h-14.4z"/><path d="M215.6 93.8h14.4v14.4h-14.4z"/><path d="M216.8 88.6h14.4v14.4h-14.4z"/><path d="M218.4 106.4h14.4v14.4h-14.4z"/><path d="M220.2 91.9h14.4v14.4h-14.4z"/><path d="M222.1 89.9h14.4v14.4h-14.4z"/><path d="M223.3 92.5h14.4v14.4h-14.4z"/><path d="M224.8 100.7h14.4v14.4h-14.4z"/><path d="M226.3 101.6h14.4v14.4h-14.4z"/><path d="M227.4 105.9h14.4v14.4h-14.4z"/><path d="M228.8 103.8h14.4v14.4h-14.4z"/><path d="M229.9 103.9h14.4v14.4h-14.4z"/><path d="M231.1 104.5h14.4v14.4h-14.4z"/><path d="M233.1 100.9h14.4v14.4h-14.4z"/><path d="M234.4 87.9h14.4v14.4h-14.4z"/><path d="M235.7 105.9h14.4v14.4h-14.4z"/><path d="M236.8 101.2h14.4v14.4h-14.4z"/><path d="M238.5 101.5h14.4v14.4h-14.4z"/><path d="M239.8 92h14.4v14.4h-14.4z"/><path d="M240.9 107.6h14.4v14.4h-14.4z"/><path d="M242.3 101.9h14.4v14.4h-14.4z"/><path d="M244 94.8h14.4v14.4h-14.4z"/><path d="M245.1 91.6h14.4v14.4h-14.4z"/><path d="M247.1 94.2h14.4v14.4h-14.4z"/><path d="M249.3 98.5h14.4v14.4h-14.4z"/><path d="M251.1 95.7h14.4v14.4h-14.4z"/><path d="M253.1 97.6h14.4v14.4h-14.4z"/><path d="M254.5 101.5h14.4v14.4h-14.4z"/><path d="M255.7 97.5h14.4v14.4h-14.4z"/><path d="M257.6 98.1h14.4v14.4h-14.4z"/><path d="M259.1 105.2h14.4v14.4h-14.4z"/><path d="M260.3 96.8h14.4v14.4h-14.4z"/><path d="M261.6 99.6h14.4v14.4h-14.4z"/><path d="M263 103.5h14.4v14.4h-14.4z"/><path d="M264.6 106.9h14.4v14.4h-14.4z"/><path d="M265.7 103.9h14.4v14.4h-14.4z"/><path d="M267.7 97.5h14.4v14.4h-14.4z"/><path d="M268.7 100.6h14.4v14.4h-14.4z"/><path d="M269.9 100.9h14.4v14.4h-14.4z"/><path d="M271.7 95.4h14.4v14.4h-14.4z"/><path d="M272.8 101.3h14.4v14.4h-14.4z"/><path d="M274.1 97.5h14.4v14.4h-14.4z"/><path d="M275.6 95.8h14.4v14.4h-14.4z"/><path d="M276.7 99.5h14.4v14.4h-14.4z"/><path d="M278.2 108.4h14.4v14.4h-14.4z"/><path d="M279.9 95.1h14.4v14.4h-14.4z"/><path d="M281.2 105.6h14.4v14.4h-14.4z"/><path d="M282.8 107.6h14.4v14.4h-14.4z"/><path d="M285 107.5h14.4v14.4h-14.4z"/><path d="M286.1 108.9h14.4v14.4h-14.4z"/><path d="M287.8 98.2h14.4v14.4h-14.4z"/><path d="M289 107.8h14.4v14.4h-14.4z"/><path d="M290.2 96h14.4v14.4h-14.4z"/><path d="M291.5 108.8h14.4v14.4h-14.4z"/><path d="M293.1 106h14.4v14.4h-14.4z"/><path d="M294.2 101.9h14.4v14.4h-14.4z"/><path d="M295.6 98.3h14.4v14.4h-14.4z"/><path d="M297.4 100.8h14.4v14.4h-14.4z"/><path d="M298.5 110h14.4v14.4h-14.4z"/><path d="M300.1 98.4h14.4v14.4h-14.4z"/><path d="M301.1 105.3h14.4v14.4h-14.4z"/><path d="M302.7 96.3h14.4v14.4h-14.4z"/><path d="M304.3 106.8h14.4v14.4h-14.4z"/><path d="M305.9 99.6h14.4v14.4h-14.4z"/><path d="M307.5 105h14.4v14.4h-14.4z"/><path d="M309.3 98.7h14.4v14.4h-14.4z"/><path d="M311.3 110h14.4v14.4h-14.4z"/><path d="M313.1 108.9h14.4v14.4h-14.4z"/><path d="M314.6 109.6h14.4v14.4h-14.4z"/><path d="M315.8 100.4h14.4v14.4h-14.4z"/><path d="M317.5 109.7h14.4v14.4h-14.4z"/><path d="M318.6 100.5h14.4v14.4h-14.4z"/><path d="M319.7 103.6h14.4v14.4h-14.4z"/><path d="M320.8 100.4h14.4v14.4h-14.4z"/><path d="M322.7 105.7h14.4v14.4h-14.4z"/><path d="M324.9 103.5h14.4v14.4h-14.4z"/><path d="M326.7 98.7h14.4v14.4h-14.4z"/><path d="M328.8 101.8h14.4v14.4h-14.4z"/><path d="M330.4 105.5h14.4v14.4h-14.4z"/><path d="M332.5 105.4h14.4v14.4h-14.4z"/><path d="M334.7 107.2h14.4v14.4h-14.4z"/><path d="M336 109.8h14.4v14.4h-14.4z"/><path d="M337.2 111.8h14.4v14.4h-14.4z"/><path d="M338.8 102.9h14.4v14.4h-14.4z"/><path d="M340.9 104.2h14.4v14.4h-14.4z"/><path d="M342.4 104.7h14.4v14.4h-14.4z"/><path d="M344.2 101.3h14.4v14.4h-14.4z"/><path d="M345.7 103h14.4v14.4h-14.4z"/><path d="M347.6 101.6h14.4v14.4h-14.4z"/><path d="M349.4 104.5h14.4v14.4h-14.4z"/><path d="M350.9 107.8h14.4v14.4h-14.4z"/><path d="M352.8 103.7h14.4v14.4h-14.4z"/><path d="M354.1 103.7h14.4v14.4h-14.4z"/><path d="M356.2 104.2h14.4v14.4h-14.4z"/><path d="M357.4 108h14.4v14.4h-14.4z"/><path d="M359.1 111.6h14.4v14.4h-14.4z"/><path d="M360.1 105.5h14.4v14.4h-14.4z"/><path d="M361.3 108.9h14.4v14.4h-14.4z"/><path d="M362.9 107.4h14.4v14.4h-14.4z"/><path d="M365 109.9h14.4v14.4h-14.4z"/><path d="M367 112.6h14.4v14.4h-14.4z"/><path d="M368.3 112.6h14.4v14.4h-14.4z"/><path d="M369.8 104.8h14.4v14.4h-14.4z"/><path d="M371.9 105.5h14.4v14.4h-14.4z"/><path d="M372.9 107.2h14.4v14.4h-14.4z"/><path d="M374.3 113h14.4v14.4h-14.4z"/><path d="M376.3 108.6h14.4v14.4h-14.4z"/><path d="M377.9 112.2h14.4v14.4h-14.4z"/><path d="M379.9 110.8h14.4v14.4h-14.4z"/><path d="M381.5 106.6h14.4v14.4h-14.4z"/><path d="M382.8 111h14.4v14.4h-14.4z"/><path d="M384.5 112.2h14.4v14.4h-14.4z"/><path d="M386.6 113.5h14.4v14.4h-14.4z"/><path d="M387.8 107h14.4v14.4h-14.4z"/><path d="M389.9 110.8h14.4v14.4h-14.4z"/><path d="M391.1 111.8h14.4v14.4h-14.4z"/><path d="M392.4 108.6h14.4v14.4h-14.4z"/><path d="M393.9 110.8h14.4v14.4h-14.4z"/><path d="M395.7 107.9h14.4v14.4h-14.4z"/><path d="M397.6 111.8h14.4v14.4h-14.4z"/><path d="M399.1 112.2h14.4v14.4h-14.4z"/><path d="M401.1 108.3h14.4v14.4h-14.4z"/><path d="M402.7 112.5h14.4v14.4h-14.4z"/><path d="M404.5 112.5h14.4v14.4h-14.4z"/><path d="M405.7 114.4h14.4v14.4h-14.4z"/><path d="M407.7 110.5h14.4v14.4h-14.4z"/><path d="M409.2 114.5h14.4v14.4h-14.4z"/><path d="M410.5 111.7h14.4v14.4h-14.4z"/><path d="M412.6 114.4h14.4v14.4h-14.4z"/><path d="M413.9 113.5h14.4v14.4h-14.4z"/><path d="M415.3 113h14.4v14.4h-14.4z"/><path d="M417.2 109.1h14.4v14.4h-14.4z"/><path d="M418.5 109.3h14.4v14.4h-14.4z"/><path d="M419.8 107.4h14.4v14.4h-14.4z"/><path d="M421 110.1h14.4v14.4h-14.4z"/><path d="M422.5 106.7h14.4v14.4h-14.4z"/><path d="M424.2 114.8h14.4v14.4h-14.4z"/><path d="M425.9 108.5h14.4v14.4h-14.4z"/><path d="M427.7 108.9h14.4v14.4h-14.4z"/><path d="M428.9 109.2h14.4v14.4h-14.4z"/><path d="M430 111.5h14.4v14.4h-14.4z"/><path d="M431.2 107.7h14.4v14.4h-14.4z"/><path d="M433.3 112.7h14.4v14.4h-14.4z"/><path d="M435.3 111.2h14.4v14.4h-14.4z"/><path d="M437.1 112.1h14.4v14.4h-14.4z"/><path d="M439.2 105.5h14.4v14.4h-14.4z"/><path d="M441.1 106.9h14.4v14.4h-14.4z"/><path d="M442.5 113.8h14.4v14.4h-14.4z"/><path d="M444.2 114.2h14.4v14.4h-14.4z"/><path d="M446.2 111h14.4v14.4h-14.4z"/><path d="M447.5 104.1h14.4v14.4h-14.4z"/><path d="M449.1 113.4h14.4v14.4h-14.4z"/><path d="M450.4 106.2h14.4v14.4h-14.4z"/><path d="M451.4 107.9h14.4v14.4h-14.4z"/><path d="M453.3 107h14.4v14.4h-14.4z"/><path d="M454.6 110.1h14.4v14.4h-14.4z"/><path d="M456.4 117.2h14.4v14.4h-14.4z"/><path d="M457.4 110.1h14.4v14.4h-14.4z"/><path d="M459.5 117.3h14.4v14.4h-14.4z"/><path d="M460.7 113.2h14.4v14.4h-14.4z"/><path d="M462.4 113.7h14.4v14.4h-14.4z"/><path d="M463.9 114.8h14.4v14.4h-14.4z"/><path d="M465.2 112.3h14.4v14.4h-14.4z"/><path d="M466.3 113h14.4v14.4h-14.4z"/><path d="M467.4 115.9h14.4v14.4h-14.4z"/><path d="M469.2 113.7h14.4v14.4h-14.4z"/><path d="M471.2 116.8h14.4v14.4h-14.4z"/><path d="M472.6 115.3h14.4v14.4h-14.4z"/><path d="M473.8 118.3h14.4v14.4h-14.4z"/><path d="M475.5 112.4h14.4v14.4h-14.4z"/><path d="M476.7 116.9h14.4v14.4h-14.4z"/><path d="M478.1 117.2h14.4v14.4h-14.4z"/><path d="M479.4 117.8h14.4v14.4h-14.4z"/><path d="M481.4 112.9h14.4v14.4h-14.4z"/><path d="M483.1 113.7h14.4v14.4h-14.4z"/><path d="M484.9 118.3h14.4v14.4h-14.4z"/><path d="M486.9 114.1h14.4v14.4h-14.4z"/><path d="M488 117.5h14.4v14.4h-14.4z"/><path d="M489.6 113.5h14.4v14.4h-14.4z"/><path d="M490.9 117h14.4v14.4h-14.4z"/><path d="M492 117.5h14.4v14.4h-14.4z"/><path d="M493.3 114.6h14.4v14.4h-14.4z"/><path d="M494.8 116.9h14.4v14.4h-14.4z"/><path d="M496.7 112.9h14.4v14.4h-14.4z"/><path d="M498.5 114.5h14.4v14.4h-14.4z"/><path d="M499.9 118.1h14.4v14.4h-14.4z"/><path d="M501.7 118h14.4v14.4h-14.4z"/><path d="M503.8 114.5h14.4v14.4h-14.4z"/><path d="M505.2 118.6h14.4v14.4h-14.4z"/><path d="M506.5 114.2h14.4v14.4h-14.4z"/><path d="M507.8 119.7h14.4v14.4h-14.4z"/><path d="M509.8 119.4h14.4v14.4h-14.4z"/><path d="M511.9 120.2h14.4v14.4h-14.4z"/><path d="M513.3 115.9h14.4v14.4h-14.4z"/><path d="M515.1 113.6h14.4v14.4h-14.4z"/><path d="M516.9 114h14.4v14.4h-14.4z"/><path d="M517.9 118.1h14.4v14.4h-14.4z"/><path d="M519.1 122.3h14.4v14.4h-14.4z"/><path d="M521.2 117.9h14.4v14.4h-14.4z"/><path d="M522.4 114.5h14.4v14.4h-14.4z"/><path d="M524 118.7h14.4v14.4h-14.4z"/><path d="M525.4 120.9h14.4v14.4h-14.4z"/><path d="M527.1 121.7h14.4v14.4h-14.4z"/><path d="M528.2 114.1h14.4v14.4h-14.4z"/><path d="M529.7 118.7h14.4v14.4h-14.4z"/><path d="M531 120.9h14.4v14.4h-14.4z"/><path d="M532.2 117.1h14.4v14.4h-14.4z"/><path d="M533.8 121.7h14.4v14.4h-14.4z"/><path d="M535.7 117.9h14.4v14.4h-14.4z"/><path d="M537.3 124.5h14.4v14.4h-14.4z"/><path d="M539.4 121.1h14.4v14.4h-14.4z"/><path d="M540.5 119.2h14.4v14.4h-14.4z"/><path d="M542.3 117.2h14.4v14.4h-14.4z"/><path d="M543.3 125.9h14.4v14.4h-14.4z"/><path d="M545.4 115.4h14.4v14.4h-14.4z"/><path d="M547 121.8h14.4v14.4h-14.4z"/><path d="M548.3 114.8h14.4v14.4h-14.4z"/><path d="M550.2 124.1h14.4v14.4h-14.4z"/><path d="M551.8 115.1h14.4v14.4h-14.4z"/><path d="M553.2 115.3h14.4v14.4h-14.4z"/><path d="M555.4 114.8h14.4v14.4h-14.4z"/><path d="M556.7 124.4h14.4v14.4h-14.4z"/><path d="M557.9 115.7h14.4v14.4h-14.4z"/><path d="M559 116.5h14.4v14.4h-14.4z"/><path d="M560.6 125.5h14.4v14.4h-14.4z"/><path d="M561.8 116.8h14.4v14.4h-14.4z"/><path d="M563.7 120.2h14.4v14.4h-14.4z"/><path d="M565.2 116.2h14.4v14.4h-14.4z"/><path d="M566.4 127.5h14.4v14.4h-14.4z"/><path d="M567.6 118.2h14.4v14.4h-14.4z"/><path d="M569.5 126.6h14.4v14.4h-14.4z"/><path d="M571.6 121.2h14.4v14.4h-14.4z"/><path d="M573.7 123h14.4v14.4h-14.4z"/><path d="M575.1 121.2h14.4v14.4h-14.4z"/><path d="M576.9 124.8h14.4v14.4h-14.4z"/><path d="M578.1 117.8h14.4v14.4h-14.4z"/><path d="M580.2 116.8h14.4v14.4h-14.4z"/><path d="M582.2 119.9h14.4v14.4h-14.4z"/><path d="M583.5 118.8h14.4v14.4h-14.4z"/><path d="M585.1 128.5h14.4v14.4h-14.4z"/><path d="M586.2 126.7h14.4v14.4h-14.4z"/><path d="M587.6 118h14.4v14.4h-14.4z"/><path d="M589.5 120.2h14.4v14.4h-14.4z"/><path d="M590.7 121.3h14.4v14.4h-14.4z"/><path d="M592.7 127.1h14.4v14.4h-14.4z"/><path d="M594.4 116.2h14.4v14.4h-14.4z"/><path d="M596.3 124h14.4v14.4h-14.4z"/><path d="M598.4 128.5h14.4v14.4h-14.4z"/><path d="M599.8 127.2h14.4v14.4h-14.4z"/><path d="M601.8 119.8h14.4v14.4h-14.4z"/><path d="M603.2 121.3h14.4v14.4h-14.4z"/><path d="M604.6 121.4h14.4v14.4h-14.4z"/><path d="M605.8 119.5h14.4v14.4h-14.4z"/><path d="M607.9 122h14.4v14.4h-14.4z"/><path d="M609.6 128.1h14.4v14.4h-14.4z"/><path d="M611.5 120h14.4v14.4h-14.4z"/><path d="M613.6 127.2h14.4v14.4h-14.4z"/><path d="M615.8 126.3h14.4v14.4h-14.4z"/><path d="M617.7 127.5h14.4v14.4h-14.4z"/><path d="M619 125.6h14.4v14.4h-14.4z"/><path d="M620.5 128h14.4v14.4h-14.4z"/><path d="M621.7 124.2h14.4v14.4h-14.4z"/><path d="M623.1 127.9h14.4v14.4h-14.4z"/><path d="M624.5 128.2h14.4v14.4h-14.4z"/><path d="M626.5 128.8h14.4v14.4h-14.4z"/><path d="M627.7 129.6h14.4v14.4h-14.4z"/><path d="M629.6 126.4h14.4v14.4h-14.4z"/><path d="M631.3 118.5h14.4v14.4h-14.4z"/><path d="M633.4 124.9h14.4v14.4h-14.4z"/><path d="M634.9 122.3h14.4v14.4h-14.4z"/><path d="M636.9 128h14.4v14.4h-14.4z"/><path d="M638.9 120.8h14.4v14.4h-14.4z"/><path d="M640.3 121.3h14.4v14.4h-14.4z"/><path d="M641.4 122.4h14.4v14.4h-14.4z"/><path d="M642.5 128.5h14.4v14.4h-14.4z"/><path d="M643.7 119.1h14.4v14.4h-14.4z"/><path d="M644.8 127.8h14.4v14.4h-14.4z"/><path d="M646.1 124.2h14.4v14.4h-14.4z"/><path d="M647.5 128.8h14.4v14.4h-14.4z"/><path d="M649.7 122.4h14.4v14.4h-14.4z"/><path d="M651.5 130.1h14.4v14.4h-14.4z"/><path d="M653 130.3h14.4v14.4h-14.4z"/><path d="M654.9 122.5h14.4v14.4h-14.4z"/><path d="M656.9 126.1h14.4v14.4h-14.4z"/><path d="M658.1 126.3h14.4v14.4h-14.4z"/><path d="M660.1 125.5h14.4v14.4h-14.4z"/><path d="M661.6 124.1h14.4v14.4h-14.4z"/><path d="M663.7 127.6h14.4v14.4h-14.4z"/><path d="M665 123.5h14.4v14.4h-14.4z"/><path d="M666.4 131.7h14.4v14.4h-14.4z"/><path d="M668.2 120.3h14.4v14.4h-14.4z"/><path d="M670.3 119.1h14.4v14.4h-14.4z"/><path d="M672 124.7h14.4v14.4h-14.4z"/><path d="M673.9 124.7h14.4v14.4h-14.4z"/><path d="M675 126h14.4v14.4h-14.4z"/><path d="M677 129.8h14.4v14.4h-14.4z"/><path d="M678.4 121.9h14.4v14.4h-14.4z"/><path d="M680.3 130.2h14.4v14.4h-14.4z"/><path d="M681.6 131.4h14.4v14.4h-14.4z"/><path d="M683.8 125h14.4v14.4h-14.4z"/><path d="M685.2 129.1h14.4v14.4h-14.4z"/><path d="M687.3 121.8h14.4v14.4h-14.4z"/><path d="M688.7 123.7h14.4v14.4h-14.4z"/><path d="M690.6 121.7h14.4v14.4h-14.4z"/><path d="M692.2 126.3h14.4v14.4h-14.4z"/><path d="M694 121.2h14.4v14.4h-14.4z"/><path d="M696.2 133.8h14.4v14.4h-14.4z"/><path d="M697.9 130.9h14.4v14.4h-14.4z"/><path d="M699.1 132.6h14.4v14.4h-14.4z"/><path d="M700.7 130.5h14.4v14.4h-14.4z"/><path d="M702.8 124.9h14.4v14.4h-14.4z"/><path d="M704.9 122.9h14.4v14.4h-14.4z"/><path d="M705.9 127.2h14.4v14.4h-14.4z"/><path d="M708 132.9h14.4v14.4h-14.4z"/><path d="M710.1 127.5h14.4v14.4h-14.4z"/><path d="M712.3 128.4h14.4v14.4h-14.4z"/><path d="M713.4 129.4h14.4v14.4h-14.4z"/><path d="M715.4 126.6h14.4v14.4h-14.4z"/><path d="M717.1 124.4h14.4v14.4h-14.4z"/><path d="M718.4 126.8h14.4v14.4h-14.4z"/><path d="M720.1 127.6h14.4v14.4h-14.4z"/><path d="M721.2 121.2h14.4v14.4h-14.4z"/><path d="M722.6 131.2h14.4v14.4h-14.4z"/><path d="M724.5 124.6h14.4v14.4h-14.4z"/><path d="M725.8 128.6h14.4v14.4h-14.4z"/><path d="M727 129.9h14.4v14.4h-14.4z"/><path d="M729.1 124.5h14.4v14.4h-14.4z"/><path d="M730.8 131.7h14.4v14.4h-14.4z"/><path d="M732.7 131.7h14.4v14.4h-14.4z"/><path d="M734.5 125.7h14.4v14.4h-14.4z"/><path d="M736.5 134.6h14.4v14.4h-14.4z"/><path d="M737.6 134.8h14.4v14.4h-14.4z"/><path d="M739.1 123.2h14.4v14.4h-14.4z"/><path d="M740.2 132.8h14.4v14.4h-14.4z"/><path d="M742 124h14.4v14.4h-14.4z"/><path d="M743.6 130.7h14.4v14.4h-14.4z"/><path d="M745.8 126.6h14.4v14.4h-14.4z"/><path d="M747.7 125.4h14.4v14.4h-14.4z"/><path d="M748.9 124.3h14.4v14.4h-14.4z"/><path d="M750.4 130.5h14.4v14.4h-14.4z"/><path d="M751.8 124.3h14.4v14.4h-14.4z"/><path d="M753.1 123.3h14.4v14.4h-14.4z"/><path d="M754.3 126.4h14.4v14.4h-14.4z"/><path d="M755.9 124.6h14.4v14.4h-14.4z"/><path d="M757.5 128.1h14.4v14.4h-14.4z"/><path d="M759.6 128.7h14.4v14.4h-14.4z"/><path d="M761.8 128.5h14.4v14.4h-14.4z"/><path d="M763 130.1h14.4v14.4h-14.4z"/><path d="M764.2 124.5h14.4v14.4h-14.4z"/><path d="M765.3 131.6h14.4v14.4h-14.4z"/><path d="M767.4 127.6h14.4v14.4h-14.4z"/><path d="M768.9 127.9h14.4v14.4h-14.4z"/><path d="M770.3 131.5h14.4v14.4h-14.4z"/><path d="M771.8 124.3h14.4v14.4h-14.4z"/><path d="M773.8 129.9h14.4v14.4h-14.4z"/><path d="M774.8 133.7h14.4v14.4h-14.4z"/><path d="M776.7 127.1h14.4v14.4h-14.4z"/><path d="M778.4 134.7h14.4v14.4h-14.4z"/><path d="M779.9 128.2h14.4v14.4h-14.4z"/><path d="M781.3 129.9h14.4v14.4h-14.4z"/><path d="M783.1 132.4h14.4v14.4h-14.4z"/><path d="M785.2 124.3h14.4v14.4h-14.4z"/><path d="M786.6 134.1h14.4v14.4h-14.4z"/><path d="M788.6 130.5h14.4v14.4h-14.4z"/><path d="M790.4 127.1h14.4v14.4h-14.4z"/><path d="M792.5 130.1h14.4v14.4h-14.4z"/><path d="M794 125h14.4v14.4h-14.4z"/><path d="M795.2 135h14.4v14.4h-14.4z"/><path d="M797.1 122.8h14.4v14.4h-14.4z"/><path d="M798.5 129.2h14.4v14.4h-14.4z"/><path d="M800.1 127.6h14.4v14.4h-14.4z"/><path d="M802.2 127.4h14.4v14.4h-14.4z"/><path d="M803.8 135.8h14.4v14.4h-14.4z"/><path d="M805.6 129.3h14.4v14.4h-14.4z"/><path d="M807 128.1h14.4v14.4h-14.4z"/><path d="M808.7 133.9h14.4v14.4h-14.4z"/><path d="M810 127.9h14.4v14.4h-14.4z"/><path d="M811.5 127.9h14.4v14.4h-14.4z"/><path d="M813.6 130.5h14.4v14.4h-14.4z"/><path d="M814.9 127.5h14.4v14.4h-14.4z"/><path d="M816.9 125.1h14.4v14.4h-14.4z"/><path d="M818.7 123.2h14.4v14.4h-14.4z"/><path d="M820 123.8h14.4v14.4h-14.4z"/><path d="M821.9 125.1h14.4v14.4h-14.4z"/><path d="M823.2 123.8h14.4v14.4h-14.4z"/><path d="M824.5 133.7h14.4v14.4h-14.4z"/><path d="M826.4 136.3h14.4v14.4h-14.4z"/><path d="M828.5 131.2h14.4v14.4h-14.4z"/><path d="M830.6 124.6h14.4v14.4h-14.4z"/><path d="M832.7 129.6h14.4v14.4h-14.4z"/><path d="M834 134.2h14.4v14.4h-14.4z"/><path d="M836 129h14.4v14.4h-14.4z"/><path d="M837.1 136.2h14.4v14.4h-14.4z"/><path d="M839 132.2h14.4v14.4h-14.4z"/><path d="M841.2 124.2h14.4v14.4h-14.4z"/><path d="M842.3 125.5h14.4v14.4h-14.4z"/><path d="M843.3 134h14.4v14.4h-14.4z"/><path d="M845 125.4h14.4v14.4h-14.4z"/><path d="M846.2 126.4h14.4v14.4h-14.4z"/><path d="M848 133.6h14.4v14.4h-14.4z"/><path d="M850.1 129.2h14.4v14.4h-14.4z"/><path d="M852.3 130.3h14.4v14.4h-14.4z"/><path d="M853.8 127.9h14.4v14.4h-14.4z"/><path d="M855 138.7h14.4v14.4h-14.4z"/><path d="M857.2 135.3h14.4v14.4h-14.4z"/><path d="M858.5 127.8h14.4v14.4h-14.4z"/><path d="M859.6 130.5h14.4v14.4h-14.4z"/><path d="M861.5 126.6h14.4v14.4h-14.4z"/><path d="M863.2 136.2h14.4v14.4h-14.4z"/><path d="M864.2 132.8h14.4v14.4h-14.4z"/><path d="M866.1 135.2h14.4v14.4h-14.4z"/><path d="M867.7 140.2h14.4v14.4h-14.4z"/><path d="M869.4 132.3h14.4v14.4h-14.4z"/><path d="M870.9 141.8h14.4v14.4h-14.4z"/><path d="M872.9 141.8h14.4v14.4h-14.4z"/><path d="M874.6 130.4h14.4v14.4h-14.4z"/><path d="M875.8 134.4h14.4v14.4h-14.4z"/><path d="M877.6 128.9h14.4v14.4h-14.4z"/><path d="M879.6 141.3h14.4v14.4h-14.4z"/><path d="M881.2 129.7h14.4v14.4h-14.4z"/><path d="M883.2 136.4h14.4v14.4h-14.4z"/><path d="M885 139.2h14.4v14.4h-14.4z"/><path d="M886.8 137h14.4v14.4h-14.4z"/><path d="M889 146h14.4v14.4h-14.4z"/><path d="M891.1 141.2h14.4v14.4h-14.4z"/><path d="M892.5 137.7h14.4v14.4h-14.4z"/><path d="M893.8 146.4h14.4v14.4h-14.4z"/><path d="M895.8 145.1h14.4v14.4h-14.4z"/><path d="M897.7 148.9h14.4v14.4h-14.4z"/><path d="M899.6 138.4h14.4v14.4h-14.4z"/><path d="M901.5 137.9h14.4v14.4h-14.4z"/><path d="M903.2 136.6h14.4v14.4h-14.4z"/><path d="M905.2 142.5h14.4v14.4h-14.4z"/><path d="M906.6 150.4h14.4v14.4h-14.4z"/><path d="M907.7 150.8h14.4v14.4h-14.4z"/><path d="M909.6 137.3h14.4v14.4h-14.4z"/><path d="M911.5 145.3h14.4v14.4h-14.4z"/><path d="M913.6 145.8h14.4v14.4h-14.4z"/><path d="M915.1 151.8h14.4v14.4h-14.4z"/><path d="M916.2 148.8h14.4v14.4h-14.4z"/><path d="M917.3 140.1h14.4v14.4h-14.4z"/><path d="M918.5 150h14.4v14.4h-14.4z"/><path d="M920 147.3h14.4v14.4h-14.4z"/><path d="M921.3 147.1h14.4v14.4h-14.4z"/><path d="M923.1 137.4h14.4v14.4h-14.4z"/><path d="M924.7 146.5h14.4v14.4h-14.4z"/><path d="M925.9 145.3h14.4v14.4h-14.4z"/><path d="M927.3 141.3h14.4v14.4h-14.4z"/><path d="M929.4 148.5h14.4v14.4h-14.4z"/><path d="M931.6 141.9h14.4v14.4h-14.4z"/><path d="M933.2 146h14.4v14.4h-14.4z"/><path d="M935.2 142h14.4v14.4h-14.4z"/><path d="M937.2 141.3h14.4v14.4h-14.4z"/><path d="M939.3 141.8h14.4v14.4h-14.4z"/><path d="M940.2 140.3h14.4v14.4h-14.4z"/></g><g fill="#e8701f" stroke="#c85a1a" stroke-width="0.9"><path d="M73.8 76.8h14.4v14.4h-14.4z"/><path d="M73.8 99.3h14.4v14.4h-14.4z"/><path d="M126.1 91.2h14.4v14.4h-14.4z"/><path d="M161.8 87.8h14.4v14.4h-14.4z"/><path d="M236.4 92.2h14.4v14.4h-14.4z"/><path d="M272.5 102.8h14.4v14.4h-14.4z"/><path d="M311.8 102.8h14.4v14.4h-14.4z"/><path d="M349.8 105.8h14.4v14.4h-14.4z"/><path d="M387.5 101.5h14.4v14.4h-14.4z"/><path d="M423.8 109.8h14.4v14.4h-14.4z"/><path d="M460.1 103.3h14.4v14.4h-14.4z"/><path d="M498.8 112.8h14.4v14.4h-14.4z"/><path d="M537.2 107h14.4v14.4h-14.4z"/><path d="M576.3 110.8h14.4v14.4h-14.4z"/><path d="M609.1 108.2h14.4v14.4h-14.4z"/><path d="M651.8 114.5h14.4v14.4h-14.4z"/><path d="M683.3 105.1h14.4v14.4h-14.4z"/><path d="M724.4 113.3h14.4v14.4h-14.4z"/><path d="M759.8 105.8h14.4v14.4h-14.4z"/><path d="M799.8 114.8h14.4v14.4h-14.4z"/><path d="M837.8 109.8h14.4v14.4h-14.4z"/><path d="M872.1 114.3h14.4v14.4h-14.4z"/><path d="M912.8 123.8h14.4v14.4h-14.4z"/></g><g fill="#8e1a55" stroke="#4e0c2c" stroke-width="1"><path d="M81.4 73.9l7 14.2h-14z"/><path d="M85.3 82.8l7 14.2h-14z"/><path d="M93.1 90.5l7 14.2h-14z"/><path d="M133 80.5l7 14.2h-14z"/><path d="M133 86l7 14.2h-14z"/><path d="M169.1 83.9l7 14.2h-14z"/><path d="M169.1 86l7 14.2h-14z"/><path d="M207.3 90l7 14.2h-14z"/><path d="M243.4 92.2l7 14.2h-14z"/><path d="M279.7 98.3l7 14.2h-14z"/><path d="M319 96.6l7 14.2h-14z"/><path d="M356.6 102.7l7 14.2h-14z"/><path d="M394.6 102.7l7 14.2h-14z"/><path d="M430.9 105l7 14.2h-14z"/><path d="M466.6 102.6l7 14.2h-14z"/><path d="M506.5 103.2l7 14.2h-14z"/><path d="M544.2 107l7 14.2h-14z"/><path d="M583.6 109.4l7 14.2h-14z"/><path d="M616.2 108l7 14.2h-14z"/><path d="M658.8 112.4l7 14.2h-14z"/><path d="M690.2 109.4l7 14.2h-14z"/><path d="M731.4 116.6l7 14.2h-14z"/><path d="M770 113l7 14.2h-14z"/><path d="M806.6 121.6l7 14.2h-14z"/><path d="M841.7 121l7 14.2h-14z"/><path d="M875.6 124l7 14.2h-14z"/><path d="M919 125l7 14.2h-14z"/></g><g fill="#9dc25c" stroke="#36842a" stroke-width="1"><path d="M81.9 117l7 14.2h-14z"/><path d="M82.8 87.8l7 14.2h-14z"/><path d="M88.2 118l7 14.2h-14z"/><path d="M89 96l7 14.2h-14z"/><path d="M94.6 108l7 14.2h-14z"/><path d="M101 117l7 14.2h-14z"/><path d="M106.5 106l7 14.2h-14z"/><path d="M112.9 110.6l7 14.2h-14z"/><path d="M124.7 96l7 14.2h-14z"/><path d="M130 108.8l7 14.2h-14z"/><path d="M137.5 113.4l7 14.2h-14z"/><path d="M143.9 109.7l7 14.2h-14z"/><path d="M155.7 99.7l7 14.2h-14z"/><path d="M161.2 103.3l7 14.2h-14z"/><path d="M168.5 108l7 14.2h-14z"/><path d="M175.8 108.8l7 14.2h-14z"/><path d="M183 109.7l7 14.2h-14z"/><path d="M190 107.8l7 14.2h-14z"/><path d="M194.4 109.1l7 14.2h-14z"/><path d="M198.5 112.1l7 14.2h-14z"/><path d="M203.8 112.8l7 14.2h-14z"/><path d="M208.2 113.5l7 14.2h-14z"/><path d="M213.1 110.7l7 14.2h-14z"/><path d="M219.2 106.8l7 14.2h-14z"/><path d="M224.3 108.1l7 14.2h-14z"/><path d="M230.5 115.5l7 14.2h-14z"/><path d="M234.6 111.9l7 14.2h-14z"/><path d="M239.7 113.2l7 14.2h-14z"/><path d="M245.6 110.7l7 14.2h-14z"/><path d="M251.9 109.5l7 14.2h-14z"/><path d="M256.2 113.8l7 14.2h-14z"/><path d="M258.6 101.6l7 14.2h-14z"/><path d="M260.5 109.7l7 14.2h-14z"/><path d="M265.2 93.9l7 14.2h-14z"/><path d="M265.8 111l7 14.2h-14z"/><path d="M270.2 114.4l7 14.2h-14z"/><path d="M275.4 114.4l7 14.2h-14z"/><path d="M277.4 102.7l7 14.2h-14z"/><path d="M280 115.6l7 14.2h-14z"/><path d="M284.6 116.2l7 14.2h-14z"/><path d="M290.1 117.3l7 14.2h-14z"/><path d="M296 115.9l7 14.2h-14z"/><path d="M301.3 118.1l7 14.2h-14z"/><path d="M309.7 111.9l7 14.2h-14z"/><path d="M319.4 122l7 14.2h-14z"/><path d="M328.5 123.1l7 14.2h-14z"/><path d="M336.2 120l7 14.2h-14z"/><path d="M338.4 97.8l7 14.2h-14z"/><path d="M345.6 125.6l7 14.2h-14z"/><path d="M355.4 115.9l7 14.2h-14z"/><path d="M364.5 121.8l7 14.2h-14z"/><path d="M372.7 116.6l7 14.2h-14z"/><path d="M380.1 121.2l7 14.2h-14z"/><path d="M388.6 118.8l7 14.2h-14z"/><path d="M396.7 123l7 14.2h-14z"/><path d="M404.8 124.3l7 14.2h-14z"/><path d="M405.9 124.4l7 14.2h-14z"/><path d="M411 109.8l7 14.2h-14z"/><path d="M413.4 128.6l7 14.2h-14z"/><path d="M421.5 130.5l7 14.2h-14z"/><path d="M423 108.6l7 14.2h-14z"/><path d="M431.5 119.6l7 14.2h-14z"/><path d="M440.2 133.1l7 14.2h-14z"/><path d="M441 111l7 14.2h-14z"/><path d="M447.2 111.6l7 14.2h-14z"/><path d="M448.4 128.5l7 14.2h-14z"/><path d="M456.3 117.5l7 14.2h-14z"/><path d="M463.9 121.4l7 14.2h-14z"/><path d="M471.8 127.9l7 14.2h-14z"/><path d="M480.5 126.3l7 14.2h-14z"/><path d="M489.5 121.7l7 14.2h-14z"/><path d="M499.4 123.4l7 14.2h-14z"/><path d="M501.7 114l7 14.2h-14z"/><path d="M507.7 115l7 14.2h-14z"/><path d="M508 124.3l7 14.2h-14z"/><path d="M517 121.2l7 14.2h-14z"/><path d="M525.8 120.8l7 14.2h-14z"/><path d="M535.7 121.6l7 14.2h-14z"/><path d="M545.7 120.3l7 14.2h-14z"/><path d="M552.7 124.9l7 14.2h-14z"/><path d="M560.3 124.9l7 14.2h-14z"/><path d="M567.7 127.2l7 14.2h-14z"/><path d="M576.7 126.8l7 14.2h-14z"/><path d="M586.5 128.9l7 14.2h-14z"/><path d="M595.5 127.8l7 14.2h-14z"/><path d="M602.5 122.5l7 14.2h-14z"/><path d="M612.2 130l7 14.2h-14z"/><path d="M621.5 128.1l7 14.2h-14z"/><path d="M622.9 109.1l7 14.2h-14z"/><path d="M629 115.4l7 14.2h-14z"/><path d="M629.5 127.4l7 14.2h-14z"/><path d="M641.1 129.2l7 14.2h-14z"/><path d="M652.4 120.7l7 14.2h-14z"/><path d="M661.2 124.6l7 14.2h-14z"/><path d="M672.5 123.8l7 14.2h-14z"/><path d="M684.3 126.9l7 14.2h-14z"/><path d="M695.7 114.2l7 14.2h-14z"/><path d="M695.8 130.6l7 14.2h-14z"/><path d="M701.7 111.2l7 14.2h-14z"/><path d="M705.1 135.5l7 14.2h-14z"/><path d="M707.8 113.6l7 14.2h-14z"/><path d="M713.8 114.2l7 14.2h-14z"/><path d="M732.4 130.4l7 14.2h-14z"/><path d="M738.5 143.2l7 14.2h-14z"/><path d="M739.1 135.7l7 14.2h-14z"/><path d="M743.4 129.8l7 14.2h-14z"/><path d="M750 133l7 14.2h-14z"/><path d="M759 116.6l7 14.2h-14z"/><path d="M761.8 110.1l7 14.2h-14z"/><path d="M769.8 136.3l7 14.2h-14z"/><path d="M775 109.5l7 14.2h-14z"/><path d="M786.6 114.1l7 14.2h-14z"/><path d="M792.7 112.6l7 14.2h-14z"/><path d="M793.2 128l7 14.2h-14z"/><path d="M801.8 125.5l7 14.2h-14z"/><path d="M804.2 132.2l7 14.2h-14z"/><path d="M809.6 129l7 14.2h-14z"/><path d="M810 146.6l7 14.2h-14z"/><path d="M811 147l7 14.2h-14z"/><path d="M817.5 132.2l7 14.2h-14z"/><path d="M823.6 133.4l7 14.2h-14z"/><path d="M829.7 132.8l7 14.2h-14z"/><path d="M835.7 101.7l7 14.2h-14z"/><path d="M842.3 110.7l7 14.2h-14z"/><path d="M847.1 131l7 14.2h-14z"/><path d="M847.2 112l7 14.2h-14z"/><path d="M853.8 115.6l7 14.2h-14z"/><path d="M865.3 113.8l7 14.2h-14z"/><path d="M876.2 119.2l7 14.2h-14z"/><path d="M878.6 132.5l7 14.2h-14z"/><path d="M884.2 123.5l7 14.2h-14z"/><path d="M890 121.5l7 14.2h-14z"/><path d="M895.6 136.6l7 14.2h-14z"/><path d="M901.9 144.4l7 14.2h-14z"/><path d="M908 136.6l7 14.2h-14z"/><path d="M914.4 116.3l7 14.2h-14z"/><path d="M915.2 135.9l7 14.2h-14z"/><path d="M920.6 115.2l7 14.2h-14z"/><path d="M926.4 112.1l7 14.2h-14z"/><path d="M932 114.2l7 14.2h-14z"/><path d="M938.3 116.8l7 14.2h-14z"/></g><g stroke="#7b6446" stroke-width="4.8" stroke-linecap="round" fill="none"><path d="M81.6 103.7L118.3 104.2"/><path d="M120.4 91.6L125.8 91.6"/><path d="M127.3 105.1L651 126.9"/><path d="M654 123.9L926.6 135.1"/></g></g><rect x="73.6" y="24.6" width="900.2" height="393.7" fill="none" stroke="#231f20" stroke-width="1.3"/><path d="M148.7 418.3v-4.3M148.7 24.6v4.3M223.8 418.3v-4.3M223.8 24.6v4.3M298.8 418.3v-4.3M298.8 24.6v4.3M373.9 418.3v-4.3M373.9 24.6v4.3M449 418.3v-4.3M449 24.6v4.3M524.1 418.3v-4.3M524.1 24.6v4.3M599.2 418.3v-4.3M599.2 24.6v4.3M674.2 418.3v-4.3M674.2 24.6v4.3M749.3 418.3v-4.3M749.3 24.6v4.3M824.4 418.3v-4.3M824.4 24.6v4.3M899.5 418.3v-4.3M899.5 24.6v4.3M73.6 64h4.3M973.8 64h-4.3M73.6 103.3h4.3M973.8 103.3h-4.3M73.6 142.7h4.3M973.8 142.7h-4.3M73.6 182.1h4.3M973.8 182.1h-4.3M73.6 221.4h4.3M973.8 221.4h-4.3M73.6 260.8h4.3M973.8 260.8h-4.3M73.6 300.2h4.3M973.8 300.2h-4.3M73.6 339.6h4.3M973.8 339.6h-4.3M73.6 378.9h4.3M973.8 378.9h-4.3" stroke="#231f20" stroke-width="1.3" fill="none"/><g font-family="Liberation Sans, sans-serif"><text transform="translate(73.78 19.00) scale(0.8980 1)" font-size="15.8" font-weight="bold" fill="#231f20">Blue</text><text transform="translate(42.23 29.80) scale(0.8301 1)" font-size="13.9" font-weight="normal" fill="#231f20">1.01</text><text transform="translate(35.72 69.17) scale(0.8301 1)" font-size="13.9" font-weight="normal" fill="#231f20">1.005</text><text transform="translate(58.27 108.54) scale(0.8301 1)" font-size="13.9" font-weight="normal" fill="#231f20">1</text><text transform="translate(35.72 147.91) scale(0.8301 1)" font-size="13.9" font-weight="normal" fill="#231f20">0.995</text><text transform="translate(42.18 187.28) scale(0.8301 1)" font-size="13.9" font-weight="normal" fill="#231f20">0.99</text><text transform="translate(35.72 226.65) scale(0.8301 1)" font-size="13.9" font-weight="normal" fill="#231f20">0.985</text><text transform="translate(42.12 266.02) scale(0.8301 1)" font-size="13.9" font-weight="normal" fill="#231f20">0.98</text><text transform="translate(35.72 305.39) scale(0.8301 1)" font-size="13.9" font-weight="normal" fill="#231f20">0.975</text><text transform="translate(42.23 344.76) scale(0.8301 1)" font-size="13.9" font-weight="normal" fill="#231f20">0.97</text><text transform="translate(35.72 384.13) scale(0.8301 1)" font-size="13.9" font-weight="normal" fill="#231f20">0.965</text><text transform="translate(42.18 423.50) scale(0.8301 1)" font-size="13.9" font-weight="normal" fill="#231f20">0.96</text><text transform="translate(70.64 442.00) scale(0.9173 1)" font-size="14" font-weight="normal" fill="#231f20">0</text><text transform="translate(145.56 442.00) scale(0.9173 1)" font-size="14" font-weight="normal" fill="#231f20">1</text><text transform="translate(220.80 442.00) scale(0.9173 1)" font-size="14" font-weight="normal" fill="#231f20">2</text><text transform="translate(295.91 442.00) scale(0.9173 1)" font-size="14" font-weight="normal" fill="#231f20">3</text><text transform="translate(370.99 442.00) scale(0.9173 1)" font-size="14" font-weight="normal" fill="#231f20">4</text><text transform="translate(446.04 442.00) scale(0.9173 1)" font-size="14" font-weight="normal" fill="#231f20">5</text><text transform="translate(521.08 442.00) scale(0.9173 1)" font-size="14" font-weight="normal" fill="#231f20">6</text><text transform="translate(596.20 442.00) scale(0.9173 1)" font-size="14" font-weight="normal" fill="#231f20">7</text><text transform="translate(671.24 442.00) scale(0.9173 1)" font-size="14" font-weight="normal" fill="#231f20">8</text><text transform="translate(746.36 442.00) scale(0.9173 1)" font-size="14" font-weight="normal" fill="#231f20">9</text><text transform="translate(818.67 442.00) scale(0.7897 1)" font-size="14" font-weight="normal" fill="#231f20">10</text><text transform="translate(894.72 442.00) scale(0.7221 1)" font-size="14" font-weight="normal" fill="#231f20">11</text><text transform="translate(969.05 442.00) scale(0.7687 1)" font-size="14" font-weight="normal" fill="#231f20">12</text><text transform="translate(393.73 469.60) scale(0.8349 1)" font-size="17.5" font-weight="normal" fill="#231f20">Years since launch (February 11, 2013)</text><text transform="translate(20.10 378.99) rotate(-90) scale(0.8575 1)" font-size="17.3" font-weight="normal" fill="#231f20">Response relative to mission day 75, in percent</text><text transform="translate(469.98 508.80) scale(0.8440 1)" font-size="16.7" font-weight="bold" fill="#231f20">EXPLANATION</text><path d="M170.6 533.2H200.8" stroke="#7b6446" stroke-width="5" stroke-linecap="round"/><text transform="translate(212.50 538.00) scale(0.8360 1)" font-size="15" font-weight="bold" fill="#231f20">Gain model</text><path d="M308.6 525.3L315.9 532.6L308.6 539.9L301.3 532.6Z" fill="#93b2dd" stroke="#3b62a2" stroke-width="1.0"/><path d="M308.6 557.1L315.9 564.4L308.6 571.7L301.3 564.4Z" fill="#1f4a86" stroke="#0c1a33" stroke-width="1.0"/><rect x="548" y="525.2" width="15" height="14.8" fill="#fde59a" stroke="#eeb07c" stroke-width="0.8"/><rect x="548" y="557.4" width="15" height="14.6" fill="#e8701f" stroke="#c85a1a" stroke-width="0.8"/><path d="M734.2 525.2L741.5 540L727 540Z" fill="#8e1a55" stroke="#4e0c2c" stroke-width="1.0" stroke-linejoin="miter"/><path d="M734.2 556.7L741.5 572L727 572Z" fill="#9dc25c" stroke="#36842a" stroke-width="1.0" stroke-linejoin="miter"/><g><text transform="translate(324.93 537.90) scale(0.8296 1)" font-size="15" font-weight="bold" fill="#231f20">Stimulation (stim) lamp</text><text transform="translate(463.20 537.90) scale(0.9175 1)" font-size="15" font-weight="normal" fill="#231f20">—Working</text><text transform="translate(324.93 569.50) scale(0.8266 1)" font-size="15" font-weight="bold" fill="#231f20">Stim lamp</text><text transform="translate(384.70 569.50) scale(0.9003 1)" font-size="15" font-weight="normal" fill="#231f20">—Backup</text><text transform="translate(573.82 537.80) scale(0.8519 1)" font-size="15" font-weight="bold" fill="#231f20">Solar panel</text><text transform="translate(642.70 537.80) scale(0.9102 1)" font-size="15" font-weight="normal" fill="#231f20">—Working</text><text transform="translate(573.82 569.40) scale(0.8519 1)" font-size="15" font-weight="bold" fill="#231f20">Solar panel</text><text transform="translate(642.70 569.40) scale(0.8904 1)" font-size="15" font-weight="normal" fill="#231f20">—Pristine</text><text transform="translate(752.63 537.60) scale(0.8167 1)" font-size="15" font-weight="bold" fill="#231f20">Stim lamp</text><text transform="translate(811.60 537.60) scale(0.9075 1)" font-size="15" font-weight="normal" fill="#231f20">—Pristine</text><text transform="translate(752.22 569.40) scale(0.8000 1)" font-size="15" font-weight="bold" fill="#231f20">Lunar</text></g></g></svg></body></html>
